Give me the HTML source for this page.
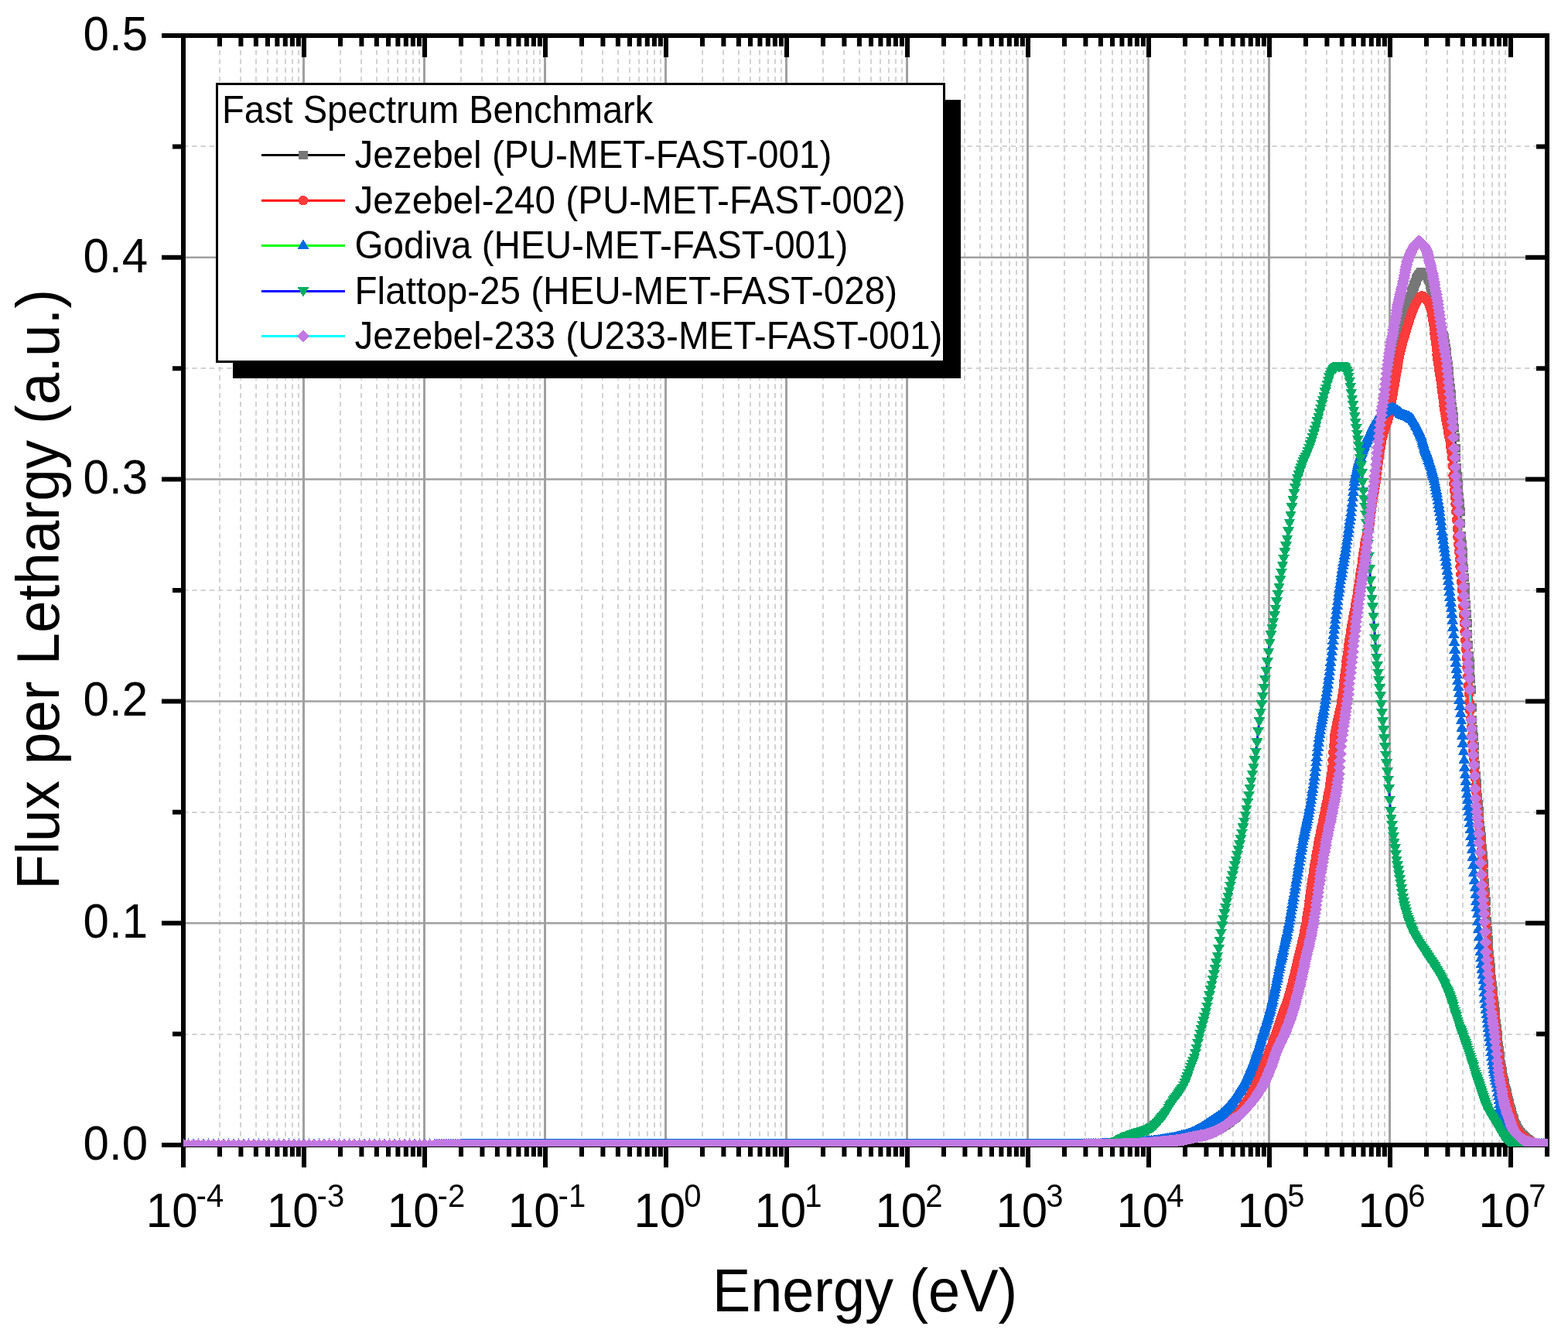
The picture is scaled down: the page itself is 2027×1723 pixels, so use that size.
<!DOCTYPE html><html><head><meta charset="utf-8"><title>Fast Spectrum Benchmark</title><style>html,body{margin:0;padding:0;background:#fff;overflow:hidden}svg{display:block}</style></head><body><svg xmlns="http://www.w3.org/2000/svg" width="2027" height="1723" viewBox="0 0 2027 1723"><rect width="2027" height="1723" fill="#fff"/><path d="M284 1480V46M311 1480V46M331 1480V46M346 1480V46M358 1480V46M369 1480V46M378 1480V46M386 1480V46M440 1480V46M467 1480V46M487 1480V46M502 1480V46M514 1480V46M525 1480V46M534 1480V46M542 1480V46M596 1480V46M623 1480V46M643 1480V46M658 1480V46M670 1480V46M681 1480V46M690 1480V46M698 1480V46M752 1480V46M779 1480V46M799 1480V46M814 1480V46M826 1480V46M837 1480V46M846 1480V46M854 1480V46M908 1480V46M935 1480V46M955 1480V46M970 1480V46M982 1480V46M993 1480V46M1002 1480V46M1010 1480V46M1064 1480V46M1091 1480V46M1111 1480V46M1126 1480V46M1138 1480V46M1149 1480V46M1158 1480V46M1166 1480V46M1220 1480V46M1247 1480V46M1267 1480V46M1282 1480V46M1294 1480V46M1305 1480V46M1314 1480V46M1322 1480V46M1376 1480V46M1403 1480V46M1423 1480V46M1438 1480V46M1450 1480V46M1461 1480V46M1470 1480V46M1478 1480V46M1532 1480V46M1559 1480V46M1579 1480V46M1594 1480V46M1606 1480V46M1617 1480V46M1626 1480V46M1634 1480V46M1688 1480V46M1715 1480V46M1735 1480V46M1750 1480V46M1762 1480V46M1773 1480V46M1782 1480V46M1790 1480V46M1844 1480V46M1871 1480V46M1891 1480V46M1906 1480V46M1918 1480V46M1929 1480V46M1938 1480V46M1946 1480V46" stroke="#d2d2d2" stroke-width="2" stroke-dasharray="6.5 4.86" fill="none"/><path d="M237 1337H2000M237 1050H2000M237 763H2000M237 476H2000M237 189H2000" stroke="#d2d2d2" stroke-width="2" stroke-dasharray="6.3 4.96" fill="none"/><path d="M392.5 49V1477M548.5 49V1477M704.5 49V1477M860.5 49V1477M1016.5 49V1477M1172.5 49V1477M1328.5 49V1477M1484.5 49V1477M1640.5 49V1477M1796.5 49V1477" stroke="#a0a0a0" stroke-width="3" fill="none"/><path d="M240 1193.2H1997M240 906.4H1997M240 619.6H1997M240 332.8H1997" stroke="#a0a0a0" stroke-width="2.5" fill="none"/><path d="M234 43H2003V1483H234ZM240 49V1477H1997V49Z" fill="#000" fill-rule="evenodd"/><path d="M234 1483h6v26h-6zM390 1483h6v26h-6zM546 1483h6v26h-6zM702 1483h6v26h-6zM858 1483h6v26h-6zM1014 1483h6v26h-6zM1170 1483h6v26h-6zM1326 1483h6v26h-6zM1482 1483h6v26h-6zM1638 1483h6v26h-6zM1794 1483h6v26h-6zM1950 1483h6v26h-6zM281 1483h6v12h-6zM308.4 1483h6v12h-6zM327.9 1483h6v12h-6zM343 1483h6v12h-6zM355.4 1483h6v12h-6zM365.8 1483h6v12h-6zM374.9 1483h6v12h-6zM382.9 1483h6v12h-6zM437 1483h6v12h-6zM464.4 1483h6v12h-6zM483.9 1483h6v12h-6zM499 1483h6v12h-6zM511.4 1483h6v12h-6zM521.8 1483h6v12h-6zM530.9 1483h6v12h-6zM538.9 1483h6v12h-6zM593 1483h6v12h-6zM620.4 1483h6v12h-6zM639.9 1483h6v12h-6zM655 1483h6v12h-6zM667.4 1483h6v12h-6zM677.8 1483h6v12h-6zM686.9 1483h6v12h-6zM694.9 1483h6v12h-6zM749 1483h6v12h-6zM776.4 1483h6v12h-6zM795.9 1483h6v12h-6zM811 1483h6v12h-6zM823.4 1483h6v12h-6zM833.8 1483h6v12h-6zM842.9 1483h6v12h-6zM850.9 1483h6v12h-6zM905 1483h6v12h-6zM932.4 1483h6v12h-6zM951.9 1483h6v12h-6zM967 1483h6v12h-6zM979.4 1483h6v12h-6zM989.8 1483h6v12h-6zM998.9 1483h6v12h-6zM1006.9 1483h6v12h-6zM1061 1483h6v12h-6zM1088.4 1483h6v12h-6zM1107.9 1483h6v12h-6zM1123 1483h6v12h-6zM1135.4 1483h6v12h-6zM1145.8 1483h6v12h-6zM1154.9 1483h6v12h-6zM1162.9 1483h6v12h-6zM1217 1483h6v12h-6zM1244.4 1483h6v12h-6zM1263.9 1483h6v12h-6zM1279 1483h6v12h-6zM1291.4 1483h6v12h-6zM1301.8 1483h6v12h-6zM1310.9 1483h6v12h-6zM1318.9 1483h6v12h-6zM1373 1483h6v12h-6zM1400.4 1483h6v12h-6zM1419.9 1483h6v12h-6zM1435 1483h6v12h-6zM1447.4 1483h6v12h-6zM1457.8 1483h6v12h-6zM1466.9 1483h6v12h-6zM1474.9 1483h6v12h-6zM1529 1483h6v12h-6zM1556.4 1483h6v12h-6zM1575.9 1483h6v12h-6zM1591 1483h6v12h-6zM1603.4 1483h6v12h-6zM1613.8 1483h6v12h-6zM1622.9 1483h6v12h-6zM1630.9 1483h6v12h-6zM1685 1483h6v12h-6zM1712.4 1483h6v12h-6zM1731.9 1483h6v12h-6zM1747 1483h6v12h-6zM1759.4 1483h6v12h-6zM1769.8 1483h6v12h-6zM1778.9 1483h6v12h-6zM1786.9 1483h6v12h-6zM1841 1483h6v12h-6zM1868.4 1483h6v12h-6zM1887.9 1483h6v12h-6zM1903 1483h6v12h-6zM1915.4 1483h6v12h-6zM1925.8 1483h6v12h-6zM1934.9 1483h6v12h-6zM1942.9 1483h6v12h-6zM1997 1483h6v12h-6zM390 49h6v25h-6zM546 49h6v25h-6zM702 49h6v25h-6zM858 49h6v25h-6zM1014 49h6v25h-6zM1170 49h6v25h-6zM1326 49h6v25h-6zM1482 49h6v25h-6zM1638 49h6v25h-6zM1794 49h6v25h-6zM1950 49h6v25h-6zM281 49h6v11h-6zM308.4 49h6v11h-6zM327.9 49h6v11h-6zM343 49h6v11h-6zM355.4 49h6v11h-6zM365.8 49h6v11h-6zM374.9 49h6v11h-6zM382.9 49h6v11h-6zM437 49h6v11h-6zM464.4 49h6v11h-6zM483.9 49h6v11h-6zM499 49h6v11h-6zM511.4 49h6v11h-6zM521.8 49h6v11h-6zM530.9 49h6v11h-6zM538.9 49h6v11h-6zM593 49h6v11h-6zM620.4 49h6v11h-6zM639.9 49h6v11h-6zM655 49h6v11h-6zM667.4 49h6v11h-6zM677.8 49h6v11h-6zM686.9 49h6v11h-6zM694.9 49h6v11h-6zM749 49h6v11h-6zM776.4 49h6v11h-6zM795.9 49h6v11h-6zM811 49h6v11h-6zM823.4 49h6v11h-6zM833.8 49h6v11h-6zM842.9 49h6v11h-6zM850.9 49h6v11h-6zM905 49h6v11h-6zM932.4 49h6v11h-6zM951.9 49h6v11h-6zM967 49h6v11h-6zM979.4 49h6v11h-6zM989.8 49h6v11h-6zM998.9 49h6v11h-6zM1006.9 49h6v11h-6zM1061 49h6v11h-6zM1088.4 49h6v11h-6zM1107.9 49h6v11h-6zM1123 49h6v11h-6zM1135.4 49h6v11h-6zM1145.8 49h6v11h-6zM1154.9 49h6v11h-6zM1162.9 49h6v11h-6zM1217 49h6v11h-6zM1244.4 49h6v11h-6zM1263.9 49h6v11h-6zM1279 49h6v11h-6zM1291.4 49h6v11h-6zM1301.8 49h6v11h-6zM1310.9 49h6v11h-6zM1318.9 49h6v11h-6zM1373 49h6v11h-6zM1400.4 49h6v11h-6zM1419.9 49h6v11h-6zM1435 49h6v11h-6zM1447.4 49h6v11h-6zM1457.8 49h6v11h-6zM1466.9 49h6v11h-6zM1474.9 49h6v11h-6zM1529 49h6v11h-6zM1556.4 49h6v11h-6zM1575.9 49h6v11h-6zM1591 49h6v11h-6zM1603.4 49h6v11h-6zM1613.8 49h6v11h-6zM1622.9 49h6v11h-6zM1630.9 49h6v11h-6zM1685 49h6v11h-6zM1712.4 49h6v11h-6zM1731.9 49h6v11h-6zM1747 49h6v11h-6zM1759.4 49h6v11h-6zM1769.8 49h6v11h-6zM1778.9 49h6v11h-6zM1786.9 49h6v11h-6zM1841 49h6v11h-6zM1868.4 49h6v11h-6zM1887.9 49h6v11h-6zM1903 49h6v11h-6zM1915.4 49h6v11h-6zM1925.8 49h6v11h-6zM1934.9 49h6v11h-6zM1942.9 49h6v11h-6zM209 1477h25v6h-25zM209 1190.2h25v6h-25zM209 903.4h25v6h-25zM209 616.6h25v6h-25zM209 329.8h25v6h-25zM209 43h25v6h-25zM223 1333.6h11v6h-11zM223 1046.8h11v6h-11zM223 760h11v6h-11zM223 473.2h11v6h-11zM223 186.4h11v6h-11zM1972 1190.2h25v6h-25zM1972 903.4h25v6h-25zM1972 616.6h25v6h-25zM1972 329.8h25v6h-25zM1986 1333.6h11v6h-11zM1986 1046.8h11v6h-11zM1986 760h11v6h-11zM1986 473.2h11v6h-11zM1986 186.4h11v6h-11z" fill="#000"/><clipPath id="cp"><rect x="237" y="46" width="1764" height="1436"/></clipPath><g clip-path="url(#cp)"><path d="M237 1480 1400 1480 1400.8 1480 1401.5 1480 1402.2 1480 1403 1480 1403.8 1480 1404.5 1480 1405.2 1480 1406 1480 1406.8 1480 1407.5 1480 1408.2 1480 1409 1480 1409.8 1480 1410.5 1480 1411.2 1480 1412 1480 1412.8 1479.9 1413.5 1479.9 1414.2 1479.9 1415 1479.9 1415.8 1479.9 1416.5 1479.9 1417.2 1479.9 1418 1479.9 1418.8 1479.9 1419.5 1479.9 1420.2 1479.9 1421 1479.9 1421.8 1479.8 1422.5 1479.8 1423.2 1479.8 1424 1479.8 1424.8 1479.8 1425.5 1479.8 1426.2 1479.8 1427 1479.8 1427.8 1479.7 1428.5 1479.7 1429.2 1479.7 1430 1479.7 1430.8 1479.7 1431.5 1479.7 1432.2 1479.7 1433 1479.6 1433.8 1479.6 1434.5 1479.6 1435.2 1479.6 1436 1479.6 1436.8 1479.6 1437.5 1479.6 1438.2 1479.5 1439 1479.5 1439.8 1479.5 1440.5 1479.5 1441.2 1479.5 1442 1479.4 1442.8 1479.4 1443.5 1479.4 1444.2 1479.4 1445 1479.4 1445.8 1479.3 1446.5 1479.3 1447.2 1479.3 1448 1479.3 1448.8 1479.3 1449.5 1479.2 1450.2 1479.2 1451 1479.2 1451.8 1479.2 1452.5 1479.1 1453.2 1479.1 1454 1479.1 1454.8 1479.1 1455.5 1479.1 1456.2 1479 1457 1479 1457.8 1479 1458.5 1479 1459.2 1478.9 1460 1478.9 1460.8 1478.9 1461.5 1478.9 1462.2 1478.8 1463 1478.8 1463.8 1478.8 1464.5 1478.8 1465.2 1478.7 1466 1478.7 1466.8 1478.7 1467.5 1478.6 1468.2 1478.6 1469 1478.6 1469.8 1478.6 1470.5 1478.5 1471.2 1478.5 1472 1478.5 1472.8 1478.4 1473.5 1478.4 1474.2 1478.4 1475 1478.4 1475.8 1478.3 1476.5 1478.3 1477.2 1478.3 1478 1478.2 1478.8 1478.2 1479.5 1478.2 1480.2 1478.1 1481 1478.1 1481.8 1478.1 1482.5 1478 1483.2 1478 1484 1478 1484.8 1477.9 1485.5 1477.9 1486.2 1477.9 1487 1477.8 1487.8 1477.8 1488.5 1477.7 1489.2 1477.7 1490 1477.6 1490.8 1477.6 1491.5 1477.5 1492.2 1477.5 1493 1477.4 1493.8 1477.3 1494.5 1477.3 1495.2 1477.2 1496 1477.1 1496.8 1477 1497.5 1477 1498.2 1476.9 1499 1476.8 1499.8 1476.7 1500.5 1476.6 1501.2 1476.6 1502 1476.5 1502.8 1476.4 1503.5 1476.3 1504.2 1476.2 1505 1476.1 1505.8 1476 1506.5 1475.9 1507.2 1475.8 1508 1475.7 1508.8 1475.6 1509.5 1475.5 1510.2 1475.4 1511 1475.3 1511.8 1475.2 1512.5 1475.1 1513.2 1475 1514 1474.8 1514.8 1474.7 1515.5 1474.6 1516.2 1474.5 1517 1474.4 1517.8 1474.3 1518.5 1474.2 1519.2 1474 1520 1473.9 1520.8 1473.8 1521.5 1473.7 1522.2 1473.6 1523 1473.4 1523.8 1473.3 1524.5 1473.2 1525.2 1473.1 1526 1473 1526.8 1472.8 1527.5 1472.7 1528.2 1472.6 1529 1472.5 1529.8 1472.3 1530.5 1472.2 1531.2 1472.1 1532 1472 1532.8 1471.8 1533.5 1471.7 1534.2 1471.6 1535 1471.5 1535.8 1471.3 1536.5 1471.2 1537.2 1471 1538 1470.9 1538.8 1470.8 1539.5 1470.6 1540.2 1470.5 1541 1470.3 1541.8 1470.2 1542.5 1470 1543.2 1469.8 1544 1469.7 1544.8 1469.5 1545.5 1469.4 1546.2 1469.2 1547 1469 1547.8 1468.8 1548.5 1468.7 1549.2 1468.5 1550 1468.3 1550.8 1468.1 1551.5 1467.9 1552.2 1467.7 1553 1467.5 1553.8 1467.3 1554.5 1467.1 1555.2 1466.9 1556 1466.7 1556.8 1466.5 1557.5 1466.3 1558.2 1466.1 1559 1465.8 1559.8 1465.6 1560.5 1465.4 1561.2 1465.1 1562 1464.8 1562.8 1464.6 1563.5 1464.3 1564.2 1464 1565 1463.7 1565.8 1463.4 1566.5 1463.1 1567.2 1462.8 1568 1462.5 1568.8 1462.1 1569.5 1461.8 1570.2 1461.5 1571 1461.1 1571.8 1460.8 1572.5 1460.4 1573.2 1460.1 1574 1459.7 1574.8 1459.3 1575.5 1458.9 1576.2 1458.5 1577 1458.1 1577.8 1457.7 1578.5 1457.3 1579.2 1456.8 1580 1456.4 1580.8 1455.9 1581.5 1455.4 1582.2 1455 1583 1454.5 1583.8 1454 1584.5 1453.5 1585.2 1453 1586 1452.4 1586.8 1451.8 1587.5 1451.3 1588.2 1450.7 1589 1450.1 1589.8 1449.5 1590.5 1448.9 1591.2 1448.4 1592 1447.8 1592.8 1447.2 1593.5 1446.7 1594.2 1446.1 1595 1445.6 1595.8 1445 1596.5 1444.4 1597.2 1443.8 1598 1443.2 1598.8 1442.6 1599.5 1441.9 1600.2 1441.2 1601 1440.5 1601.8 1439.7 1602.5 1438.9 1603.2 1438.1 1604 1437.3 1604.8 1436.5 1605.5 1435.6 1606.2 1434.7 1607 1433.9 1607.8 1433 1608.5 1432 1609.2 1431.1 1610 1430.2 1610.8 1429.2 1611.5 1428.3 1612.2 1427.3 1613 1426.4 1613.8 1425.4 1614.5 1424.4 1615.2 1423.4 1616 1422.3 1616.8 1421.3 1617.5 1420.2 1618.2 1419.1 1619 1418 1619.8 1416.9 1620.5 1415.7 1621.2 1414.5 1622 1413.3 1622.8 1412 1623.5 1410.8 1624.2 1409.4 1625 1408.1 1625.8 1406.7 1626.5 1405.3 1627.2 1403.8 1628 1402.3 1628.8 1400.7 1629.5 1399 1630.2 1397.3 1631 1395.6 1631.8 1393.8 1632.5 1392 1633.2 1390.2 1634 1388.3 1634.8 1386.5 1635.5 1384.6 1636.2 1382.7 1637 1380.9 1637.8 1379 1638.5 1377.1 1639.2 1375.1 1640 1373.1 1640.8 1371.1 1641.5 1369.1 1642.2 1367.1 1643 1365.1 1643.8 1363.1 1644.5 1361.2 1645.2 1359.2 1646 1357.3 1646.8 1355.5 1647.5 1353.7 1648.2 1352 1649 1350.2 1649.8 1348.5 1650.5 1346.8 1651.2 1345.1 1652 1343.4 1652.8 1341.7 1653.5 1339.9 1654.2 1338.1 1655 1336.2 1655.8 1334.3 1656.5 1332.3 1657.2 1330.2 1658 1328.1 1658.8 1326 1659.5 1323.8 1660.2 1321.7 1661 1319.5 1661.8 1317.2 1662.5 1315 1663.2 1312.8 1664 1310.6 1664.8 1308.4 1665.5 1306.3 1666.2 1304.1 1667 1301.9 1667.8 1299.7 1668.5 1297.4 1669.2 1295 1670 1292.6 1670.8 1290 1671.5 1287.3 1672.2 1284.6 1673 1281.7 1673.8 1278.8 1674.5 1275.8 1675.2 1272.7 1676 1269.6 1676.8 1266.4 1677.5 1263.2 1678.2 1260 1679 1256.7 1679.8 1253.5 1680.5 1250.2 1681.2 1246.9 1682 1243.7 1682.8 1240.5 1683.5 1237.3 1684.2 1234.2 1685 1231.1 1685.8 1227.9 1686.5 1224.8 1687.2 1221.6 1688 1218.3 1688.8 1215 1689.5 1211.6 1690.2 1208.1 1691 1204.4 1691.8 1200.7 1692.5 1196.7 1693.2 1192.6 1694 1188.2 1694.8 1183.3 1695.5 1178.2 1696.2 1172.8 1697 1167.3 1697.8 1161.7 1698.5 1156.1 1699.2 1150.6 1700 1145.3 1700.8 1140.3 1701.5 1135.4 1702.2 1130.7 1703 1126 1703.8 1121.3 1704.5 1116.7 1705.2 1112.1 1706 1107.6 1706.8 1103.2 1707.5 1098.9 1708.2 1094.7 1709 1090.5 1709.8 1086.5 1710.5 1082.6 1711.2 1078.8 1712 1075.1 1712.8 1071.6 1713.5 1068 1714.2 1064.5 1715 1061 1715.8 1057.4 1716.5 1053.8 1717.2 1050 1718 1046.1 1718.8 1042.4 1719.5 1038.8 1720.2 1035.1 1721 1031.4 1721.8 1027.6 1722.5 1023.5 1723.2 1019.2 1724 1014.5 1724.8 1009.4 1725.5 1003.8 1726.2 996.6 1727 987.8 1727.8 978.3 1728.5 968.8 1729.2 960.1 1730 952.9 1730.8 947.2 1731.5 942.2 1732.2 937.8 1733 933.7 1733.8 929.9 1734.5 926.2 1735.2 922.5 1736 918.6 1736.8 914.4 1737.5 909.7 1738.2 904.4 1739 898.5 1739.8 892.1 1740.5 885.3 1741.2 878.4 1742 871.6 1742.8 865 1743.5 858.7 1744.2 852.4 1745 846.2 1745.8 840.1 1746.5 834.1 1747.2 828.2 1748 822.5 1748.8 817 1749.5 811.7 1750.2 806.7 1751 801.8 1751.8 797 1752.5 792.3 1753.2 787.6 1754 782.9 1754.8 778.2 1755.5 773.3 1756.2 768.4 1757 763.4 1757.8 758.4 1758.5 753.4 1759.2 748.4 1760 743.4 1760.8 738.4 1761.5 733.3 1762.2 728.1 1763 722.9 1763.8 717.6 1764.5 712.2 1765.2 706.8 1766 701.5 1766.8 696.7 1767.5 692.5 1768.2 688.6 1769 684.7 1769.8 680.5 1770.5 675.7 1771.2 670 1772 663.6 1772.8 657 1773.5 650.6 1774.2 644.9 1775 639.8 1775.8 635 1776.5 630.3 1777.2 625.3 1778 619.9 1778.8 613.7 1779.5 606.8 1780.2 599.6 1781 592.9 1781.8 586.8 1782.5 581 1783.2 575.5 1784 570.2 1784.8 565.5 1785.5 561.4 1786.2 557.7 1787 554.2 1787.8 550.9 1788.5 547.7 1789.2 544.6 1790 541.4 1790.8 538.2 1791.5 534.8 1792.2 531.3 1793 527.4 1793.8 523.4 1794.5 519.2 1795.2 514.9 1796 510.6 1796.8 506.4 1797.5 502.3 1798.2 498.1 1799 494 1799.8 489.8 1800.5 485.8 1801.2 481.8 1802 478 1802.8 474.3 1803.5 470.7 1804.2 467.3 1805 463.9 1805.8 460.5 1806.5 457 1807.2 453.6 1808 450 1808.8 446.3 1809.5 442.5 1810.2 438.6 1811 434.7 1811.8 430.9 1812.5 427.1 1813.2 423.5 1814 420 1814.8 416.7 1815.5 413.5 1816.2 410.3 1817 407.3 1817.8 404.3 1818.5 401.3 1819.2 398.5 1820 395.7 1820.8 392.9 1821.5 390.2 1822.2 387.5 1823 384.9 1823.8 382.3 1824.5 379.7 1825.2 377.3 1826 374.9 1826.8 372.6 1827.5 370.4 1828.2 368.3 1829 366.2 1829.8 364.2 1830.5 362.2 1831.2 360.4 1832 358.8 1832.8 357.4 1833.5 356.2 1834.2 355.1 1835 354 1835.8 353 1836.5 352.1 1837.2 351.5 1838 351.1 1838.8 351 1839.5 351.2 1840.2 351.5 1841 352 1841.8 352.6 1842.5 353.4 1843.2 354.2 1844 355 1844.8 356.1 1845.5 357.6 1846.2 359.4 1847 361.5 1847.8 363.8 1848.5 366.3 1849.2 368.9 1850 372 1850.8 375.6 1851.5 379.5 1852.2 383.7 1853 388 1853.8 392.9 1854.5 398.6 1855.2 404.4 1856 409.7 1856.8 413.9 1857.5 416.8 1858.2 419.1 1859 421.1 1859.8 422.8 1860.5 424.2 1861.2 425.5 1862 426.8 1862.8 428 1863.5 429.3 1864.2 430.7 1865 432.4 1865.8 434.3 1866.5 436.6 1867.2 439.4 1868 443.9 1868.8 449.3 1869.5 454.7 1870.2 460.4 1871 466.5 1871.8 472.9 1872.5 479.6 1873.2 486.6 1874 493.8 1874.8 501.4 1875.5 509.3 1876.2 517.3 1877 525 1877.8 531.8 1878.5 538.1 1879.2 544.9 1880 553.3 1880.8 565.3 1881.5 579.1 1882.2 591.7 1883 604 1883.8 615.6 1884.5 625.8 1885.2 634.2 1886 642 1886.8 650.5 1887.5 661.3 1888.2 676.8 1889 692.3 1889.8 703.9 1890.5 713.9 1891.2 723.7 1892 734.5 1892.8 746.1 1893.5 758.1 1894.2 769.9 1895 781.3 1895.8 793 1896.5 805.5 1897.2 819.5 1898 833.9 1898.8 847.2 1899.5 857.9 1900.2 867.1 1901 877.3 1901.8 891.8 1902.5 914.5 1903.2 930.4 1904 942 1904.8 952.7 1905.5 964.3 1906.2 976.2 1907 988.7 1907.8 1002.6 1908.5 1012 1909.2 1021 1910 1030 1910.8 1039.1 1911.5 1048.3 1912.2 1057.4 1913 1066 1913.8 1073.8 1914.5 1081 1915.2 1088.3 1916 1096.1 1916.8 1105.2 1917.5 1116 1918.2 1128 1919 1140.3 1919.8 1152.4 1920.5 1164.7 1921.2 1177.4 1922 1190.2 1922.8 1202.6 1923.5 1214.2 1924.2 1224.7 1925 1233.9 1925.8 1242.6 1926.5 1250.7 1927.2 1258.4 1928 1265.8 1928.8 1273 1929.5 1280 1930.2 1286.8 1931 1293.7 1931.8 1300.7 1932.5 1307.8 1933.2 1315 1934 1322.4 1934.8 1329.7 1935.5 1337 1936.2 1344.2 1937 1351.1 1937.8 1357.8 1938.5 1364.1 1939.2 1370 1940 1375.5 1940.8 1380.3 1941.5 1384.7 1942.2 1388.8 1943 1392.7 1943.8 1396.3 1944.5 1399.8 1945.2 1403.1 1946 1406.3 1946.8 1409.5 1947.5 1412.6 1948.2 1415.7 1949 1418.8 1949.8 1422 1950.5 1425 1951.2 1428.1 1952 1431 1952.8 1433.8 1953.5 1436.6 1954.2 1439.1 1955 1441.7 1955.8 1444.2 1956.5 1446.6 1957.2 1448.9 1958 1451.2 1958.8 1453.2 1959.5 1454.9 1960.2 1456.5 1961 1457.9 1961.8 1459.1 1962.5 1460.3 1963.2 1461.4 1964 1462.4 1964.8 1463.4 1965.5 1464.3 1966.2 1465.2 1967 1466 1967.8 1466.8 1968.5 1467.5 1969.2 1468.2 1970 1468.9 1970.8 1469.6 1971.5 1470.2 1972.2 1470.8 1973 1471.4 1973.8 1472 1974.5 1472.6 1975.2 1473.2 1976 1473.9 1976.8 1474.5 1977.5 1475.2 1978.2 1475.9 1979 1476.5 1979.8 1477.1 1980.5 1477.6 1981.2 1478.1 1982 1478.6 1982.8 1478.9 1983.5 1479.2 1984.2 1479.4 1985 1479.5 1985.8 1479.5 1986.5 1479.6 1987.2 1479.6 1988 1479.6 1988.8 1479.6 1989.5 1479.7 1990.2 1479.7 1991 1479.7 1991.8 1479.7 1992.5 1479.8 1993.2 1479.8 1994 1479.8 1994.8 1479.8 1995.5 1479.8 1996.2 1479.9 1997 1479.9 1997.8 1479.9 1998.5 1479.9 1999.2 1479.9 2000 1479.9 2000.8 1479.9 2001.5 1479.9 2002.2 1480 2003 1480 2003.8 1480 2004.5 1480 2005.2 1480 2006 1480 2006.8 1480 2007.5 1480" stroke="#000000" stroke-width="3" fill="none" stroke-linejoin="round"/><path d="M231 1474.5h12v11h-12zM237.5 1474.5h12v11h-12zM244 1474.5h12v11h-12zM250.5 1474.5h12v11h-12zM257 1474.5h12v11h-12zM263.5 1474.5h12v11h-12zM270 1474.5h12v11h-12zM276.5 1474.5h12v11h-12zM283 1474.5h12v11h-12zM289.5 1474.5h12v11h-12zM296 1474.5h12v11h-12zM302.5 1474.5h12v11h-12zM309 1474.5h12v11h-12zM315.5 1474.5h12v11h-12zM322 1474.5h12v11h-12zM328.5 1474.5h12v11h-12zM335 1474.5h12v11h-12zM341.5 1474.5h12v11h-12zM348 1474.5h12v11h-12zM354.5 1474.5h12v11h-12zM361 1474.5h12v11h-12zM367.5 1474.5h12v11h-12zM374 1474.5h12v11h-12zM380.5 1474.5h12v11h-12zM387 1474.5h12v11h-12zM393.5 1474.5h12v11h-12zM400 1474.5h12v11h-12zM406.5 1474.5h12v11h-12zM413 1474.5h12v11h-12zM419.5 1474.5h12v11h-12zM426 1474.5h12v11h-12zM432.5 1474.5h12v11h-12zM439 1474.5h12v11h-12zM445.5 1474.5h12v11h-12zM452 1474.5h12v11h-12zM458.5 1474.5h12v11h-12zM465 1474.5h12v11h-12zM471.5 1474.5h12v11h-12zM478 1474.5h12v11h-12zM484.5 1474.5h12v11h-12zM491 1474.5h12v11h-12zM497.5 1474.5h12v11h-12zM504 1474.5h12v11h-12zM510.5 1474.5h12v11h-12zM517 1474.5h12v11h-12zM523.5 1474.5h12v11h-12zM530 1474.5h12v11h-12zM536.5 1474.5h12v11h-12zM543 1474.5h12v11h-12zM549.5 1474.5h12v11h-12zM556 1474.5h12v11h-12zM559 1474.5h12v11h-12zM562 1474.5h12v11h-12zM565 1474.5h12v11h-12zM568 1474.5h12v11h-12zM571 1474.5h12v11h-12zM574 1474.5h12v11h-12zM577 1474.5h12v11h-12zM580 1474.5h12v11h-12zM583 1474.5h12v11h-12zM586 1474.5h12v11h-12zM589 1474.5h12v11h-12zM596 1474.2H1400V1490H596zM1394 1474.5h12v11h-12zM1394.8 1474.5h12v11h-12zM1395.5 1474.5h12v11h-12zM1396.2 1474.5h12v11h-12zM1397 1474.5h12v11h-12zM1397.8 1474.5h12v11h-12zM1398.5 1474.5h12v11h-12zM1399.2 1474.5h12v11h-12zM1400 1474.5h12v11h-12zM1400.8 1474.5h12v11h-12zM1401.5 1474.5h12v11h-12zM1402.2 1474.5h12v11h-12zM1403 1474.5h12v11h-12zM1403.8 1474.5h12v11h-12zM1404.5 1474.5h12v11h-12zM1405.2 1474.5h12v11h-12zM1406 1474.5h12v11h-12zM1406.8 1474.4h12v11h-12zM1407.5 1474.4h12v11h-12zM1408.2 1474.4h12v11h-12zM1409 1474.4h12v11h-12zM1409.8 1474.4h12v11h-12zM1410.5 1474.4h12v11h-12zM1411.2 1474.4h12v11h-12zM1412 1474.4h12v11h-12zM1412.8 1474.4h12v11h-12zM1413.5 1474.4h12v11h-12zM1414.2 1474.4h12v11h-12zM1415 1474.4h12v11h-12zM1415.8 1474.3h12v11h-12zM1416.5 1474.3h12v11h-12zM1417.2 1474.3h12v11h-12zM1418 1474.3h12v11h-12zM1418.8 1474.3h12v11h-12zM1419.5 1474.3h12v11h-12zM1420.2 1474.3h12v11h-12zM1421 1474.3h12v11h-12zM1421.8 1474.2h12v11h-12zM1422.5 1474.2h12v11h-12zM1423.2 1474.2h12v11h-12zM1424 1474.2h12v11h-12zM1424.8 1474.2h12v11h-12zM1425.5 1474.2h12v11h-12zM1426.2 1474.2h12v11h-12zM1427 1474.1h12v11h-12zM1427.8 1474.1h12v11h-12zM1428.5 1474.1h12v11h-12zM1429.2 1474.1h12v11h-12zM1430 1474.1h12v11h-12zM1430.8 1474.1h12v11h-12zM1431.5 1474.1h12v11h-12zM1432.2 1474h12v11h-12zM1433 1474h12v11h-12zM1433.8 1474h12v11h-12zM1434.5 1474h12v11h-12zM1435.2 1474h12v11h-12zM1436 1473.9h12v11h-12zM1436.8 1473.9h12v11h-12zM1437.5 1473.9h12v11h-12zM1438.2 1473.9h12v11h-12zM1439 1473.9h12v11h-12zM1439.8 1473.8h12v11h-12zM1440.5 1473.8h12v11h-12zM1441.2 1473.8h12v11h-12zM1442 1473.8h12v11h-12zM1442.8 1473.8h12v11h-12zM1443.5 1473.7h12v11h-12zM1444.2 1473.7h12v11h-12zM1445 1473.7h12v11h-12zM1445.8 1473.7h12v11h-12zM1446.5 1473.6h12v11h-12zM1447.2 1473.6h12v11h-12zM1448 1473.6h12v11h-12zM1448.8 1473.6h12v11h-12zM1449.5 1473.6h12v11h-12zM1450.2 1473.5h12v11h-12zM1451 1473.5h12v11h-12zM1451.8 1473.5h12v11h-12zM1452.5 1473.5h12v11h-12zM1453.2 1473.4h12v11h-12zM1454 1473.4h12v11h-12zM1454.8 1473.4h12v11h-12zM1455.5 1473.4h12v11h-12zM1456.2 1473.3h12v11h-12zM1457 1473.3h12v11h-12zM1457.8 1473.3h12v11h-12zM1458.5 1473.3h12v11h-12zM1459.2 1473.2h12v11h-12zM1460 1473.2h12v11h-12zM1460.8 1473.2h12v11h-12zM1461.5 1473.1h12v11h-12zM1462.2 1473.1h12v11h-12zM1463 1473.1h12v11h-12zM1463.8 1473.1h12v11h-12zM1464.5 1473h12v11h-12zM1465.2 1473h12v11h-12zM1466 1473h12v11h-12zM1466.8 1472.9h12v11h-12zM1467.5 1472.9h12v11h-12zM1468.2 1472.9h12v11h-12zM1469 1472.9h12v11h-12zM1469.8 1472.8h12v11h-12zM1470.5 1472.8h12v11h-12zM1471.2 1472.8h12v11h-12zM1472 1472.7h12v11h-12zM1472.8 1472.7h12v11h-12zM1473.5 1472.7h12v11h-12zM1474.2 1472.6h12v11h-12zM1475 1472.6h12v11h-12zM1475.8 1472.6h12v11h-12zM1476.5 1472.5h12v11h-12zM1477.2 1472.5h12v11h-12zM1478 1472.5h12v11h-12zM1478.8 1472.4h12v11h-12zM1479.5 1472.4h12v11h-12zM1480.2 1472.4h12v11h-12zM1481 1472.3h12v11h-12zM1481.8 1472.3h12v11h-12zM1482.5 1472.2h12v11h-12zM1483.2 1472.2h12v11h-12zM1484 1472.1h12v11h-12zM1484.8 1472.1h12v11h-12zM1485.5 1472h12v11h-12zM1486.2 1472h12v11h-12zM1487 1471.9h12v11h-12zM1487.8 1471.8h12v11h-12zM1488.5 1471.8h12v11h-12zM1489.2 1471.7h12v11h-12zM1490 1471.6h12v11h-12zM1490.8 1471.5h12v11h-12zM1491.5 1471.5h12v11h-12zM1492.2 1471.4h12v11h-12zM1493 1471.3h12v11h-12zM1493.8 1471.2h12v11h-12zM1494.5 1471.1h12v11h-12zM1495.2 1471.1h12v11h-12zM1496 1471h12v11h-12zM1496.8 1470.9h12v11h-12zM1497.5 1470.8h12v11h-12zM1498.2 1470.7h12v11h-12zM1499 1470.6h12v11h-12zM1499.8 1470.5h12v11h-12zM1500.5 1470.4h12v11h-12zM1501.2 1470.3h12v11h-12zM1502 1470.2h12v11h-12zM1502.8 1470.1h12v11h-12zM1503.5 1470h12v11h-12zM1504.2 1469.9h12v11h-12zM1505 1469.8h12v11h-12zM1505.8 1469.7h12v11h-12zM1506.5 1469.6h12v11h-12zM1507.2 1469.5h12v11h-12zM1508 1469.3h12v11h-12zM1508.8 1469.2h12v11h-12zM1509.5 1469.1h12v11h-12zM1510.2 1469h12v11h-12zM1511 1468.9h12v11h-12zM1511.8 1468.8h12v11h-12zM1512.5 1468.7h12v11h-12zM1513.2 1468.5h12v11h-12zM1514 1468.4h12v11h-12zM1514.8 1468.3h12v11h-12zM1515.5 1468.2h12v11h-12zM1516.2 1468.1h12v11h-12zM1517 1467.9h12v11h-12zM1517.8 1467.8h12v11h-12zM1518.5 1467.7h12v11h-12zM1519.2 1467.6h12v11h-12zM1520 1467.5h12v11h-12zM1520.8 1467.3h12v11h-12zM1521.5 1467.2h12v11h-12zM1522.2 1467.1h12v11h-12zM1523 1467h12v11h-12zM1523.8 1466.8h12v11h-12zM1524.5 1466.7h12v11h-12zM1525.2 1466.6h12v11h-12zM1526 1466.5h12v11h-12zM1526.8 1466.3h12v11h-12zM1527.5 1466.2h12v11h-12zM1528.2 1466.1h12v11h-12zM1529 1466h12v11h-12zM1529.8 1465.8h12v11h-12zM1530.5 1465.7h12v11h-12zM1531.2 1465.5h12v11h-12zM1532 1465.4h12v11h-12zM1532.8 1465.3h12v11h-12zM1533.5 1465.1h12v11h-12zM1534.2 1465h12v11h-12zM1535 1464.8h12v11h-12zM1535.8 1464.7h12v11h-12zM1536.5 1464.5h12v11h-12zM1537.2 1464.3h12v11h-12zM1538 1464.2h12v11h-12zM1538.8 1464h12v11h-12zM1539.5 1463.9h12v11h-12zM1540.2 1463.7h12v11h-12zM1541 1463.5h12v11h-12zM1541.8 1463.3h12v11h-12zM1542.5 1463.2h12v11h-12zM1543.2 1463h12v11h-12zM1544 1462.8h12v11h-12zM1544.8 1462.6h12v11h-12zM1545.5 1462.4h12v11h-12zM1546.2 1462.2h12v11h-12zM1547 1462h12v11h-12zM1547.8 1461.8h12v11h-12zM1548.5 1461.6h12v11h-12zM1549.2 1461.4h12v11h-12zM1550 1461.2h12v11h-12zM1550.8 1461h12v11h-12zM1551.5 1460.8h12v11h-12zM1552.2 1460.6h12v11h-12zM1553 1460.3h12v11h-12zM1553.8 1460.1h12v11h-12zM1554.5 1459.9h12v11h-12zM1555.2 1459.6h12v11h-12zM1556 1459.3h12v11h-12zM1556.8 1459.1h12v11h-12zM1557.5 1458.8h12v11h-12zM1558.2 1458.5h12v11h-12zM1559 1458.2h12v11h-12zM1559.8 1457.9h12v11h-12zM1560.5 1457.6h12v11h-12zM1561.2 1457.3h12v11h-12zM1562 1457h12v11h-12zM1562.8 1456.6h12v11h-12zM1563.5 1456.3h12v11h-12zM1564.2 1456h12v11h-12zM1565 1455.6h12v11h-12zM1565.8 1455.3h12v11h-12zM1566.5 1454.9h12v11h-12zM1567.2 1454.6h12v11h-12zM1568 1454.2h12v11h-12zM1568.8 1453.8h12v11h-12zM1569.5 1453.4h12v11h-12zM1570.2 1453h12v11h-12zM1571 1452.6h12v11h-12zM1571.8 1452.2h12v11h-12zM1572.5 1451.8h12v11h-12zM1573.2 1451.3h12v11h-12zM1574 1450.9h12v11h-12zM1574.8 1450.4h12v11h-12zM1575.5 1449.9h12v11h-12zM1576.2 1449.5h12v11h-12zM1577 1449h12v11h-12zM1577.8 1448.5h12v11h-12zM1578.5 1448h12v11h-12zM1579.2 1447.5h12v11h-12zM1580 1446.9h12v11h-12zM1580.8 1446.3h12v11h-12zM1581.5 1445.8h12v11h-12zM1582.2 1445.2h12v11h-12zM1583 1444.6h12v11h-12zM1583.8 1444h12v11h-12zM1584.5 1443.4h12v11h-12zM1585.2 1442.9h12v11h-12zM1586 1442.3h12v11h-12zM1586.8 1441.7h12v11h-12zM1587.5 1441.2h12v11h-12zM1588.2 1440.6h12v11h-12zM1589 1440.1h12v11h-12zM1589.8 1439.5h12v11h-12zM1590.5 1438.9h12v11h-12zM1591.2 1438.3h12v11h-12zM1592 1437.7h12v11h-12zM1592.8 1437.1h12v11h-12zM1593.5 1436.4h12v11h-12zM1594.2 1435.7h12v11h-12zM1595 1435h12v11h-12zM1595.8 1434.2h12v11h-12zM1596.5 1433.4h12v11h-12zM1597.2 1432.6h12v11h-12zM1598 1431.8h12v11h-12zM1598.8 1431h12v11h-12zM1599.5 1430.1h12v11h-12zM1600.2 1429.2h12v11h-12zM1601 1428.4h12v11h-12zM1601.8 1427.5h12v11h-12zM1602.5 1426.5h12v11h-12zM1603.2 1425.6h12v11h-12zM1604 1424.7h12v11h-12zM1604.8 1423.7h12v11h-12zM1605.5 1422.8h12v11h-12zM1606.2 1421.8h12v11h-12zM1607 1420.9h12v11h-12zM1607.8 1419.9h12v11h-12zM1608.5 1418.9h12v11h-12zM1609.2 1417.9h12v11h-12zM1610 1416.8h12v11h-12zM1610.8 1415.8h12v11h-12zM1611.5 1414.7h12v11h-12zM1612.2 1413.6h12v11h-12zM1613 1412.5h12v11h-12zM1613.8 1411.4h12v11h-12zM1614.5 1410.2h12v11h-12zM1615.2 1409h12v11h-12zM1616 1407.8h12v11h-12zM1616.8 1406.5h12v11h-12zM1617.5 1405.3h12v11h-12zM1618.2 1403.9h12v11h-12zM1619 1402.6h12v11h-12zM1619.8 1401.2h12v11h-12zM1620.5 1399.8h12v11h-12zM1621.2 1398.3h12v11h-12zM1622 1396.8h12v11h-12zM1622.8 1395.2h12v11h-12zM1623.5 1393.5h12v11h-12zM1624.2 1391.8h12v11h-12zM1625 1390.1h12v11h-12zM1625.8 1388.3h12v11h-12zM1626.5 1386.5h12v11h-12zM1627.2 1384.7h12v11h-12zM1628 1382.8h12v11h-12zM1628.8 1381h12v11h-12zM1629.5 1379.1h12v11h-12zM1630.2 1377.2h12v11h-12zM1631 1375.4h12v11h-12zM1631.8 1373.5h12v11h-12zM1632.5 1371.6h12v11h-12zM1633.2 1369.6h12v11h-12zM1634 1367.6h12v11h-12zM1634.8 1365.6h12v11h-12zM1635.5 1363.6h12v11h-12zM1636.2 1361.6h12v11h-12zM1637 1359.6h12v11h-12zM1637.8 1357.6h12v11h-12zM1638.5 1355.7h12v11h-12zM1639.2 1353.7h12v11h-12zM1640 1351.8h12v11h-12zM1640.8 1350h12v11h-12zM1641.5 1348.2h12v11h-12zM1642.2 1346.5h12v11h-12zM1643 1344.7h12v11h-12zM1643.8 1343h12v11h-12zM1644.5 1341.3h12v11h-12zM1645.2 1339.6h12v11h-12zM1646 1337.9h12v11h-12zM1646.8 1336.2h12v11h-12zM1647.5 1334.4h12v11h-12zM1648.2 1332.6h12v11h-12zM1649 1330.7h12v11h-12zM1649.8 1328.8h12v11h-12zM1650.5 1326.8h12v11h-12zM1651.2 1324.7h12v11h-12zM1652 1322.6h12v11h-12zM1652.8 1320.5h12v11h-12zM1653.5 1318.3h12v11h-12zM1654.2 1316.2h12v11h-12zM1655 1314h12v11h-12zM1655.8 1311.7h12v11h-12zM1656.5 1309.5h12v11h-12zM1657.2 1307.3h12v11h-12zM1658 1305.1h12v11h-12zM1658.8 1302.9h12v11h-12zM1659.5 1300.8h12v11h-12zM1660.2 1298.6h12v11h-12zM1661 1296.4h12v11h-12zM1661.8 1294.2h12v11h-12zM1662.5 1291.9h12v11h-12zM1663.2 1289.5h12v11h-12zM1664 1287.1h12v11h-12zM1664.8 1284.5h12v11h-12zM1665.5 1281.8h12v11h-12zM1666.2 1279.1h12v11h-12zM1667 1276.2h12v11h-12zM1667.8 1273.3h12v11h-12zM1668.5 1270.3h12v11h-12zM1669.2 1267.2h12v11h-12zM1670 1264.1h12v11h-12zM1670.8 1260.9h12v11h-12zM1671.5 1257.7h12v11h-12zM1672.2 1254.5h12v11h-12zM1673 1251.2h12v11h-12zM1673.8 1248h12v11h-12zM1674.5 1244.7h12v11h-12zM1675.2 1241.4h12v11h-12zM1676 1238.2h12v11h-12zM1676.8 1235h12v11h-12zM1677.5 1231.8h12v11h-12zM1678.2 1228.7h12v11h-12zM1679 1225.6h12v11h-12zM1679.8 1222.4h12v11h-12zM1680.5 1219.3h12v11h-12zM1681.2 1216.1h12v11h-12zM1682 1212.8h12v11h-12zM1682.8 1209.5h12v11h-12zM1683.5 1206.1h12v11h-12zM1684.2 1202.6h12v11h-12zM1685 1198.9h12v11h-12zM1685.8 1195.2h12v11h-12zM1686.5 1191.2h12v11h-12zM1687.2 1187.1h12v11h-12zM1688 1182.7h12v11h-12zM1688.8 1177.8h12v11h-12zM1689.5 1172.7h12v11h-12zM1690.2 1167.3h12v11h-12zM1691 1161.8h12v11h-12zM1691.8 1156.2h12v11h-12zM1692.5 1150.6h12v11h-12zM1693.2 1145.1h12v11h-12zM1694 1139.8h12v11h-12zM1694.8 1134.8h12v11h-12zM1695.5 1129.9h12v11h-12zM1696.2 1125.2h12v11h-12zM1697 1120.5h12v11h-12zM1697.8 1115.8h12v11h-12zM1698.5 1111.2h12v11h-12zM1699.2 1106.6h12v11h-12zM1700 1102.1h12v11h-12zM1700.8 1097.7h12v11h-12zM1701.5 1093.4h12v11h-12zM1702.2 1089.2h12v11h-12zM1703 1085h12v11h-12zM1703.8 1081h12v11h-12zM1704.5 1077.1h12v11h-12zM1705.2 1073.3h12v11h-12zM1706 1069.6h12v11h-12zM1706.8 1066.1h12v11h-12zM1707.5 1062.5h12v11h-12zM1708.2 1059h12v11h-12zM1709 1055.5h12v11h-12zM1709.8 1051.9h12v11h-12zM1710.5 1048.3h12v11h-12zM1711.2 1044.5h12v11h-12zM1712 1040.6h12v11h-12zM1712.8 1036.9h12v11h-12zM1713.5 1033.3h12v11h-12zM1714.2 1029.6h12v11h-12zM1715 1025.9h12v11h-12zM1715.8 1022.1h12v11h-12zM1716.5 1018h12v11h-12zM1717.2 1013.7h12v11h-12zM1718 1009h12v11h-12zM1718.8 1003.9h12v11h-12zM1719.5 998.3h12v11h-12zM1720.2 991.1h12v11h-12zM1721 982.3h12v11h-12zM1721.8 972.8h12v11h-12zM1722.5 963.3h12v11h-12zM1723.2 954.6h12v11h-12zM1724 947.4h12v11h-12zM1724.8 941.7h12v11h-12zM1725.5 936.7h12v11h-12zM1726.2 932.3h12v11h-12zM1727 928.2h12v11h-12zM1727.8 924.4h12v11h-12zM1728.5 920.7h12v11h-12zM1729.2 917h12v11h-12zM1730 913.1h12v11h-12zM1730.8 908.9h12v11h-12zM1731.5 904.2h12v11h-12zM1732.2 898.9h12v11h-12zM1733 893h12v11h-12zM1733.8 886.6h12v11h-12zM1734.5 879.8h12v11h-12zM1735.2 872.9h12v11h-12zM1736 866.1h12v11h-12zM1736.8 859.5h12v11h-12zM1737.5 853.2h12v11h-12zM1738.2 846.9h12v11h-12zM1739 840.7h12v11h-12zM1739.8 834.6h12v11h-12zM1740.5 828.6h12v11h-12zM1741.2 822.7h12v11h-12zM1742 817h12v11h-12zM1742.8 811.5h12v11h-12zM1743.5 806.2h12v11h-12zM1744.2 801.2h12v11h-12zM1745 796.3h12v11h-12zM1745.8 791.5h12v11h-12zM1746.5 786.8h12v11h-12zM1747.2 782.1h12v11h-12zM1748 777.4h12v11h-12zM1748.8 772.7h12v11h-12zM1749.5 767.8h12v11h-12zM1750.2 762.9h12v11h-12zM1751 757.9h12v11h-12zM1751.8 752.9h12v11h-12zM1752.5 747.9h12v11h-12zM1753.2 742.9h12v11h-12zM1754 737.9h12v11h-12zM1754.8 732.9h12v11h-12zM1755.5 727.8h12v11h-12zM1756.2 722.6h12v11h-12zM1757 717.4h12v11h-12zM1757.8 712.1h12v11h-12zM1758.5 706.7h12v11h-12zM1759.2 701.3h12v11h-12zM1760 696h12v11h-12zM1760.8 691.2h12v11h-12zM1761.5 687h12v11h-12zM1762.2 683.1h12v11h-12zM1763 679.2h12v11h-12zM1763.8 675h12v11h-12zM1764.5 670.2h12v11h-12zM1765.2 664.5h12v11h-12zM1766 658.1h12v11h-12zM1766.8 651.5h12v11h-12zM1767.5 645.1h12v11h-12zM1768.2 639.4h12v11h-12zM1769 634.3h12v11h-12zM1769.8 629.5h12v11h-12zM1770.5 624.8h12v11h-12zM1771.2 619.8h12v11h-12zM1772 614.4h12v11h-12zM1772.8 608.2h12v11h-12zM1773.5 601.3h12v11h-12zM1774.2 594.1h12v11h-12zM1775 587.4h12v11h-12zM1775.8 581.3h12v11h-12zM1776.5 575.5h12v11h-12zM1777.2 570h12v11h-12zM1778 564.7h12v11h-12zM1778.8 560h12v11h-12zM1779.5 555.9h12v11h-12zM1780.2 552.2h12v11h-12zM1781 548.7h12v11h-12zM1781.8 545.4h12v11h-12zM1782.5 542.2h12v11h-12zM1783.2 539.1h12v11h-12zM1784 535.9h12v11h-12zM1784.8 532.7h12v11h-12zM1785.5 529.3h12v11h-12zM1786.2 525.8h12v11h-12zM1787 521.9h12v11h-12zM1787.8 517.9h12v11h-12zM1788.5 513.7h12v11h-12zM1789.2 509.4h12v11h-12zM1790 505.1h12v11h-12zM1790.8 500.9h12v11h-12zM1791.5 496.8h12v11h-12zM1792.2 492.6h12v11h-12zM1793 488.5h12v11h-12zM1793.8 484.3h12v11h-12zM1794.5 480.3h12v11h-12zM1795.2 476.3h12v11h-12zM1796 472.5h12v11h-12zM1796.8 468.8h12v11h-12zM1797.5 465.2h12v11h-12zM1798.2 461.8h12v11h-12zM1799 458.4h12v11h-12zM1799.8 455h12v11h-12zM1800.5 451.5h12v11h-12zM1801.2 448.1h12v11h-12zM1802 444.5h12v11h-12zM1802.8 440.8h12v11h-12zM1803.5 437h12v11h-12zM1804.2 433.1h12v11h-12zM1805 429.2h12v11h-12zM1805.8 425.4h12v11h-12zM1806.5 421.6h12v11h-12zM1807.2 418h12v11h-12zM1808 414.5h12v11h-12zM1808.8 411.2h12v11h-12zM1809.5 408h12v11h-12zM1810.2 404.8h12v11h-12zM1811 401.8h12v11h-12zM1811.8 398.8h12v11h-12zM1812.5 395.8h12v11h-12zM1813.2 393h12v11h-12zM1814 390.2h12v11h-12zM1814.8 387.4h12v11h-12zM1815.5 384.7h12v11h-12zM1816.2 382h12v11h-12zM1817 379.4h12v11h-12zM1817.8 376.8h12v11h-12zM1818.5 374.2h12v11h-12zM1819.2 371.8h12v11h-12zM1820 369.4h12v11h-12zM1820.8 367.1h12v11h-12zM1821.5 364.9h12v11h-12zM1822.2 362.8h12v11h-12zM1823 360.7h12v11h-12zM1823.8 358.7h12v11h-12zM1824.5 356.7h12v11h-12zM1825.2 354.9h12v11h-12zM1826 353.3h12v11h-12zM1826.8 351.9h12v11h-12zM1827.5 350.7h12v11h-12zM1828.2 349.6h12v11h-12zM1829 348.5h12v11h-12zM1829.8 347.5h12v11h-12zM1830.5 346.6h12v11h-12zM1831.2 346h12v11h-12zM1832 345.6h12v11h-12zM1832.8 345.5h12v11h-12zM1833.5 345.7h12v11h-12zM1834.2 346h12v11h-12zM1835 346.5h12v11h-12zM1835.8 347.1h12v11h-12zM1836.5 347.9h12v11h-12zM1837.2 348.7h12v11h-12zM1838 349.5h12v11h-12zM1838.8 350.6h12v11h-12zM1839.5 352.1h12v11h-12zM1840.2 353.9h12v11h-12zM1841 356h12v11h-12zM1841.8 358.3h12v11h-12zM1842.5 360.8h12v11h-12zM1843.2 363.4h12v11h-12zM1844 366.5h12v11h-12zM1844.8 370.1h12v11h-12zM1845.5 374h12v11h-12zM1846.2 378.2h12v11h-12zM1847 382.5h12v11h-12zM1847.8 387.4h12v11h-12zM1848.5 393.1h12v11h-12zM1849.2 398.9h12v11h-12zM1850 404.2h12v11h-12zM1850.8 408.4h12v11h-12zM1851.5 411.3h12v11h-12zM1852.2 413.6h12v11h-12zM1853 415.6h12v11h-12zM1853.8 417.3h12v11h-12zM1854.5 418.7h12v11h-12zM1855.2 420h12v11h-12zM1856 421.3h12v11h-12zM1856.8 422.5h12v11h-12zM1857.5 423.8h12v11h-12zM1858.2 425.2h12v11h-12zM1859 426.9h12v11h-12zM1859.8 428.8h12v11h-12zM1860.5 431.1h12v11h-12zM1861.2 433.9h12v11h-12zM1862 438.4h12v11h-12zM1862.8 443.8h12v11h-12zM1863.5 449.2h12v11h-12zM1864.2 454.9h12v11h-12zM1865 461h12v11h-12zM1865.8 467.4h12v11h-12zM1866.5 474.1h12v11h-12zM1867.2 481.1h12v11h-12zM1868 488.3h12v11h-12zM1868.8 495.9h12v11h-12zM1869.5 503.8h12v11h-12zM1870.2 511.8h12v11h-12zM1871 519.5h12v11h-12zM1871.8 526.3h12v11h-12zM1872.5 532.6h12v11h-12zM1873.2 539.4h12v11h-12zM1874 547.8h12v11h-12zM1874.8 559.8h12v11h-12zM1875.5 573.6h12v11h-12zM1876.2 586.2h12v11h-12zM1877 598.5h12v11h-12zM1877.8 610.1h12v11h-12zM1878.5 620.3h12v11h-12zM1879.2 628.7h12v11h-12zM1880 636.5h12v11h-12zM1880.8 645h12v11h-12zM1881.5 655.8h12v11h-12zM1882.2 671.3h12v11h-12zM1883 686.8h12v11h-12zM1883.8 698.4h12v11h-12zM1884.5 708.4h12v11h-12zM1885.2 718.2h12v11h-12zM1886 729h12v11h-12zM1886.8 740.6h12v11h-12zM1887.5 752.6h12v11h-12zM1888.2 764.4h12v11h-12zM1889 775.8h12v11h-12zM1889.8 787.5h12v11h-12zM1890.5 800h12v11h-12zM1891.2 814h12v11h-12zM1892 828.4h12v11h-12zM1892.8 841.7h12v11h-12zM1893.5 852.4h12v11h-12zM1894.2 861.6h12v11h-12zM1895 871.8h12v11h-12zM1895.8 886.3h12v11h-12zM1896.5 909h12v11h-12zM1897.2 924.9h12v11h-12zM1898 936.5h12v11h-12zM1898.8 947.2h12v11h-12zM1899.5 958.8h12v11h-12zM1900.2 970.7h12v11h-12zM1901 983.2h12v11h-12zM1901.8 997.1h12v11h-12zM1902.5 1006.5h12v11h-12zM1903.2 1015.5h12v11h-12zM1904 1024.5h12v11h-12zM1904.8 1033.6h12v11h-12zM1905.5 1042.8h12v11h-12zM1906.2 1051.9h12v11h-12zM1907 1060.5h12v11h-12zM1907.8 1068.3h12v11h-12zM1908.5 1075.5h12v11h-12zM1909.2 1082.8h12v11h-12zM1910 1090.6h12v11h-12zM1910.8 1099.7h12v11h-12zM1911.5 1110.5h12v11h-12zM1912.2 1122.5h12v11h-12zM1913 1134.8h12v11h-12zM1913.8 1146.9h12v11h-12zM1914.5 1159.2h12v11h-12zM1915.2 1171.9h12v11h-12zM1916 1184.7h12v11h-12zM1916.8 1197.1h12v11h-12zM1917.5 1208.7h12v11h-12zM1918.2 1219.2h12v11h-12zM1919 1228.4h12v11h-12zM1919.8 1237.1h12v11h-12zM1920.5 1245.2h12v11h-12zM1921.2 1252.9h12v11h-12zM1922 1260.3h12v11h-12zM1922.8 1267.5h12v11h-12zM1923.5 1274.5h12v11h-12zM1924.2 1281.3h12v11h-12zM1925 1288.2h12v11h-12zM1925.8 1295.2h12v11h-12zM1926.5 1302.3h12v11h-12zM1927.2 1309.5h12v11h-12zM1928 1316.9h12v11h-12zM1928.8 1324.2h12v11h-12zM1929.5 1331.5h12v11h-12zM1930.2 1338.7h12v11h-12zM1931 1345.6h12v11h-12zM1931.8 1352.3h12v11h-12zM1932.5 1358.6h12v11h-12zM1933.2 1364.5h12v11h-12zM1934 1370h12v11h-12zM1934.8 1374.8h12v11h-12zM1935.5 1379.2h12v11h-12zM1936.2 1383.3h12v11h-12zM1937 1387.2h12v11h-12zM1937.8 1390.8h12v11h-12zM1938.5 1394.3h12v11h-12zM1939.2 1397.6h12v11h-12zM1940 1400.8h12v11h-12zM1940.8 1404h12v11h-12zM1941.5 1407.1h12v11h-12zM1942.2 1410.2h12v11h-12zM1943 1413.3h12v11h-12zM1943.8 1416.5h12v11h-12zM1944.5 1419.5h12v11h-12zM1945.2 1422.6h12v11h-12zM1946 1425.5h12v11h-12zM1946.8 1428.3h12v11h-12zM1947.5 1431.1h12v11h-12zM1948.2 1433.6h12v11h-12zM1949 1436.2h12v11h-12zM1949.8 1438.7h12v11h-12zM1950.5 1441.1h12v11h-12zM1951.2 1443.4h12v11h-12zM1952 1445.7h12v11h-12zM1952.8 1447.7h12v11h-12zM1953.5 1449.4h12v11h-12zM1954.2 1451h12v11h-12zM1955 1452.4h12v11h-12zM1955.8 1453.6h12v11h-12zM1956.5 1454.8h12v11h-12zM1957.2 1455.9h12v11h-12zM1958 1456.9h12v11h-12zM1958.8 1457.9h12v11h-12zM1959.5 1458.8h12v11h-12zM1960.2 1459.7h12v11h-12zM1961 1460.5h12v11h-12zM1961.8 1461.3h12v11h-12zM1962.5 1462h12v11h-12zM1963.2 1462.7h12v11h-12zM1964 1463.4h12v11h-12zM1964.8 1464.1h12v11h-12zM1965.5 1464.7h12v11h-12zM1966.2 1465.3h12v11h-12zM1967 1465.9h12v11h-12zM1967.8 1466.5h12v11h-12zM1968.5 1467.1h12v11h-12zM1969.2 1467.7h12v11h-12zM1970 1468.4h12v11h-12zM1970.8 1469h12v11h-12zM1971.5 1469.7h12v11h-12zM1972.2 1470.4h12v11h-12zM1973 1471h12v11h-12zM1973.8 1471.6h12v11h-12zM1974.5 1472.1h12v11h-12zM1975.2 1472.6h12v11h-12zM1976 1473.1h12v11h-12zM1976.8 1473.4h12v11h-12zM1977.5 1473.7h12v11h-12zM1978.2 1473.9h12v11h-12zM1979 1474h12v11h-12zM1979.8 1474h12v11h-12zM1980.5 1474.1h12v11h-12zM1981.2 1474.1h12v11h-12zM1982 1474.1h12v11h-12zM1982.8 1474.1h12v11h-12zM1983.5 1474.2h12v11h-12zM1984.2 1474.2h12v11h-12zM1985 1474.2h12v11h-12zM1985.8 1474.2h12v11h-12zM1986.5 1474.3h12v11h-12zM1987.2 1474.3h12v11h-12zM1988 1474.3h12v11h-12zM1988.8 1474.3h12v11h-12zM1989.5 1474.3h12v11h-12zM1990.2 1474.4h12v11h-12zM1991 1474.4h12v11h-12zM1991.8 1474.4h12v11h-12zM1992.5 1474.4h12v11h-12zM1993.2 1474.4h12v11h-12zM1994 1474.4h12v11h-12zM1994.8 1474.4h12v11h-12zM1995.5 1474.4h12v11h-12zM1996.2 1474.5h12v11h-12zM1997 1474.5h12v11h-12zM1997.8 1474.5h12v11h-12zM1998.5 1474.5h12v11h-12zM1999.2 1474.5h12v11h-12zM2000 1474.5h12v11h-12zM2000.8 1474.5h12v11h-12zM2001.5 1474.5h12v11h-12z" fill="#777777" shape-rendering="crispEdges"/><path d="M237 1480 1400 1480 1400.8 1480 1401.5 1480 1402.2 1480 1403 1480 1403.8 1480 1404.5 1480 1405.2 1480 1406 1480 1406.8 1480 1407.5 1480 1408.2 1480 1409 1480 1409.8 1480 1410.5 1480 1411.2 1480 1412 1480 1412.8 1480 1413.5 1480 1414.2 1480 1415 1479.9 1415.8 1479.9 1416.5 1479.9 1417.2 1479.9 1418 1479.9 1418.8 1479.9 1419.5 1479.9 1420.2 1479.9 1421 1479.9 1421.8 1479.9 1422.5 1479.9 1423.2 1479.9 1424 1479.9 1424.8 1479.9 1425.5 1479.9 1426.2 1479.8 1427 1479.8 1427.8 1479.8 1428.5 1479.8 1429.2 1479.8 1430 1479.8 1430.8 1479.8 1431.5 1479.8 1432.2 1479.8 1433 1479.8 1433.8 1479.7 1434.5 1479.7 1435.2 1479.7 1436 1479.7 1436.8 1479.7 1437.5 1479.7 1438.2 1479.7 1439 1479.7 1439.8 1479.7 1440.5 1479.6 1441.2 1479.6 1442 1479.6 1442.8 1479.6 1443.5 1479.6 1444.2 1479.6 1445 1479.6 1445.8 1479.5 1446.5 1479.5 1447.2 1479.5 1448 1479.5 1448.8 1479.5 1449.5 1479.5 1450.2 1479.5 1451 1479.4 1451.8 1479.4 1452.5 1479.4 1453.2 1479.4 1454 1479.4 1454.8 1479.4 1455.5 1479.3 1456.2 1479.3 1457 1479.3 1457.8 1479.3 1458.5 1479.3 1459.2 1479.3 1460 1479.2 1460.8 1479.2 1461.5 1479.2 1462.2 1479.2 1463 1479.2 1463.8 1479.2 1464.5 1479.1 1465.2 1479.1 1466 1479.1 1466.8 1479.1 1467.5 1479.1 1468.2 1479 1469 1479 1469.8 1479 1470.5 1479 1471.2 1479 1472 1478.9 1472.8 1478.9 1473.5 1478.9 1474.2 1478.9 1475 1478.8 1475.8 1478.8 1476.5 1478.8 1477.2 1478.7 1478 1478.7 1478.8 1478.6 1479.5 1478.6 1480.2 1478.6 1481 1478.5 1481.8 1478.5 1482.5 1478.4 1483.2 1478.4 1484 1478.3 1484.8 1478.3 1485.5 1478.2 1486.2 1478.1 1487 1478.1 1487.8 1478 1488.5 1478 1489.2 1477.9 1490 1477.8 1490.8 1477.8 1491.5 1477.7 1492.2 1477.6 1493 1477.6 1493.8 1477.5 1494.5 1477.4 1495.2 1477.4 1496 1477.3 1496.8 1477.2 1497.5 1477.2 1498.2 1477.1 1499 1477 1499.8 1476.9 1500.5 1476.9 1501.2 1476.8 1502 1476.7 1502.8 1476.6 1503.5 1476.6 1504.2 1476.5 1505 1476.4 1505.8 1476.3 1506.5 1476.2 1507.2 1476.1 1508 1476 1508.8 1475.9 1509.5 1475.8 1510.2 1475.7 1511 1475.6 1511.8 1475.5 1512.5 1475.4 1513.2 1475.2 1514 1475.1 1514.8 1475 1515.5 1474.9 1516.2 1474.7 1517 1474.6 1517.8 1474.5 1518.5 1474.3 1519.2 1474.2 1520 1474 1520.8 1473.9 1521.5 1473.8 1522.2 1473.6 1523 1473.5 1523.8 1473.3 1524.5 1473.1 1525.2 1473 1526 1472.8 1526.8 1472.7 1527.5 1472.5 1528.2 1472.4 1529 1472.2 1529.8 1472 1530.5 1471.9 1531.2 1471.7 1532 1471.5 1532.8 1471.4 1533.5 1471.2 1534.2 1471.1 1535 1470.9 1535.8 1470.7 1536.5 1470.6 1537.2 1470.4 1538 1470.2 1538.8 1470.1 1539.5 1469.9 1540.2 1469.7 1541 1469.6 1541.8 1469.4 1542.5 1469.2 1543.2 1469 1544 1468.9 1544.8 1468.7 1545.5 1468.5 1546.2 1468.3 1547 1468.2 1547.8 1468 1548.5 1467.8 1549.2 1467.6 1550 1467.4 1550.8 1467.2 1551.5 1467 1552.2 1466.8 1553 1466.6 1553.8 1466.4 1554.5 1466.2 1555.2 1466 1556 1465.8 1556.8 1465.5 1557.5 1465.3 1558.2 1465.1 1559 1464.8 1559.8 1464.6 1560.5 1464.3 1561.2 1464.1 1562 1463.8 1562.8 1463.5 1563.5 1463.3 1564.2 1463 1565 1462.7 1565.8 1462.4 1566.5 1462.1 1567.2 1461.8 1568 1461.5 1568.8 1461.1 1569.5 1460.8 1570.2 1460.5 1571 1460.1 1571.8 1459.8 1572.5 1459.4 1573.2 1459 1574 1458.7 1574.8 1458.3 1575.5 1457.9 1576.2 1457.5 1577 1457.1 1577.8 1456.7 1578.5 1456.3 1579.2 1455.9 1580 1455.5 1580.8 1455.1 1581.5 1454.6 1582.2 1454.2 1583 1453.7 1583.8 1453.2 1584.5 1452.7 1585.2 1452.2 1586 1451.7 1586.8 1451.2 1587.5 1450.6 1588.2 1450.1 1589 1449.5 1589.8 1448.9 1590.5 1448.3 1591.2 1447.6 1592 1447 1592.8 1446.3 1593.5 1445.6 1594.2 1444.9 1595 1444.2 1595.8 1443.4 1596.5 1442.6 1597.2 1441.8 1598 1441 1598.8 1440.1 1599.5 1439.3 1600.2 1438.4 1601 1437.5 1601.8 1436.6 1602.5 1435.6 1603.2 1434.7 1604 1433.7 1604.8 1432.7 1605.5 1431.8 1606.2 1430.8 1607 1429.7 1607.8 1428.7 1608.5 1427.7 1609.2 1426.7 1610 1425.6 1610.8 1424.5 1611.5 1423.4 1612.2 1422.3 1613 1421.2 1613.8 1420 1614.5 1418.8 1615.2 1417.6 1616 1416.3 1616.8 1415 1617.5 1413.7 1618.2 1412.3 1619 1410.9 1619.8 1409.5 1620.5 1408 1621.2 1406.4 1622 1404.8 1622.8 1403.1 1623.5 1401.3 1624.2 1399.5 1625 1397.6 1625.8 1395.7 1626.5 1393.8 1627.2 1391.8 1628 1389.9 1628.8 1387.9 1629.5 1386 1630.2 1384.1 1631 1382.2 1631.8 1380.4 1632.5 1378.6 1633.2 1376.8 1634 1375 1634.8 1373.2 1635.5 1371.4 1636.2 1369.6 1637 1367.8 1637.8 1366 1638.5 1364.2 1639.2 1362.3 1640 1360.5 1640.8 1358.6 1641.5 1356.7 1642.2 1354.9 1643 1353 1643.8 1351.1 1644.5 1349.2 1645.2 1347.2 1646 1345.3 1646.8 1343.3 1647.5 1341.3 1648.2 1339.3 1649 1337.3 1649.8 1335.2 1650.5 1333 1651.2 1330.7 1652 1328.4 1652.8 1326.1 1653.5 1323.7 1654.2 1321.4 1655 1319 1655.8 1316.7 1656.5 1314.5 1657.2 1312.3 1658 1310.2 1658.8 1308.2 1659.5 1306.2 1660.2 1304.2 1661 1302.3 1661.8 1300.3 1662.5 1298.3 1663.2 1296.3 1664 1294.1 1664.8 1291.8 1665.5 1289.4 1666.2 1286.8 1667 1284.2 1667.8 1281.5 1668.5 1278.7 1669.2 1275.8 1670 1272.9 1670.8 1269.8 1671.5 1266.8 1672.2 1263.7 1673 1260.6 1673.8 1257.4 1674.5 1254.3 1675.2 1251.1 1676 1247.9 1676.8 1244.7 1677.5 1241.6 1678.2 1238.5 1679 1235.4 1679.8 1232.4 1680.5 1229.3 1681.2 1226.2 1682 1223.1 1682.8 1219.9 1683.5 1216.7 1684.2 1213.3 1685 1209.9 1685.8 1206.3 1686.5 1202.7 1687.2 1198.8 1688 1194.8 1688.8 1190.6 1689.5 1186 1690.2 1180.9 1691 1175.6 1691.8 1170.1 1692.5 1164.5 1693.2 1158.8 1694 1153.3 1694.8 1147.8 1695.5 1142.6 1696.2 1137.7 1697 1132.9 1697.8 1128.2 1698.5 1123.5 1699.2 1118.9 1700 1114.3 1700.8 1109.8 1701.5 1105.4 1702.2 1101.1 1703 1096.9 1703.8 1092.7 1704.5 1088.6 1705.2 1084.6 1706 1080.8 1706.8 1077.1 1707.5 1073.6 1708.2 1070 1709 1066.6 1709.8 1063.1 1710.5 1059.6 1711.2 1056 1712 1052.3 1712.8 1048.4 1713.5 1044.6 1714.2 1040.9 1715 1037.3 1715.8 1033.6 1716.5 1029.8 1717.2 1025.8 1718 1021.6 1718.8 1017.1 1719.5 1012.2 1720.2 1006.9 1721 1000.6 1721.8 992.3 1722.5 982.8 1723.2 973 1724 963.6 1724.8 955.7 1725.5 949.9 1726.2 945.1 1727 940.8 1727.8 937.1 1728.5 933.6 1729.2 930.4 1730 927.3 1730.8 924.3 1731.5 921.1 1732.2 917.7 1733 913.9 1733.8 909.8 1734.5 905 1735.2 899.5 1736 893.3 1736.8 886.7 1737.5 880 1738.2 873.3 1739 866.8 1739.8 860.8 1740.5 855.1 1741.2 849.4 1742 843.9 1742.8 838.4 1743.5 833 1744.2 827.8 1745 822.8 1745.8 817.9 1746.5 813.3 1747.2 808.9 1748 804.7 1748.8 800.6 1749.5 796.7 1750.2 792.7 1751 788.8 1751.8 784.8 1752.5 780.7 1753.2 776.5 1754 772 1754.8 767.3 1755.5 762.4 1756.2 757.4 1757 752.3 1757.8 747.2 1758.5 742.1 1759.2 737 1760 731.9 1760.8 726.6 1761.5 721.2 1762.2 715.9 1763 710.7 1763.8 705.9 1764.5 701.6 1765.2 697.8 1766 694.6 1766.8 691.7 1767.5 689.1 1768.2 686.5 1769 683.7 1769.8 680.7 1770.5 677.1 1771.2 672.8 1772 667.2 1772.8 660.6 1773.5 654.1 1774.2 648.1 1775 643.3 1775.8 639 1776.5 635.1 1777.2 631.2 1778 627.2 1778.8 622.8 1779.5 617.9 1780.2 611.9 1781 605.4 1781.8 598.8 1782.5 592.8 1783.2 587.7 1784 582.9 1784.8 578.3 1785.5 574 1786.2 570 1787 566.3 1787.8 563 1788.5 560 1789.2 557.4 1790 555 1790.8 552.8 1791.5 550.7 1792.2 548.6 1793 546.4 1793.8 544.2 1794.5 541.7 1795.2 539 1796 536 1796.8 532.5 1797.5 528.5 1798.2 524.1 1799 519.5 1799.8 514.8 1800.5 510.3 1801.2 505.9 1802 501.5 1802.8 497.2 1803.5 492.8 1804.2 488.4 1805 484.1 1805.8 479.7 1806.5 475.2 1807.2 470.6 1808 466.1 1808.8 461.8 1809.5 458 1810.2 454.6 1811 451.4 1811.8 448.4 1812.5 445.6 1813.2 442.8 1814 440.2 1814.8 437.6 1815.5 435 1816.2 432.5 1817 430 1817.8 427.5 1818.5 424.9 1819.2 422.4 1820 419.9 1820.8 417.5 1821.5 415.1 1822.2 412.8 1823 410.5 1823.8 408.3 1824.5 406.1 1825.2 404.1 1826 402.1 1826.8 400.3 1827.5 398.5 1828.2 396.8 1829 395.2 1829.8 393.7 1830.5 392.2 1831.2 390.8 1832 389.5 1832.8 388.4 1833.5 387.3 1834.2 386.2 1835 385.1 1835.8 384.1 1836.5 383.2 1837.2 382.7 1838 382.5 1838.8 382.6 1839.5 382.9 1840.2 383.4 1841 384 1841.8 384.7 1842.5 385.5 1843.2 386.3 1844 387.2 1844.8 388.2 1845.5 389.4 1846.2 390.8 1847 392.4 1847.8 394.2 1848.5 396.1 1849.2 398.3 1850 400.8 1850.8 404.2 1851.5 408.6 1852.2 413.8 1853 419.4 1853.8 425.2 1854.5 431 1855.2 437.2 1856 444.2 1856.8 451.4 1857.5 458.3 1858.2 464.3 1859 469.7 1859.8 474.8 1860.5 479.7 1861.2 484.5 1862 489.6 1862.8 494.9 1863.5 500.7 1864.2 506.7 1865 512.9 1865.8 518.8 1866.5 524.3 1867.2 529.3 1868 534.1 1868.8 538.6 1869.5 543 1870.2 547.5 1871 552 1871.8 556.4 1872.5 560.4 1873.2 564.3 1874 568.4 1874.8 572.8 1875.5 577.9 1876.2 583.8 1877 591.6 1877.8 602.7 1878.5 614.8 1879.2 625.2 1880 634.3 1880.8 642.9 1881.5 651.7 1882.2 661.4 1883 672.1 1883.8 683.3 1884.5 694 1885.2 703.9 1886 713.4 1886.8 722.9 1887.5 732.6 1888.2 742.5 1889 752.4 1889.8 762.6 1890.5 773 1891.2 783.7 1892 794.7 1892.8 805.7 1893.5 816.8 1894.2 828 1895 839.4 1895.8 850.9 1896.5 862.6 1897.2 874.5 1898 886 1898.8 897 1899.5 907.7 1900.2 918.4 1901 929.3 1901.8 940.4 1902.5 951.2 1903.2 961.2 1904 970.5 1904.8 979.3 1905.5 988.1 1906.2 997 1907 1006 1907.8 1015 1908.5 1024 1909.2 1033 1910 1042.2 1910.8 1051.4 1911.5 1060.3 1912.2 1068.7 1913 1076.3 1913.8 1083.4 1914.5 1090.8 1915.2 1099 1916 1108.6 1916.8 1119.9 1917.5 1132.1 1918.2 1144.4 1919 1156.4 1919.8 1168.9 1920.5 1181.7 1921.2 1194.4 1922 1206.6 1922.8 1217.9 1923.5 1227.8 1924.2 1236.9 1925 1245.3 1925.8 1253.3 1926.5 1260.9 1927.2 1268.2 1928 1275.3 1928.8 1282.3 1929.5 1289.1 1930.2 1296 1931 1303 1931.8 1310.2 1932.5 1317.5 1933.2 1324.8 1934 1332.2 1934.8 1339.4 1935.5 1346.5 1936.2 1353.4 1937 1360 1937.8 1366.2 1938.5 1371.9 1939.2 1377.1 1940 1381.8 1940.8 1386.1 1941.5 1390.1 1942.2 1393.9 1943 1397.5 1943.8 1400.9 1944.5 1404.2 1945.2 1407.4 1946 1410.5 1946.8 1413.6 1947.5 1416.7 1948.2 1419.9 1949 1423 1949.8 1426.1 1950.5 1429.1 1951.2 1432 1952 1434.8 1952.8 1437.4 1953.5 1440 1954.2 1442.5 1955 1445 1955.8 1447.4 1956.5 1449.7 1957.2 1451.8 1958 1453.8 1958.8 1455.5 1959.5 1456.9 1960.2 1458.3 1961 1459.5 1961.8 1460.7 1962.5 1461.8 1963.2 1462.8 1964 1463.7 1964.8 1464.6 1965.5 1465.5 1966.2 1466.3 1967 1467 1967.8 1467.8 1968.5 1468.5 1969.2 1469.2 1970 1469.8 1970.8 1470.5 1971.5 1471.1 1972.2 1471.6 1973 1472.2 1973.8 1472.7 1974.5 1473.2 1975.2 1473.6 1976 1474 1976.8 1474.4 1977.5 1474.8 1978.2 1475.1 1979 1475.5 1979.8 1475.8 1980.5 1476.2 1981.2 1476.5 1982 1476.8 1982.8 1477.1 1983.5 1477.4 1984.2 1477.7 1985 1477.9 1985.8 1478.2 1986.5 1478.4 1987.2 1478.6 1988 1478.7 1988.8 1478.8 1989.5 1478.9 1990.2 1479 1991 1479.1 1991.8 1479.2 1992.5 1479.2 1993.2 1479.3 1994 1479.3 1994.8 1479.4 1995.5 1479.5 1996.2 1479.5 1997 1479.6 1997.8 1479.6 1998.5 1479.6 1999.2 1479.7 2000 1479.7 2000.8 1479.8 2001.5 1479.8 2002.2 1479.8 2003 1479.9 2003.8 1479.9 2004.5 1479.9 2005.2 1479.9 2006 1480 2006.8 1480 2007.5 1480" stroke="#ff0000" stroke-width="3" fill="none" stroke-linejoin="round"/><path d="M230.7 1480a6.3 6.3 0 1 0 12.6 0a6.3 6.3 0 1 0-12.6 0zM237.2 1480a6.3 6.3 0 1 0 12.6 0a6.3 6.3 0 1 0-12.6 0zM243.7 1480a6.3 6.3 0 1 0 12.6 0a6.3 6.3 0 1 0-12.6 0zM250.2 1480a6.3 6.3 0 1 0 12.6 0a6.3 6.3 0 1 0-12.6 0zM256.7 1480a6.3 6.3 0 1 0 12.6 0a6.3 6.3 0 1 0-12.6 0zM263.2 1480a6.3 6.3 0 1 0 12.6 0a6.3 6.3 0 1 0-12.6 0zM269.7 1480a6.3 6.3 0 1 0 12.6 0a6.3 6.3 0 1 0-12.6 0zM276.2 1480a6.3 6.3 0 1 0 12.6 0a6.3 6.3 0 1 0-12.6 0zM282.7 1480a6.3 6.3 0 1 0 12.6 0a6.3 6.3 0 1 0-12.6 0zM289.2 1480a6.3 6.3 0 1 0 12.6 0a6.3 6.3 0 1 0-12.6 0zM295.7 1480a6.3 6.3 0 1 0 12.6 0a6.3 6.3 0 1 0-12.6 0zM302.2 1480a6.3 6.3 0 1 0 12.6 0a6.3 6.3 0 1 0-12.6 0zM308.7 1480a6.3 6.3 0 1 0 12.6 0a6.3 6.3 0 1 0-12.6 0zM315.2 1480a6.3 6.3 0 1 0 12.6 0a6.3 6.3 0 1 0-12.6 0zM321.7 1480a6.3 6.3 0 1 0 12.6 0a6.3 6.3 0 1 0-12.6 0zM328.2 1480a6.3 6.3 0 1 0 12.6 0a6.3 6.3 0 1 0-12.6 0zM334.7 1480a6.3 6.3 0 1 0 12.6 0a6.3 6.3 0 1 0-12.6 0zM341.2 1480a6.3 6.3 0 1 0 12.6 0a6.3 6.3 0 1 0-12.6 0zM347.7 1480a6.3 6.3 0 1 0 12.6 0a6.3 6.3 0 1 0-12.6 0zM354.2 1480a6.3 6.3 0 1 0 12.6 0a6.3 6.3 0 1 0-12.6 0zM360.7 1480a6.3 6.3 0 1 0 12.6 0a6.3 6.3 0 1 0-12.6 0zM367.2 1480a6.3 6.3 0 1 0 12.6 0a6.3 6.3 0 1 0-12.6 0zM373.7 1480a6.3 6.3 0 1 0 12.6 0a6.3 6.3 0 1 0-12.6 0zM380.2 1480a6.3 6.3 0 1 0 12.6 0a6.3 6.3 0 1 0-12.6 0zM386.7 1480a6.3 6.3 0 1 0 12.6 0a6.3 6.3 0 1 0-12.6 0zM393.2 1480a6.3 6.3 0 1 0 12.6 0a6.3 6.3 0 1 0-12.6 0zM399.7 1480a6.3 6.3 0 1 0 12.6 0a6.3 6.3 0 1 0-12.6 0zM406.2 1480a6.3 6.3 0 1 0 12.6 0a6.3 6.3 0 1 0-12.6 0zM412.7 1480a6.3 6.3 0 1 0 12.6 0a6.3 6.3 0 1 0-12.6 0zM419.2 1480a6.3 6.3 0 1 0 12.6 0a6.3 6.3 0 1 0-12.6 0zM425.7 1480a6.3 6.3 0 1 0 12.6 0a6.3 6.3 0 1 0-12.6 0zM432.2 1480a6.3 6.3 0 1 0 12.6 0a6.3 6.3 0 1 0-12.6 0zM438.7 1480a6.3 6.3 0 1 0 12.6 0a6.3 6.3 0 1 0-12.6 0zM445.2 1480a6.3 6.3 0 1 0 12.6 0a6.3 6.3 0 1 0-12.6 0zM451.7 1480a6.3 6.3 0 1 0 12.6 0a6.3 6.3 0 1 0-12.6 0zM458.2 1480a6.3 6.3 0 1 0 12.6 0a6.3 6.3 0 1 0-12.6 0zM464.7 1480a6.3 6.3 0 1 0 12.6 0a6.3 6.3 0 1 0-12.6 0zM471.2 1480a6.3 6.3 0 1 0 12.6 0a6.3 6.3 0 1 0-12.6 0zM477.7 1480a6.3 6.3 0 1 0 12.6 0a6.3 6.3 0 1 0-12.6 0zM484.2 1480a6.3 6.3 0 1 0 12.6 0a6.3 6.3 0 1 0-12.6 0zM490.7 1480a6.3 6.3 0 1 0 12.6 0a6.3 6.3 0 1 0-12.6 0zM497.2 1480a6.3 6.3 0 1 0 12.6 0a6.3 6.3 0 1 0-12.6 0zM503.7 1480a6.3 6.3 0 1 0 12.6 0a6.3 6.3 0 1 0-12.6 0zM510.2 1480a6.3 6.3 0 1 0 12.6 0a6.3 6.3 0 1 0-12.6 0zM516.7 1480a6.3 6.3 0 1 0 12.6 0a6.3 6.3 0 1 0-12.6 0zM523.2 1480a6.3 6.3 0 1 0 12.6 0a6.3 6.3 0 1 0-12.6 0zM529.7 1480a6.3 6.3 0 1 0 12.6 0a6.3 6.3 0 1 0-12.6 0zM536.2 1480a6.3 6.3 0 1 0 12.6 0a6.3 6.3 0 1 0-12.6 0zM542.7 1480a6.3 6.3 0 1 0 12.6 0a6.3 6.3 0 1 0-12.6 0zM549.2 1480a6.3 6.3 0 1 0 12.6 0a6.3 6.3 0 1 0-12.6 0zM555.7 1480a6.3 6.3 0 1 0 12.6 0a6.3 6.3 0 1 0-12.6 0zM558.7 1480a6.3 6.3 0 1 0 12.6 0a6.3 6.3 0 1 0-12.6 0zM561.7 1480a6.3 6.3 0 1 0 12.6 0a6.3 6.3 0 1 0-12.6 0zM564.7 1480a6.3 6.3 0 1 0 12.6 0a6.3 6.3 0 1 0-12.6 0zM567.7 1480a6.3 6.3 0 1 0 12.6 0a6.3 6.3 0 1 0-12.6 0zM570.7 1480a6.3 6.3 0 1 0 12.6 0a6.3 6.3 0 1 0-12.6 0zM573.7 1480a6.3 6.3 0 1 0 12.6 0a6.3 6.3 0 1 0-12.6 0zM576.7 1480a6.3 6.3 0 1 0 12.6 0a6.3 6.3 0 1 0-12.6 0zM579.7 1480a6.3 6.3 0 1 0 12.6 0a6.3 6.3 0 1 0-12.6 0zM582.7 1480a6.3 6.3 0 1 0 12.6 0a6.3 6.3 0 1 0-12.6 0zM585.7 1480a6.3 6.3 0 1 0 12.6 0a6.3 6.3 0 1 0-12.6 0zM588.7 1480a6.3 6.3 0 1 0 12.6 0a6.3 6.3 0 1 0-12.6 0zM596 1474H1400V1490H596zM1393.7 1480a6.3 6.3 0 1 0 12.6 0a6.3 6.3 0 1 0-12.6 0zM1394.5 1480a6.3 6.3 0 1 0 12.6 0a6.3 6.3 0 1 0-12.6 0zM1395.2 1480a6.3 6.3 0 1 0 12.6 0a6.3 6.3 0 1 0-12.6 0zM1396 1480a6.3 6.3 0 1 0 12.6 0a6.3 6.3 0 1 0-12.6 0zM1396.7 1480a6.3 6.3 0 1 0 12.6 0a6.3 6.3 0 1 0-12.6 0zM1397.5 1480a6.3 6.3 0 1 0 12.6 0a6.3 6.3 0 1 0-12.6 0zM1398.2 1480a6.3 6.3 0 1 0 12.6 0a6.3 6.3 0 1 0-12.6 0zM1399 1480a6.3 6.3 0 1 0 12.6 0a6.3 6.3 0 1 0-12.6 0zM1399.7 1480a6.3 6.3 0 1 0 12.6 0a6.3 6.3 0 1 0-12.6 0zM1400.5 1480a6.3 6.3 0 1 0 12.6 0a6.3 6.3 0 1 0-12.6 0zM1401.2 1480a6.3 6.3 0 1 0 12.6 0a6.3 6.3 0 1 0-12.6 0zM1402 1480a6.3 6.3 0 1 0 12.6 0a6.3 6.3 0 1 0-12.6 0zM1402.7 1480a6.3 6.3 0 1 0 12.6 0a6.3 6.3 0 1 0-12.6 0zM1403.5 1480a6.3 6.3 0 1 0 12.6 0a6.3 6.3 0 1 0-12.6 0zM1404.2 1480a6.3 6.3 0 1 0 12.6 0a6.3 6.3 0 1 0-12.6 0zM1405 1480a6.3 6.3 0 1 0 12.6 0a6.3 6.3 0 1 0-12.6 0zM1405.7 1480a6.3 6.3 0 1 0 12.6 0a6.3 6.3 0 1 0-12.6 0zM1406.5 1480a6.3 6.3 0 1 0 12.6 0a6.3 6.3 0 1 0-12.6 0zM1407.2 1480a6.3 6.3 0 1 0 12.6 0a6.3 6.3 0 1 0-12.6 0zM1408 1480a6.3 6.3 0 1 0 12.6 0a6.3 6.3 0 1 0-12.6 0zM1408.7 1479.9a6.3 6.3 0 1 0 12.6 0a6.3 6.3 0 1 0-12.6 0zM1409.5 1479.9a6.3 6.3 0 1 0 12.6 0a6.3 6.3 0 1 0-12.6 0zM1410.2 1479.9a6.3 6.3 0 1 0 12.6 0a6.3 6.3 0 1 0-12.6 0zM1411 1479.9a6.3 6.3 0 1 0 12.6 0a6.3 6.3 0 1 0-12.6 0zM1411.7 1479.9a6.3 6.3 0 1 0 12.6 0a6.3 6.3 0 1 0-12.6 0zM1412.5 1479.9a6.3 6.3 0 1 0 12.6 0a6.3 6.3 0 1 0-12.6 0zM1413.2 1479.9a6.3 6.3 0 1 0 12.6 0a6.3 6.3 0 1 0-12.6 0zM1414 1479.9a6.3 6.3 0 1 0 12.6 0a6.3 6.3 0 1 0-12.6 0zM1414.7 1479.9a6.3 6.3 0 1 0 12.6 0a6.3 6.3 0 1 0-12.6 0zM1415.5 1479.9a6.3 6.3 0 1 0 12.6 0a6.3 6.3 0 1 0-12.6 0zM1416.2 1479.9a6.3 6.3 0 1 0 12.6 0a6.3 6.3 0 1 0-12.6 0zM1417 1479.9a6.3 6.3 0 1 0 12.6 0a6.3 6.3 0 1 0-12.6 0zM1417.7 1479.9a6.3 6.3 0 1 0 12.6 0a6.3 6.3 0 1 0-12.6 0zM1418.5 1479.9a6.3 6.3 0 1 0 12.6 0a6.3 6.3 0 1 0-12.6 0zM1419.2 1479.9a6.3 6.3 0 1 0 12.6 0a6.3 6.3 0 1 0-12.6 0zM1420 1479.8a6.3 6.3 0 1 0 12.6 0a6.3 6.3 0 1 0-12.6 0zM1420.7 1479.8a6.3 6.3 0 1 0 12.6 0a6.3 6.3 0 1 0-12.6 0zM1421.5 1479.8a6.3 6.3 0 1 0 12.6 0a6.3 6.3 0 1 0-12.6 0zM1422.2 1479.8a6.3 6.3 0 1 0 12.6 0a6.3 6.3 0 1 0-12.6 0zM1423 1479.8a6.3 6.3 0 1 0 12.6 0a6.3 6.3 0 1 0-12.6 0zM1423.7 1479.8a6.3 6.3 0 1 0 12.6 0a6.3 6.3 0 1 0-12.6 0zM1424.5 1479.8a6.3 6.3 0 1 0 12.6 0a6.3 6.3 0 1 0-12.6 0zM1425.2 1479.8a6.3 6.3 0 1 0 12.6 0a6.3 6.3 0 1 0-12.6 0zM1426 1479.8a6.3 6.3 0 1 0 12.6 0a6.3 6.3 0 1 0-12.6 0zM1426.7 1479.8a6.3 6.3 0 1 0 12.6 0a6.3 6.3 0 1 0-12.6 0zM1427.5 1479.7a6.3 6.3 0 1 0 12.6 0a6.3 6.3 0 1 0-12.6 0zM1428.2 1479.7a6.3 6.3 0 1 0 12.6 0a6.3 6.3 0 1 0-12.6 0zM1429 1479.7a6.3 6.3 0 1 0 12.6 0a6.3 6.3 0 1 0-12.6 0zM1429.7 1479.7a6.3 6.3 0 1 0 12.6 0a6.3 6.3 0 1 0-12.6 0zM1430.5 1479.7a6.3 6.3 0 1 0 12.6 0a6.3 6.3 0 1 0-12.6 0zM1431.2 1479.7a6.3 6.3 0 1 0 12.6 0a6.3 6.3 0 1 0-12.6 0zM1432 1479.7a6.3 6.3 0 1 0 12.6 0a6.3 6.3 0 1 0-12.6 0zM1432.7 1479.7a6.3 6.3 0 1 0 12.6 0a6.3 6.3 0 1 0-12.6 0zM1433.5 1479.7a6.3 6.3 0 1 0 12.6 0a6.3 6.3 0 1 0-12.6 0zM1434.2 1479.6a6.3 6.3 0 1 0 12.6 0a6.3 6.3 0 1 0-12.6 0zM1435 1479.6a6.3 6.3 0 1 0 12.6 0a6.3 6.3 0 1 0-12.6 0zM1435.7 1479.6a6.3 6.3 0 1 0 12.6 0a6.3 6.3 0 1 0-12.6 0zM1436.5 1479.6a6.3 6.3 0 1 0 12.6 0a6.3 6.3 0 1 0-12.6 0zM1437.2 1479.6a6.3 6.3 0 1 0 12.6 0a6.3 6.3 0 1 0-12.6 0zM1438 1479.6a6.3 6.3 0 1 0 12.6 0a6.3 6.3 0 1 0-12.6 0zM1438.7 1479.6a6.3 6.3 0 1 0 12.6 0a6.3 6.3 0 1 0-12.6 0zM1439.5 1479.5a6.3 6.3 0 1 0 12.6 0a6.3 6.3 0 1 0-12.6 0zM1440.2 1479.5a6.3 6.3 0 1 0 12.6 0a6.3 6.3 0 1 0-12.6 0zM1441 1479.5a6.3 6.3 0 1 0 12.6 0a6.3 6.3 0 1 0-12.6 0zM1441.7 1479.5a6.3 6.3 0 1 0 12.6 0a6.3 6.3 0 1 0-12.6 0zM1442.5 1479.5a6.3 6.3 0 1 0 12.6 0a6.3 6.3 0 1 0-12.6 0zM1443.2 1479.5a6.3 6.3 0 1 0 12.6 0a6.3 6.3 0 1 0-12.6 0zM1444 1479.5a6.3 6.3 0 1 0 12.6 0a6.3 6.3 0 1 0-12.6 0zM1444.7 1479.4a6.3 6.3 0 1 0 12.6 0a6.3 6.3 0 1 0-12.6 0zM1445.5 1479.4a6.3 6.3 0 1 0 12.6 0a6.3 6.3 0 1 0-12.6 0zM1446.2 1479.4a6.3 6.3 0 1 0 12.6 0a6.3 6.3 0 1 0-12.6 0zM1447 1479.4a6.3 6.3 0 1 0 12.6 0a6.3 6.3 0 1 0-12.6 0zM1447.7 1479.4a6.3 6.3 0 1 0 12.6 0a6.3 6.3 0 1 0-12.6 0zM1448.5 1479.4a6.3 6.3 0 1 0 12.6 0a6.3 6.3 0 1 0-12.6 0zM1449.2 1479.3a6.3 6.3 0 1 0 12.6 0a6.3 6.3 0 1 0-12.6 0zM1450 1479.3a6.3 6.3 0 1 0 12.6 0a6.3 6.3 0 1 0-12.6 0zM1450.7 1479.3a6.3 6.3 0 1 0 12.6 0a6.3 6.3 0 1 0-12.6 0zM1451.5 1479.3a6.3 6.3 0 1 0 12.6 0a6.3 6.3 0 1 0-12.6 0zM1452.2 1479.3a6.3 6.3 0 1 0 12.6 0a6.3 6.3 0 1 0-12.6 0zM1453 1479.3a6.3 6.3 0 1 0 12.6 0a6.3 6.3 0 1 0-12.6 0zM1453.7 1479.2a6.3 6.3 0 1 0 12.6 0a6.3 6.3 0 1 0-12.6 0zM1454.5 1479.2a6.3 6.3 0 1 0 12.6 0a6.3 6.3 0 1 0-12.6 0zM1455.2 1479.2a6.3 6.3 0 1 0 12.6 0a6.3 6.3 0 1 0-12.6 0zM1456 1479.2a6.3 6.3 0 1 0 12.6 0a6.3 6.3 0 1 0-12.6 0zM1456.7 1479.2a6.3 6.3 0 1 0 12.6 0a6.3 6.3 0 1 0-12.6 0zM1457.5 1479.2a6.3 6.3 0 1 0 12.6 0a6.3 6.3 0 1 0-12.6 0zM1458.2 1479.1a6.3 6.3 0 1 0 12.6 0a6.3 6.3 0 1 0-12.6 0zM1459 1479.1a6.3 6.3 0 1 0 12.6 0a6.3 6.3 0 1 0-12.6 0zM1459.7 1479.1a6.3 6.3 0 1 0 12.6 0a6.3 6.3 0 1 0-12.6 0zM1460.5 1479.1a6.3 6.3 0 1 0 12.6 0a6.3 6.3 0 1 0-12.6 0zM1461.2 1479.1a6.3 6.3 0 1 0 12.6 0a6.3 6.3 0 1 0-12.6 0zM1462 1479a6.3 6.3 0 1 0 12.6 0a6.3 6.3 0 1 0-12.6 0zM1462.7 1479a6.3 6.3 0 1 0 12.6 0a6.3 6.3 0 1 0-12.6 0zM1463.5 1479a6.3 6.3 0 1 0 12.6 0a6.3 6.3 0 1 0-12.6 0zM1464.2 1479a6.3 6.3 0 1 0 12.6 0a6.3 6.3 0 1 0-12.6 0zM1465 1479a6.3 6.3 0 1 0 12.6 0a6.3 6.3 0 1 0-12.6 0zM1465.7 1478.9a6.3 6.3 0 1 0 12.6 0a6.3 6.3 0 1 0-12.6 0zM1466.5 1478.9a6.3 6.3 0 1 0 12.6 0a6.3 6.3 0 1 0-12.6 0zM1467.2 1478.9a6.3 6.3 0 1 0 12.6 0a6.3 6.3 0 1 0-12.6 0zM1468 1478.9a6.3 6.3 0 1 0 12.6 0a6.3 6.3 0 1 0-12.6 0zM1468.7 1478.8a6.3 6.3 0 1 0 12.6 0a6.3 6.3 0 1 0-12.6 0zM1469.5 1478.8a6.3 6.3 0 1 0 12.6 0a6.3 6.3 0 1 0-12.6 0zM1470.2 1478.8a6.3 6.3 0 1 0 12.6 0a6.3 6.3 0 1 0-12.6 0zM1471 1478.7a6.3 6.3 0 1 0 12.6 0a6.3 6.3 0 1 0-12.6 0zM1471.7 1478.7a6.3 6.3 0 1 0 12.6 0a6.3 6.3 0 1 0-12.6 0zM1472.5 1478.6a6.3 6.3 0 1 0 12.6 0a6.3 6.3 0 1 0-12.6 0zM1473.2 1478.6a6.3 6.3 0 1 0 12.6 0a6.3 6.3 0 1 0-12.6 0zM1474 1478.6a6.3 6.3 0 1 0 12.6 0a6.3 6.3 0 1 0-12.6 0zM1474.7 1478.5a6.3 6.3 0 1 0 12.6 0a6.3 6.3 0 1 0-12.6 0zM1475.5 1478.5a6.3 6.3 0 1 0 12.6 0a6.3 6.3 0 1 0-12.6 0zM1476.2 1478.4a6.3 6.3 0 1 0 12.6 0a6.3 6.3 0 1 0-12.6 0zM1477 1478.4a6.3 6.3 0 1 0 12.6 0a6.3 6.3 0 1 0-12.6 0zM1477.7 1478.3a6.3 6.3 0 1 0 12.6 0a6.3 6.3 0 1 0-12.6 0zM1478.5 1478.3a6.3 6.3 0 1 0 12.6 0a6.3 6.3 0 1 0-12.6 0zM1479.2 1478.2a6.3 6.3 0 1 0 12.6 0a6.3 6.3 0 1 0-12.6 0zM1480 1478.1a6.3 6.3 0 1 0 12.6 0a6.3 6.3 0 1 0-12.6 0zM1480.7 1478.1a6.3 6.3 0 1 0 12.6 0a6.3 6.3 0 1 0-12.6 0zM1481.5 1478a6.3 6.3 0 1 0 12.6 0a6.3 6.3 0 1 0-12.6 0zM1482.2 1478a6.3 6.3 0 1 0 12.6 0a6.3 6.3 0 1 0-12.6 0zM1483 1477.9a6.3 6.3 0 1 0 12.6 0a6.3 6.3 0 1 0-12.6 0zM1483.7 1477.8a6.3 6.3 0 1 0 12.6 0a6.3 6.3 0 1 0-12.6 0zM1484.5 1477.8a6.3 6.3 0 1 0 12.6 0a6.3 6.3 0 1 0-12.6 0zM1485.2 1477.7a6.3 6.3 0 1 0 12.6 0a6.3 6.3 0 1 0-12.6 0zM1486 1477.6a6.3 6.3 0 1 0 12.6 0a6.3 6.3 0 1 0-12.6 0zM1486.7 1477.6a6.3 6.3 0 1 0 12.6 0a6.3 6.3 0 1 0-12.6 0zM1487.5 1477.5a6.3 6.3 0 1 0 12.6 0a6.3 6.3 0 1 0-12.6 0zM1488.2 1477.4a6.3 6.3 0 1 0 12.6 0a6.3 6.3 0 1 0-12.6 0zM1489 1477.4a6.3 6.3 0 1 0 12.6 0a6.3 6.3 0 1 0-12.6 0zM1489.7 1477.3a6.3 6.3 0 1 0 12.6 0a6.3 6.3 0 1 0-12.6 0zM1490.5 1477.2a6.3 6.3 0 1 0 12.6 0a6.3 6.3 0 1 0-12.6 0zM1491.2 1477.2a6.3 6.3 0 1 0 12.6 0a6.3 6.3 0 1 0-12.6 0zM1492 1477.1a6.3 6.3 0 1 0 12.6 0a6.3 6.3 0 1 0-12.6 0zM1492.7 1477a6.3 6.3 0 1 0 12.6 0a6.3 6.3 0 1 0-12.6 0zM1493.5 1476.9a6.3 6.3 0 1 0 12.6 0a6.3 6.3 0 1 0-12.6 0zM1494.2 1476.9a6.3 6.3 0 1 0 12.6 0a6.3 6.3 0 1 0-12.6 0zM1495 1476.8a6.3 6.3 0 1 0 12.6 0a6.3 6.3 0 1 0-12.6 0zM1495.7 1476.7a6.3 6.3 0 1 0 12.6 0a6.3 6.3 0 1 0-12.6 0zM1496.5 1476.6a6.3 6.3 0 1 0 12.6 0a6.3 6.3 0 1 0-12.6 0zM1497.2 1476.6a6.3 6.3 0 1 0 12.6 0a6.3 6.3 0 1 0-12.6 0zM1498 1476.5a6.3 6.3 0 1 0 12.6 0a6.3 6.3 0 1 0-12.6 0zM1498.7 1476.4a6.3 6.3 0 1 0 12.6 0a6.3 6.3 0 1 0-12.6 0zM1499.5 1476.3a6.3 6.3 0 1 0 12.6 0a6.3 6.3 0 1 0-12.6 0zM1500.2 1476.2a6.3 6.3 0 1 0 12.6 0a6.3 6.3 0 1 0-12.6 0zM1501 1476.1a6.3 6.3 0 1 0 12.6 0a6.3 6.3 0 1 0-12.6 0zM1501.7 1476a6.3 6.3 0 1 0 12.6 0a6.3 6.3 0 1 0-12.6 0zM1502.5 1475.9a6.3 6.3 0 1 0 12.6 0a6.3 6.3 0 1 0-12.6 0zM1503.2 1475.8a6.3 6.3 0 1 0 12.6 0a6.3 6.3 0 1 0-12.6 0zM1504 1475.7a6.3 6.3 0 1 0 12.6 0a6.3 6.3 0 1 0-12.6 0zM1504.7 1475.6a6.3 6.3 0 1 0 12.6 0a6.3 6.3 0 1 0-12.6 0zM1505.5 1475.5a6.3 6.3 0 1 0 12.6 0a6.3 6.3 0 1 0-12.6 0zM1506.2 1475.4a6.3 6.3 0 1 0 12.6 0a6.3 6.3 0 1 0-12.6 0zM1507 1475.2a6.3 6.3 0 1 0 12.6 0a6.3 6.3 0 1 0-12.6 0zM1507.7 1475.1a6.3 6.3 0 1 0 12.6 0a6.3 6.3 0 1 0-12.6 0zM1508.5 1475a6.3 6.3 0 1 0 12.6 0a6.3 6.3 0 1 0-12.6 0zM1509.2 1474.9a6.3 6.3 0 1 0 12.6 0a6.3 6.3 0 1 0-12.6 0zM1510 1474.7a6.3 6.3 0 1 0 12.6 0a6.3 6.3 0 1 0-12.6 0zM1510.7 1474.6a6.3 6.3 0 1 0 12.6 0a6.3 6.3 0 1 0-12.6 0zM1511.5 1474.5a6.3 6.3 0 1 0 12.6 0a6.3 6.3 0 1 0-12.6 0zM1512.2 1474.3a6.3 6.3 0 1 0 12.6 0a6.3 6.3 0 1 0-12.6 0zM1513 1474.2a6.3 6.3 0 1 0 12.6 0a6.3 6.3 0 1 0-12.6 0zM1513.7 1474a6.3 6.3 0 1 0 12.6 0a6.3 6.3 0 1 0-12.6 0zM1514.5 1473.9a6.3 6.3 0 1 0 12.6 0a6.3 6.3 0 1 0-12.6 0zM1515.2 1473.8a6.3 6.3 0 1 0 12.6 0a6.3 6.3 0 1 0-12.6 0zM1516 1473.6a6.3 6.3 0 1 0 12.6 0a6.3 6.3 0 1 0-12.6 0zM1516.7 1473.5a6.3 6.3 0 1 0 12.6 0a6.3 6.3 0 1 0-12.6 0zM1517.5 1473.3a6.3 6.3 0 1 0 12.6 0a6.3 6.3 0 1 0-12.6 0zM1518.2 1473.1a6.3 6.3 0 1 0 12.6 0a6.3 6.3 0 1 0-12.6 0zM1519 1473a6.3 6.3 0 1 0 12.6 0a6.3 6.3 0 1 0-12.6 0zM1519.7 1472.8a6.3 6.3 0 1 0 12.6 0a6.3 6.3 0 1 0-12.6 0zM1520.5 1472.7a6.3 6.3 0 1 0 12.6 0a6.3 6.3 0 1 0-12.6 0zM1521.2 1472.5a6.3 6.3 0 1 0 12.6 0a6.3 6.3 0 1 0-12.6 0zM1522 1472.4a6.3 6.3 0 1 0 12.6 0a6.3 6.3 0 1 0-12.6 0zM1522.7 1472.2a6.3 6.3 0 1 0 12.6 0a6.3 6.3 0 1 0-12.6 0zM1523.5 1472a6.3 6.3 0 1 0 12.6 0a6.3 6.3 0 1 0-12.6 0zM1524.2 1471.9a6.3 6.3 0 1 0 12.6 0a6.3 6.3 0 1 0-12.6 0zM1525 1471.7a6.3 6.3 0 1 0 12.6 0a6.3 6.3 0 1 0-12.6 0zM1525.7 1471.5a6.3 6.3 0 1 0 12.6 0a6.3 6.3 0 1 0-12.6 0zM1526.5 1471.4a6.3 6.3 0 1 0 12.6 0a6.3 6.3 0 1 0-12.6 0zM1527.2 1471.2a6.3 6.3 0 1 0 12.6 0a6.3 6.3 0 1 0-12.6 0zM1528 1471.1a6.3 6.3 0 1 0 12.6 0a6.3 6.3 0 1 0-12.6 0zM1528.7 1470.9a6.3 6.3 0 1 0 12.6 0a6.3 6.3 0 1 0-12.6 0zM1529.5 1470.7a6.3 6.3 0 1 0 12.6 0a6.3 6.3 0 1 0-12.6 0zM1530.2 1470.6a6.3 6.3 0 1 0 12.6 0a6.3 6.3 0 1 0-12.6 0zM1531 1470.4a6.3 6.3 0 1 0 12.6 0a6.3 6.3 0 1 0-12.6 0zM1531.7 1470.2a6.3 6.3 0 1 0 12.6 0a6.3 6.3 0 1 0-12.6 0zM1532.5 1470.1a6.3 6.3 0 1 0 12.6 0a6.3 6.3 0 1 0-12.6 0zM1533.2 1469.9a6.3 6.3 0 1 0 12.6 0a6.3 6.3 0 1 0-12.6 0zM1534 1469.7a6.3 6.3 0 1 0 12.6 0a6.3 6.3 0 1 0-12.6 0zM1534.7 1469.6a6.3 6.3 0 1 0 12.6 0a6.3 6.3 0 1 0-12.6 0zM1535.5 1469.4a6.3 6.3 0 1 0 12.6 0a6.3 6.3 0 1 0-12.6 0zM1536.2 1469.2a6.3 6.3 0 1 0 12.6 0a6.3 6.3 0 1 0-12.6 0zM1537 1469a6.3 6.3 0 1 0 12.6 0a6.3 6.3 0 1 0-12.6 0zM1537.7 1468.9a6.3 6.3 0 1 0 12.6 0a6.3 6.3 0 1 0-12.6 0zM1538.5 1468.7a6.3 6.3 0 1 0 12.6 0a6.3 6.3 0 1 0-12.6 0zM1539.2 1468.5a6.3 6.3 0 1 0 12.6 0a6.3 6.3 0 1 0-12.6 0zM1540 1468.3a6.3 6.3 0 1 0 12.6 0a6.3 6.3 0 1 0-12.6 0zM1540.7 1468.2a6.3 6.3 0 1 0 12.6 0a6.3 6.3 0 1 0-12.6 0zM1541.5 1468a6.3 6.3 0 1 0 12.6 0a6.3 6.3 0 1 0-12.6 0zM1542.2 1467.8a6.3 6.3 0 1 0 12.6 0a6.3 6.3 0 1 0-12.6 0zM1543 1467.6a6.3 6.3 0 1 0 12.6 0a6.3 6.3 0 1 0-12.6 0zM1543.7 1467.4a6.3 6.3 0 1 0 12.6 0a6.3 6.3 0 1 0-12.6 0zM1544.5 1467.2a6.3 6.3 0 1 0 12.6 0a6.3 6.3 0 1 0-12.6 0zM1545.2 1467a6.3 6.3 0 1 0 12.6 0a6.3 6.3 0 1 0-12.6 0zM1546 1466.8a6.3 6.3 0 1 0 12.6 0a6.3 6.3 0 1 0-12.6 0zM1546.7 1466.6a6.3 6.3 0 1 0 12.6 0a6.3 6.3 0 1 0-12.6 0zM1547.5 1466.4a6.3 6.3 0 1 0 12.6 0a6.3 6.3 0 1 0-12.6 0zM1548.2 1466.2a6.3 6.3 0 1 0 12.6 0a6.3 6.3 0 1 0-12.6 0zM1549 1466a6.3 6.3 0 1 0 12.6 0a6.3 6.3 0 1 0-12.6 0zM1549.7 1465.8a6.3 6.3 0 1 0 12.6 0a6.3 6.3 0 1 0-12.6 0zM1550.5 1465.5a6.3 6.3 0 1 0 12.6 0a6.3 6.3 0 1 0-12.6 0zM1551.2 1465.3a6.3 6.3 0 1 0 12.6 0a6.3 6.3 0 1 0-12.6 0zM1552 1465.1a6.3 6.3 0 1 0 12.6 0a6.3 6.3 0 1 0-12.6 0zM1552.7 1464.8a6.3 6.3 0 1 0 12.6 0a6.3 6.3 0 1 0-12.6 0zM1553.5 1464.6a6.3 6.3 0 1 0 12.6 0a6.3 6.3 0 1 0-12.6 0zM1554.2 1464.3a6.3 6.3 0 1 0 12.6 0a6.3 6.3 0 1 0-12.6 0zM1555 1464.1a6.3 6.3 0 1 0 12.6 0a6.3 6.3 0 1 0-12.6 0zM1555.7 1463.8a6.3 6.3 0 1 0 12.6 0a6.3 6.3 0 1 0-12.6 0zM1556.5 1463.5a6.3 6.3 0 1 0 12.6 0a6.3 6.3 0 1 0-12.6 0zM1557.2 1463.3a6.3 6.3 0 1 0 12.6 0a6.3 6.3 0 1 0-12.6 0zM1558 1463a6.3 6.3 0 1 0 12.6 0a6.3 6.3 0 1 0-12.6 0zM1558.7 1462.7a6.3 6.3 0 1 0 12.6 0a6.3 6.3 0 1 0-12.6 0zM1559.5 1462.4a6.3 6.3 0 1 0 12.6 0a6.3 6.3 0 1 0-12.6 0zM1560.2 1462.1a6.3 6.3 0 1 0 12.6 0a6.3 6.3 0 1 0-12.6 0zM1561 1461.8a6.3 6.3 0 1 0 12.6 0a6.3 6.3 0 1 0-12.6 0zM1561.7 1461.5a6.3 6.3 0 1 0 12.6 0a6.3 6.3 0 1 0-12.6 0zM1562.5 1461.1a6.3 6.3 0 1 0 12.6 0a6.3 6.3 0 1 0-12.6 0zM1563.2 1460.8a6.3 6.3 0 1 0 12.6 0a6.3 6.3 0 1 0-12.6 0zM1564 1460.5a6.3 6.3 0 1 0 12.6 0a6.3 6.3 0 1 0-12.6 0zM1564.7 1460.1a6.3 6.3 0 1 0 12.6 0a6.3 6.3 0 1 0-12.6 0zM1565.5 1459.8a6.3 6.3 0 1 0 12.6 0a6.3 6.3 0 1 0-12.6 0zM1566.2 1459.4a6.3 6.3 0 1 0 12.6 0a6.3 6.3 0 1 0-12.6 0zM1567 1459a6.3 6.3 0 1 0 12.6 0a6.3 6.3 0 1 0-12.6 0zM1567.7 1458.7a6.3 6.3 0 1 0 12.6 0a6.3 6.3 0 1 0-12.6 0zM1568.5 1458.3a6.3 6.3 0 1 0 12.6 0a6.3 6.3 0 1 0-12.6 0zM1569.2 1457.9a6.3 6.3 0 1 0 12.6 0a6.3 6.3 0 1 0-12.6 0zM1570 1457.5a6.3 6.3 0 1 0 12.6 0a6.3 6.3 0 1 0-12.6 0zM1570.7 1457.1a6.3 6.3 0 1 0 12.6 0a6.3 6.3 0 1 0-12.6 0zM1571.5 1456.7a6.3 6.3 0 1 0 12.6 0a6.3 6.3 0 1 0-12.6 0zM1572.2 1456.3a6.3 6.3 0 1 0 12.6 0a6.3 6.3 0 1 0-12.6 0zM1573 1455.9a6.3 6.3 0 1 0 12.6 0a6.3 6.3 0 1 0-12.6 0zM1573.7 1455.5a6.3 6.3 0 1 0 12.6 0a6.3 6.3 0 1 0-12.6 0zM1574.5 1455.1a6.3 6.3 0 1 0 12.6 0a6.3 6.3 0 1 0-12.6 0zM1575.2 1454.6a6.3 6.3 0 1 0 12.6 0a6.3 6.3 0 1 0-12.6 0zM1576 1454.2a6.3 6.3 0 1 0 12.6 0a6.3 6.3 0 1 0-12.6 0zM1576.7 1453.7a6.3 6.3 0 1 0 12.6 0a6.3 6.3 0 1 0-12.6 0zM1577.5 1453.2a6.3 6.3 0 1 0 12.6 0a6.3 6.3 0 1 0-12.6 0zM1578.2 1452.7a6.3 6.3 0 1 0 12.6 0a6.3 6.3 0 1 0-12.6 0zM1579 1452.2a6.3 6.3 0 1 0 12.6 0a6.3 6.3 0 1 0-12.6 0zM1579.7 1451.7a6.3 6.3 0 1 0 12.6 0a6.3 6.3 0 1 0-12.6 0zM1580.5 1451.2a6.3 6.3 0 1 0 12.6 0a6.3 6.3 0 1 0-12.6 0zM1581.2 1450.6a6.3 6.3 0 1 0 12.6 0a6.3 6.3 0 1 0-12.6 0zM1582 1450.1a6.3 6.3 0 1 0 12.6 0a6.3 6.3 0 1 0-12.6 0zM1582.7 1449.5a6.3 6.3 0 1 0 12.6 0a6.3 6.3 0 1 0-12.6 0zM1583.5 1448.9a6.3 6.3 0 1 0 12.6 0a6.3 6.3 0 1 0-12.6 0zM1584.2 1448.3a6.3 6.3 0 1 0 12.6 0a6.3 6.3 0 1 0-12.6 0zM1585 1447.6a6.3 6.3 0 1 0 12.6 0a6.3 6.3 0 1 0-12.6 0zM1585.7 1447a6.3 6.3 0 1 0 12.6 0a6.3 6.3 0 1 0-12.6 0zM1586.5 1446.3a6.3 6.3 0 1 0 12.6 0a6.3 6.3 0 1 0-12.6 0zM1587.2 1445.6a6.3 6.3 0 1 0 12.6 0a6.3 6.3 0 1 0-12.6 0zM1588 1444.9a6.3 6.3 0 1 0 12.6 0a6.3 6.3 0 1 0-12.6 0zM1588.7 1444.2a6.3 6.3 0 1 0 12.6 0a6.3 6.3 0 1 0-12.6 0zM1589.5 1443.4a6.3 6.3 0 1 0 12.6 0a6.3 6.3 0 1 0-12.6 0zM1590.2 1442.6a6.3 6.3 0 1 0 12.6 0a6.3 6.3 0 1 0-12.6 0zM1591 1441.8a6.3 6.3 0 1 0 12.6 0a6.3 6.3 0 1 0-12.6 0zM1591.7 1441a6.3 6.3 0 1 0 12.6 0a6.3 6.3 0 1 0-12.6 0zM1592.5 1440.1a6.3 6.3 0 1 0 12.6 0a6.3 6.3 0 1 0-12.6 0zM1593.2 1439.3a6.3 6.3 0 1 0 12.6 0a6.3 6.3 0 1 0-12.6 0zM1594 1438.4a6.3 6.3 0 1 0 12.6 0a6.3 6.3 0 1 0-12.6 0zM1594.7 1437.5a6.3 6.3 0 1 0 12.6 0a6.3 6.3 0 1 0-12.6 0zM1595.5 1436.6a6.3 6.3 0 1 0 12.6 0a6.3 6.3 0 1 0-12.6 0zM1596.2 1435.6a6.3 6.3 0 1 0 12.6 0a6.3 6.3 0 1 0-12.6 0zM1597 1434.7a6.3 6.3 0 1 0 12.6 0a6.3 6.3 0 1 0-12.6 0zM1597.7 1433.7a6.3 6.3 0 1 0 12.6 0a6.3 6.3 0 1 0-12.6 0zM1598.5 1432.7a6.3 6.3 0 1 0 12.6 0a6.3 6.3 0 1 0-12.6 0zM1599.2 1431.8a6.3 6.3 0 1 0 12.6 0a6.3 6.3 0 1 0-12.6 0zM1600 1430.8a6.3 6.3 0 1 0 12.6 0a6.3 6.3 0 1 0-12.6 0zM1600.7 1429.7a6.3 6.3 0 1 0 12.6 0a6.3 6.3 0 1 0-12.6 0zM1601.5 1428.7a6.3 6.3 0 1 0 12.6 0a6.3 6.3 0 1 0-12.6 0zM1602.2 1427.7a6.3 6.3 0 1 0 12.6 0a6.3 6.3 0 1 0-12.6 0zM1603 1426.7a6.3 6.3 0 1 0 12.6 0a6.3 6.3 0 1 0-12.6 0zM1603.7 1425.6a6.3 6.3 0 1 0 12.6 0a6.3 6.3 0 1 0-12.6 0zM1604.5 1424.5a6.3 6.3 0 1 0 12.6 0a6.3 6.3 0 1 0-12.6 0zM1605.2 1423.4a6.3 6.3 0 1 0 12.6 0a6.3 6.3 0 1 0-12.6 0zM1606 1422.3a6.3 6.3 0 1 0 12.6 0a6.3 6.3 0 1 0-12.6 0zM1606.7 1421.2a6.3 6.3 0 1 0 12.6 0a6.3 6.3 0 1 0-12.6 0zM1607.5 1420a6.3 6.3 0 1 0 12.6 0a6.3 6.3 0 1 0-12.6 0zM1608.2 1418.8a6.3 6.3 0 1 0 12.6 0a6.3 6.3 0 1 0-12.6 0zM1609 1417.6a6.3 6.3 0 1 0 12.6 0a6.3 6.3 0 1 0-12.6 0zM1609.7 1416.3a6.3 6.3 0 1 0 12.6 0a6.3 6.3 0 1 0-12.6 0zM1610.5 1415a6.3 6.3 0 1 0 12.6 0a6.3 6.3 0 1 0-12.6 0zM1611.2 1413.7a6.3 6.3 0 1 0 12.6 0a6.3 6.3 0 1 0-12.6 0zM1612 1412.3a6.3 6.3 0 1 0 12.6 0a6.3 6.3 0 1 0-12.6 0zM1612.7 1410.9a6.3 6.3 0 1 0 12.6 0a6.3 6.3 0 1 0-12.6 0zM1613.5 1409.5a6.3 6.3 0 1 0 12.6 0a6.3 6.3 0 1 0-12.6 0zM1614.2 1408a6.3 6.3 0 1 0 12.6 0a6.3 6.3 0 1 0-12.6 0zM1615 1406.4a6.3 6.3 0 1 0 12.6 0a6.3 6.3 0 1 0-12.6 0zM1615.7 1404.8a6.3 6.3 0 1 0 12.6 0a6.3 6.3 0 1 0-12.6 0zM1616.5 1403.1a6.3 6.3 0 1 0 12.6 0a6.3 6.3 0 1 0-12.6 0zM1617.2 1401.3a6.3 6.3 0 1 0 12.6 0a6.3 6.3 0 1 0-12.6 0zM1618 1399.5a6.3 6.3 0 1 0 12.6 0a6.3 6.3 0 1 0-12.6 0zM1618.7 1397.6a6.3 6.3 0 1 0 12.6 0a6.3 6.3 0 1 0-12.6 0zM1619.5 1395.7a6.3 6.3 0 1 0 12.6 0a6.3 6.3 0 1 0-12.6 0zM1620.2 1393.8a6.3 6.3 0 1 0 12.6 0a6.3 6.3 0 1 0-12.6 0zM1621 1391.8a6.3 6.3 0 1 0 12.6 0a6.3 6.3 0 1 0-12.6 0zM1621.7 1389.9a6.3 6.3 0 1 0 12.6 0a6.3 6.3 0 1 0-12.6 0zM1622.5 1387.9a6.3 6.3 0 1 0 12.6 0a6.3 6.3 0 1 0-12.6 0zM1623.2 1386a6.3 6.3 0 1 0 12.6 0a6.3 6.3 0 1 0-12.6 0zM1624 1384.1a6.3 6.3 0 1 0 12.6 0a6.3 6.3 0 1 0-12.6 0zM1624.7 1382.2a6.3 6.3 0 1 0 12.6 0a6.3 6.3 0 1 0-12.6 0zM1625.5 1380.4a6.3 6.3 0 1 0 12.6 0a6.3 6.3 0 1 0-12.6 0zM1626.2 1378.6a6.3 6.3 0 1 0 12.6 0a6.3 6.3 0 1 0-12.6 0zM1627 1376.8a6.3 6.3 0 1 0 12.6 0a6.3 6.3 0 1 0-12.6 0zM1627.7 1375a6.3 6.3 0 1 0 12.6 0a6.3 6.3 0 1 0-12.6 0zM1628.5 1373.2a6.3 6.3 0 1 0 12.6 0a6.3 6.3 0 1 0-12.6 0zM1629.2 1371.4a6.3 6.3 0 1 0 12.6 0a6.3 6.3 0 1 0-12.6 0zM1630 1369.6a6.3 6.3 0 1 0 12.6 0a6.3 6.3 0 1 0-12.6 0zM1630.7 1367.8a6.3 6.3 0 1 0 12.6 0a6.3 6.3 0 1 0-12.6 0zM1631.5 1366a6.3 6.3 0 1 0 12.6 0a6.3 6.3 0 1 0-12.6 0zM1632.2 1364.2a6.3 6.3 0 1 0 12.6 0a6.3 6.3 0 1 0-12.6 0zM1633 1362.3a6.3 6.3 0 1 0 12.6 0a6.3 6.3 0 1 0-12.6 0zM1633.7 1360.5a6.3 6.3 0 1 0 12.6 0a6.3 6.3 0 1 0-12.6 0zM1634.5 1358.6a6.3 6.3 0 1 0 12.6 0a6.3 6.3 0 1 0-12.6 0zM1635.2 1356.7a6.3 6.3 0 1 0 12.6 0a6.3 6.3 0 1 0-12.6 0zM1636 1354.9a6.3 6.3 0 1 0 12.6 0a6.3 6.3 0 1 0-12.6 0zM1636.7 1353a6.3 6.3 0 1 0 12.6 0a6.3 6.3 0 1 0-12.6 0zM1637.5 1351.1a6.3 6.3 0 1 0 12.6 0a6.3 6.3 0 1 0-12.6 0zM1638.2 1349.2a6.3 6.3 0 1 0 12.6 0a6.3 6.3 0 1 0-12.6 0zM1639 1347.2a6.3 6.3 0 1 0 12.6 0a6.3 6.3 0 1 0-12.6 0zM1639.7 1345.3a6.3 6.3 0 1 0 12.6 0a6.3 6.3 0 1 0-12.6 0zM1640.5 1343.3a6.3 6.3 0 1 0 12.6 0a6.3 6.3 0 1 0-12.6 0zM1641.2 1341.3a6.3 6.3 0 1 0 12.6 0a6.3 6.3 0 1 0-12.6 0zM1642 1339.3a6.3 6.3 0 1 0 12.6 0a6.3 6.3 0 1 0-12.6 0zM1642.7 1337.3a6.3 6.3 0 1 0 12.6 0a6.3 6.3 0 1 0-12.6 0zM1643.5 1335.2a6.3 6.3 0 1 0 12.6 0a6.3 6.3 0 1 0-12.6 0zM1644.2 1333a6.3 6.3 0 1 0 12.6 0a6.3 6.3 0 1 0-12.6 0zM1645 1330.7a6.3 6.3 0 1 0 12.6 0a6.3 6.3 0 1 0-12.6 0zM1645.7 1328.4a6.3 6.3 0 1 0 12.6 0a6.3 6.3 0 1 0-12.6 0zM1646.5 1326.1a6.3 6.3 0 1 0 12.6 0a6.3 6.3 0 1 0-12.6 0zM1647.2 1323.7a6.3 6.3 0 1 0 12.6 0a6.3 6.3 0 1 0-12.6 0zM1648 1321.4a6.3 6.3 0 1 0 12.6 0a6.3 6.3 0 1 0-12.6 0zM1648.7 1319a6.3 6.3 0 1 0 12.6 0a6.3 6.3 0 1 0-12.6 0zM1649.5 1316.7a6.3 6.3 0 1 0 12.6 0a6.3 6.3 0 1 0-12.6 0zM1650.2 1314.5a6.3 6.3 0 1 0 12.6 0a6.3 6.3 0 1 0-12.6 0zM1651 1312.3a6.3 6.3 0 1 0 12.6 0a6.3 6.3 0 1 0-12.6 0zM1651.7 1310.2a6.3 6.3 0 1 0 12.6 0a6.3 6.3 0 1 0-12.6 0zM1652.5 1308.2a6.3 6.3 0 1 0 12.6 0a6.3 6.3 0 1 0-12.6 0zM1653.2 1306.2a6.3 6.3 0 1 0 12.6 0a6.3 6.3 0 1 0-12.6 0zM1654 1304.2a6.3 6.3 0 1 0 12.6 0a6.3 6.3 0 1 0-12.6 0zM1654.7 1302.3a6.3 6.3 0 1 0 12.6 0a6.3 6.3 0 1 0-12.6 0zM1655.5 1300.3a6.3 6.3 0 1 0 12.6 0a6.3 6.3 0 1 0-12.6 0zM1656.2 1298.3a6.3 6.3 0 1 0 12.6 0a6.3 6.3 0 1 0-12.6 0zM1657 1296.3a6.3 6.3 0 1 0 12.6 0a6.3 6.3 0 1 0-12.6 0zM1657.7 1294.1a6.3 6.3 0 1 0 12.6 0a6.3 6.3 0 1 0-12.6 0zM1658.5 1291.8a6.3 6.3 0 1 0 12.6 0a6.3 6.3 0 1 0-12.6 0zM1659.2 1289.4a6.3 6.3 0 1 0 12.6 0a6.3 6.3 0 1 0-12.6 0zM1660 1286.8a6.3 6.3 0 1 0 12.6 0a6.3 6.3 0 1 0-12.6 0zM1660.7 1284.2a6.3 6.3 0 1 0 12.6 0a6.3 6.3 0 1 0-12.6 0zM1661.5 1281.5a6.3 6.3 0 1 0 12.6 0a6.3 6.3 0 1 0-12.6 0zM1662.2 1278.7a6.3 6.3 0 1 0 12.6 0a6.3 6.3 0 1 0-12.6 0zM1663 1275.8a6.3 6.3 0 1 0 12.6 0a6.3 6.3 0 1 0-12.6 0zM1663.7 1272.9a6.3 6.3 0 1 0 12.6 0a6.3 6.3 0 1 0-12.6 0zM1664.5 1269.8a6.3 6.3 0 1 0 12.6 0a6.3 6.3 0 1 0-12.6 0zM1665.2 1266.8a6.3 6.3 0 1 0 12.6 0a6.3 6.3 0 1 0-12.6 0zM1666 1263.7a6.3 6.3 0 1 0 12.6 0a6.3 6.3 0 1 0-12.6 0zM1666.7 1260.6a6.3 6.3 0 1 0 12.6 0a6.3 6.3 0 1 0-12.6 0zM1667.5 1257.4a6.3 6.3 0 1 0 12.6 0a6.3 6.3 0 1 0-12.6 0zM1668.2 1254.3a6.3 6.3 0 1 0 12.6 0a6.3 6.3 0 1 0-12.6 0zM1669 1251.1a6.3 6.3 0 1 0 12.6 0a6.3 6.3 0 1 0-12.6 0zM1669.7 1247.9a6.3 6.3 0 1 0 12.6 0a6.3 6.3 0 1 0-12.6 0zM1670.5 1244.7a6.3 6.3 0 1 0 12.6 0a6.3 6.3 0 1 0-12.6 0zM1671.2 1241.6a6.3 6.3 0 1 0 12.6 0a6.3 6.3 0 1 0-12.6 0zM1672 1238.5a6.3 6.3 0 1 0 12.6 0a6.3 6.3 0 1 0-12.6 0zM1672.7 1235.4a6.3 6.3 0 1 0 12.6 0a6.3 6.3 0 1 0-12.6 0zM1673.5 1232.4a6.3 6.3 0 1 0 12.6 0a6.3 6.3 0 1 0-12.6 0zM1674.2 1229.3a6.3 6.3 0 1 0 12.6 0a6.3 6.3 0 1 0-12.6 0zM1675 1226.2a6.3 6.3 0 1 0 12.6 0a6.3 6.3 0 1 0-12.6 0zM1675.7 1223.1a6.3 6.3 0 1 0 12.6 0a6.3 6.3 0 1 0-12.6 0zM1676.5 1219.9a6.3 6.3 0 1 0 12.6 0a6.3 6.3 0 1 0-12.6 0zM1677.2 1216.7a6.3 6.3 0 1 0 12.6 0a6.3 6.3 0 1 0-12.6 0zM1678 1213.3a6.3 6.3 0 1 0 12.6 0a6.3 6.3 0 1 0-12.6 0zM1678.7 1209.9a6.3 6.3 0 1 0 12.6 0a6.3 6.3 0 1 0-12.6 0zM1679.5 1206.3a6.3 6.3 0 1 0 12.6 0a6.3 6.3 0 1 0-12.6 0zM1680.2 1202.7a6.3 6.3 0 1 0 12.6 0a6.3 6.3 0 1 0-12.6 0zM1681 1198.8a6.3 6.3 0 1 0 12.6 0a6.3 6.3 0 1 0-12.6 0zM1681.7 1194.8a6.3 6.3 0 1 0 12.6 0a6.3 6.3 0 1 0-12.6 0zM1682.5 1190.6a6.3 6.3 0 1 0 12.6 0a6.3 6.3 0 1 0-12.6 0zM1683.2 1186a6.3 6.3 0 1 0 12.6 0a6.3 6.3 0 1 0-12.6 0zM1684 1180.9a6.3 6.3 0 1 0 12.6 0a6.3 6.3 0 1 0-12.6 0zM1684.7 1175.6a6.3 6.3 0 1 0 12.6 0a6.3 6.3 0 1 0-12.6 0zM1685.5 1170.1a6.3 6.3 0 1 0 12.6 0a6.3 6.3 0 1 0-12.6 0zM1686.2 1164.5a6.3 6.3 0 1 0 12.6 0a6.3 6.3 0 1 0-12.6 0zM1687 1158.8a6.3 6.3 0 1 0 12.6 0a6.3 6.3 0 1 0-12.6 0zM1687.7 1153.3a6.3 6.3 0 1 0 12.6 0a6.3 6.3 0 1 0-12.6 0zM1688.5 1147.8a6.3 6.3 0 1 0 12.6 0a6.3 6.3 0 1 0-12.6 0zM1689.2 1142.6a6.3 6.3 0 1 0 12.6 0a6.3 6.3 0 1 0-12.6 0zM1690 1137.7a6.3 6.3 0 1 0 12.6 0a6.3 6.3 0 1 0-12.6 0zM1690.7 1132.9a6.3 6.3 0 1 0 12.6 0a6.3 6.3 0 1 0-12.6 0zM1691.5 1128.2a6.3 6.3 0 1 0 12.6 0a6.3 6.3 0 1 0-12.6 0zM1692.2 1123.5a6.3 6.3 0 1 0 12.6 0a6.3 6.3 0 1 0-12.6 0zM1693 1118.9a6.3 6.3 0 1 0 12.6 0a6.3 6.3 0 1 0-12.6 0zM1693.7 1114.3a6.3 6.3 0 1 0 12.6 0a6.3 6.3 0 1 0-12.6 0zM1694.5 1109.8a6.3 6.3 0 1 0 12.6 0a6.3 6.3 0 1 0-12.6 0zM1695.2 1105.4a6.3 6.3 0 1 0 12.6 0a6.3 6.3 0 1 0-12.6 0zM1696 1101.1a6.3 6.3 0 1 0 12.6 0a6.3 6.3 0 1 0-12.6 0zM1696.7 1096.9a6.3 6.3 0 1 0 12.6 0a6.3 6.3 0 1 0-12.6 0zM1697.5 1092.7a6.3 6.3 0 1 0 12.6 0a6.3 6.3 0 1 0-12.6 0zM1698.2 1088.6a6.3 6.3 0 1 0 12.6 0a6.3 6.3 0 1 0-12.6 0zM1699 1084.6a6.3 6.3 0 1 0 12.6 0a6.3 6.3 0 1 0-12.6 0zM1699.7 1080.8a6.3 6.3 0 1 0 12.6 0a6.3 6.3 0 1 0-12.6 0zM1700.5 1077.1a6.3 6.3 0 1 0 12.6 0a6.3 6.3 0 1 0-12.6 0zM1701.2 1073.6a6.3 6.3 0 1 0 12.6 0a6.3 6.3 0 1 0-12.6 0zM1702 1070a6.3 6.3 0 1 0 12.6 0a6.3 6.3 0 1 0-12.6 0zM1702.7 1066.6a6.3 6.3 0 1 0 12.6 0a6.3 6.3 0 1 0-12.6 0zM1703.5 1063.1a6.3 6.3 0 1 0 12.6 0a6.3 6.3 0 1 0-12.6 0zM1704.2 1059.6a6.3 6.3 0 1 0 12.6 0a6.3 6.3 0 1 0-12.6 0zM1705 1056a6.3 6.3 0 1 0 12.6 0a6.3 6.3 0 1 0-12.6 0zM1705.7 1052.3a6.3 6.3 0 1 0 12.6 0a6.3 6.3 0 1 0-12.6 0zM1706.5 1048.4a6.3 6.3 0 1 0 12.6 0a6.3 6.3 0 1 0-12.6 0zM1707.2 1044.6a6.3 6.3 0 1 0 12.6 0a6.3 6.3 0 1 0-12.6 0zM1708 1040.9a6.3 6.3 0 1 0 12.6 0a6.3 6.3 0 1 0-12.6 0zM1708.7 1037.3a6.3 6.3 0 1 0 12.6 0a6.3 6.3 0 1 0-12.6 0zM1709.5 1033.6a6.3 6.3 0 1 0 12.6 0a6.3 6.3 0 1 0-12.6 0zM1710.2 1029.8a6.3 6.3 0 1 0 12.6 0a6.3 6.3 0 1 0-12.6 0zM1711 1025.8a6.3 6.3 0 1 0 12.6 0a6.3 6.3 0 1 0-12.6 0zM1711.7 1021.6a6.3 6.3 0 1 0 12.6 0a6.3 6.3 0 1 0-12.6 0zM1712.5 1017.1a6.3 6.3 0 1 0 12.6 0a6.3 6.3 0 1 0-12.6 0zM1713.2 1012.2a6.3 6.3 0 1 0 12.6 0a6.3 6.3 0 1 0-12.6 0zM1714 1006.9a6.3 6.3 0 1 0 12.6 0a6.3 6.3 0 1 0-12.6 0zM1714.7 1000.6a6.3 6.3 0 1 0 12.6 0a6.3 6.3 0 1 0-12.6 0zM1715.5 992.3a6.3 6.3 0 1 0 12.6 0a6.3 6.3 0 1 0-12.6 0zM1716.2 982.8a6.3 6.3 0 1 0 12.6 0a6.3 6.3 0 1 0-12.6 0zM1717 973a6.3 6.3 0 1 0 12.6 0a6.3 6.3 0 1 0-12.6 0zM1717.7 963.6a6.3 6.3 0 1 0 12.6 0a6.3 6.3 0 1 0-12.6 0zM1718.5 955.7a6.3 6.3 0 1 0 12.6 0a6.3 6.3 0 1 0-12.6 0zM1719.2 949.9a6.3 6.3 0 1 0 12.6 0a6.3 6.3 0 1 0-12.6 0zM1720 945.1a6.3 6.3 0 1 0 12.6 0a6.3 6.3 0 1 0-12.6 0zM1720.7 940.8a6.3 6.3 0 1 0 12.6 0a6.3 6.3 0 1 0-12.6 0zM1721.5 937.1a6.3 6.3 0 1 0 12.6 0a6.3 6.3 0 1 0-12.6 0zM1722.2 933.6a6.3 6.3 0 1 0 12.6 0a6.3 6.3 0 1 0-12.6 0zM1723 930.4a6.3 6.3 0 1 0 12.6 0a6.3 6.3 0 1 0-12.6 0zM1723.7 927.3a6.3 6.3 0 1 0 12.6 0a6.3 6.3 0 1 0-12.6 0zM1724.5 924.3a6.3 6.3 0 1 0 12.6 0a6.3 6.3 0 1 0-12.6 0zM1725.2 921.1a6.3 6.3 0 1 0 12.6 0a6.3 6.3 0 1 0-12.6 0zM1726 917.7a6.3 6.3 0 1 0 12.6 0a6.3 6.3 0 1 0-12.6 0zM1726.7 913.9a6.3 6.3 0 1 0 12.6 0a6.3 6.3 0 1 0-12.6 0zM1727.5 909.8a6.3 6.3 0 1 0 12.6 0a6.3 6.3 0 1 0-12.6 0zM1728.2 905a6.3 6.3 0 1 0 12.6 0a6.3 6.3 0 1 0-12.6 0zM1729 899.5a6.3 6.3 0 1 0 12.6 0a6.3 6.3 0 1 0-12.6 0zM1729.7 893.3a6.3 6.3 0 1 0 12.6 0a6.3 6.3 0 1 0-12.6 0zM1730.5 886.7a6.3 6.3 0 1 0 12.6 0a6.3 6.3 0 1 0-12.6 0zM1731.2 880a6.3 6.3 0 1 0 12.6 0a6.3 6.3 0 1 0-12.6 0zM1732 873.3a6.3 6.3 0 1 0 12.6 0a6.3 6.3 0 1 0-12.6 0zM1732.7 866.8a6.3 6.3 0 1 0 12.6 0a6.3 6.3 0 1 0-12.6 0zM1733.5 860.8a6.3 6.3 0 1 0 12.6 0a6.3 6.3 0 1 0-12.6 0zM1734.2 855.1a6.3 6.3 0 1 0 12.6 0a6.3 6.3 0 1 0-12.6 0zM1735 849.4a6.3 6.3 0 1 0 12.6 0a6.3 6.3 0 1 0-12.6 0zM1735.7 843.9a6.3 6.3 0 1 0 12.6 0a6.3 6.3 0 1 0-12.6 0zM1736.5 838.4a6.3 6.3 0 1 0 12.6 0a6.3 6.3 0 1 0-12.6 0zM1737.2 833a6.3 6.3 0 1 0 12.6 0a6.3 6.3 0 1 0-12.6 0zM1738 827.8a6.3 6.3 0 1 0 12.6 0a6.3 6.3 0 1 0-12.6 0zM1738.7 822.8a6.3 6.3 0 1 0 12.6 0a6.3 6.3 0 1 0-12.6 0zM1739.5 817.9a6.3 6.3 0 1 0 12.6 0a6.3 6.3 0 1 0-12.6 0zM1740.2 813.3a6.3 6.3 0 1 0 12.6 0a6.3 6.3 0 1 0-12.6 0zM1741 808.9a6.3 6.3 0 1 0 12.6 0a6.3 6.3 0 1 0-12.6 0zM1741.7 804.7a6.3 6.3 0 1 0 12.6 0a6.3 6.3 0 1 0-12.6 0zM1742.5 800.6a6.3 6.3 0 1 0 12.6 0a6.3 6.3 0 1 0-12.6 0zM1743.2 796.7a6.3 6.3 0 1 0 12.6 0a6.3 6.3 0 1 0-12.6 0zM1744 792.7a6.3 6.3 0 1 0 12.6 0a6.3 6.3 0 1 0-12.6 0zM1744.7 788.8a6.3 6.3 0 1 0 12.6 0a6.3 6.3 0 1 0-12.6 0zM1745.5 784.8a6.3 6.3 0 1 0 12.6 0a6.3 6.3 0 1 0-12.6 0zM1746.2 780.7a6.3 6.3 0 1 0 12.6 0a6.3 6.3 0 1 0-12.6 0zM1747 776.5a6.3 6.3 0 1 0 12.6 0a6.3 6.3 0 1 0-12.6 0zM1747.7 772a6.3 6.3 0 1 0 12.6 0a6.3 6.3 0 1 0-12.6 0zM1748.5 767.3a6.3 6.3 0 1 0 12.6 0a6.3 6.3 0 1 0-12.6 0zM1749.2 762.4a6.3 6.3 0 1 0 12.6 0a6.3 6.3 0 1 0-12.6 0zM1750 757.4a6.3 6.3 0 1 0 12.6 0a6.3 6.3 0 1 0-12.6 0zM1750.7 752.3a6.3 6.3 0 1 0 12.6 0a6.3 6.3 0 1 0-12.6 0zM1751.5 747.2a6.3 6.3 0 1 0 12.6 0a6.3 6.3 0 1 0-12.6 0zM1752.2 742.1a6.3 6.3 0 1 0 12.6 0a6.3 6.3 0 1 0-12.6 0zM1753 737a6.3 6.3 0 1 0 12.6 0a6.3 6.3 0 1 0-12.6 0zM1753.7 731.9a6.3 6.3 0 1 0 12.6 0a6.3 6.3 0 1 0-12.6 0zM1754.5 726.6a6.3 6.3 0 1 0 12.6 0a6.3 6.3 0 1 0-12.6 0zM1755.2 721.2a6.3 6.3 0 1 0 12.6 0a6.3 6.3 0 1 0-12.6 0zM1756 715.9a6.3 6.3 0 1 0 12.6 0a6.3 6.3 0 1 0-12.6 0zM1756.7 710.7a6.3 6.3 0 1 0 12.6 0a6.3 6.3 0 1 0-12.6 0zM1757.5 705.9a6.3 6.3 0 1 0 12.6 0a6.3 6.3 0 1 0-12.6 0zM1758.2 701.6a6.3 6.3 0 1 0 12.6 0a6.3 6.3 0 1 0-12.6 0zM1759 697.8a6.3 6.3 0 1 0 12.6 0a6.3 6.3 0 1 0-12.6 0zM1759.7 694.6a6.3 6.3 0 1 0 12.6 0a6.3 6.3 0 1 0-12.6 0zM1760.5 691.7a6.3 6.3 0 1 0 12.6 0a6.3 6.3 0 1 0-12.6 0zM1761.2 689.1a6.3 6.3 0 1 0 12.6 0a6.3 6.3 0 1 0-12.6 0zM1762 686.5a6.3 6.3 0 1 0 12.6 0a6.3 6.3 0 1 0-12.6 0zM1762.7 683.7a6.3 6.3 0 1 0 12.6 0a6.3 6.3 0 1 0-12.6 0zM1763.5 680.7a6.3 6.3 0 1 0 12.6 0a6.3 6.3 0 1 0-12.6 0zM1764.2 677.1a6.3 6.3 0 1 0 12.6 0a6.3 6.3 0 1 0-12.6 0zM1765 672.8a6.3 6.3 0 1 0 12.6 0a6.3 6.3 0 1 0-12.6 0zM1765.7 667.2a6.3 6.3 0 1 0 12.6 0a6.3 6.3 0 1 0-12.6 0zM1766.5 660.6a6.3 6.3 0 1 0 12.6 0a6.3 6.3 0 1 0-12.6 0zM1767.2 654.1a6.3 6.3 0 1 0 12.6 0a6.3 6.3 0 1 0-12.6 0zM1768 648.1a6.3 6.3 0 1 0 12.6 0a6.3 6.3 0 1 0-12.6 0zM1768.7 643.3a6.3 6.3 0 1 0 12.6 0a6.3 6.3 0 1 0-12.6 0zM1769.5 639a6.3 6.3 0 1 0 12.6 0a6.3 6.3 0 1 0-12.6 0zM1770.2 635.1a6.3 6.3 0 1 0 12.6 0a6.3 6.3 0 1 0-12.6 0zM1771 631.2a6.3 6.3 0 1 0 12.6 0a6.3 6.3 0 1 0-12.6 0zM1771.7 627.2a6.3 6.3 0 1 0 12.6 0a6.3 6.3 0 1 0-12.6 0zM1772.5 622.8a6.3 6.3 0 1 0 12.6 0a6.3 6.3 0 1 0-12.6 0zM1773.2 617.9a6.3 6.3 0 1 0 12.6 0a6.3 6.3 0 1 0-12.6 0zM1774 611.9a6.3 6.3 0 1 0 12.6 0a6.3 6.3 0 1 0-12.6 0zM1774.7 605.4a6.3 6.3 0 1 0 12.6 0a6.3 6.3 0 1 0-12.6 0zM1775.5 598.8a6.3 6.3 0 1 0 12.6 0a6.3 6.3 0 1 0-12.6 0zM1776.2 592.8a6.3 6.3 0 1 0 12.6 0a6.3 6.3 0 1 0-12.6 0zM1777 587.7a6.3 6.3 0 1 0 12.6 0a6.3 6.3 0 1 0-12.6 0zM1777.7 582.9a6.3 6.3 0 1 0 12.6 0a6.3 6.3 0 1 0-12.6 0zM1778.5 578.3a6.3 6.3 0 1 0 12.6 0a6.3 6.3 0 1 0-12.6 0zM1779.2 574a6.3 6.3 0 1 0 12.6 0a6.3 6.3 0 1 0-12.6 0zM1780 570a6.3 6.3 0 1 0 12.6 0a6.3 6.3 0 1 0-12.6 0zM1780.7 566.3a6.3 6.3 0 1 0 12.6 0a6.3 6.3 0 1 0-12.6 0zM1781.5 563a6.3 6.3 0 1 0 12.6 0a6.3 6.3 0 1 0-12.6 0zM1782.2 560a6.3 6.3 0 1 0 12.6 0a6.3 6.3 0 1 0-12.6 0zM1783 557.4a6.3 6.3 0 1 0 12.6 0a6.3 6.3 0 1 0-12.6 0zM1783.7 555a6.3 6.3 0 1 0 12.6 0a6.3 6.3 0 1 0-12.6 0zM1784.5 552.8a6.3 6.3 0 1 0 12.6 0a6.3 6.3 0 1 0-12.6 0zM1785.2 550.7a6.3 6.3 0 1 0 12.6 0a6.3 6.3 0 1 0-12.6 0zM1786 548.6a6.3 6.3 0 1 0 12.6 0a6.3 6.3 0 1 0-12.6 0zM1786.7 546.4a6.3 6.3 0 1 0 12.6 0a6.3 6.3 0 1 0-12.6 0zM1787.5 544.2a6.3 6.3 0 1 0 12.6 0a6.3 6.3 0 1 0-12.6 0zM1788.2 541.7a6.3 6.3 0 1 0 12.6 0a6.3 6.3 0 1 0-12.6 0zM1789 539a6.3 6.3 0 1 0 12.6 0a6.3 6.3 0 1 0-12.6 0zM1789.7 536a6.3 6.3 0 1 0 12.6 0a6.3 6.3 0 1 0-12.6 0zM1790.5 532.5a6.3 6.3 0 1 0 12.6 0a6.3 6.3 0 1 0-12.6 0zM1791.2 528.5a6.3 6.3 0 1 0 12.6 0a6.3 6.3 0 1 0-12.6 0zM1792 524.1a6.3 6.3 0 1 0 12.6 0a6.3 6.3 0 1 0-12.6 0zM1792.7 519.5a6.3 6.3 0 1 0 12.6 0a6.3 6.3 0 1 0-12.6 0zM1793.5 514.8a6.3 6.3 0 1 0 12.6 0a6.3 6.3 0 1 0-12.6 0zM1794.2 510.3a6.3 6.3 0 1 0 12.6 0a6.3 6.3 0 1 0-12.6 0zM1795 505.9a6.3 6.3 0 1 0 12.6 0a6.3 6.3 0 1 0-12.6 0zM1795.7 501.5a6.3 6.3 0 1 0 12.6 0a6.3 6.3 0 1 0-12.6 0zM1796.5 497.2a6.3 6.3 0 1 0 12.6 0a6.3 6.3 0 1 0-12.6 0zM1797.2 492.8a6.3 6.3 0 1 0 12.6 0a6.3 6.3 0 1 0-12.6 0zM1798 488.4a6.3 6.3 0 1 0 12.6 0a6.3 6.3 0 1 0-12.6 0zM1798.7 484.1a6.3 6.3 0 1 0 12.6 0a6.3 6.3 0 1 0-12.6 0zM1799.5 479.7a6.3 6.3 0 1 0 12.6 0a6.3 6.3 0 1 0-12.6 0zM1800.2 475.2a6.3 6.3 0 1 0 12.6 0a6.3 6.3 0 1 0-12.6 0zM1801 470.6a6.3 6.3 0 1 0 12.6 0a6.3 6.3 0 1 0-12.6 0zM1801.7 466.1a6.3 6.3 0 1 0 12.6 0a6.3 6.3 0 1 0-12.6 0zM1802.5 461.8a6.3 6.3 0 1 0 12.6 0a6.3 6.3 0 1 0-12.6 0zM1803.2 458a6.3 6.3 0 1 0 12.6 0a6.3 6.3 0 1 0-12.6 0zM1804 454.6a6.3 6.3 0 1 0 12.6 0a6.3 6.3 0 1 0-12.6 0zM1804.7 451.4a6.3 6.3 0 1 0 12.6 0a6.3 6.3 0 1 0-12.6 0zM1805.5 448.4a6.3 6.3 0 1 0 12.6 0a6.3 6.3 0 1 0-12.6 0zM1806.2 445.6a6.3 6.3 0 1 0 12.6 0a6.3 6.3 0 1 0-12.6 0zM1807 442.8a6.3 6.3 0 1 0 12.6 0a6.3 6.3 0 1 0-12.6 0zM1807.7 440.2a6.3 6.3 0 1 0 12.6 0a6.3 6.3 0 1 0-12.6 0zM1808.5 437.6a6.3 6.3 0 1 0 12.6 0a6.3 6.3 0 1 0-12.6 0zM1809.2 435a6.3 6.3 0 1 0 12.6 0a6.3 6.3 0 1 0-12.6 0zM1810 432.5a6.3 6.3 0 1 0 12.6 0a6.3 6.3 0 1 0-12.6 0zM1810.7 430a6.3 6.3 0 1 0 12.6 0a6.3 6.3 0 1 0-12.6 0zM1811.5 427.5a6.3 6.3 0 1 0 12.6 0a6.3 6.3 0 1 0-12.6 0zM1812.2 424.9a6.3 6.3 0 1 0 12.6 0a6.3 6.3 0 1 0-12.6 0zM1813 422.4a6.3 6.3 0 1 0 12.6 0a6.3 6.3 0 1 0-12.6 0zM1813.7 419.9a6.3 6.3 0 1 0 12.6 0a6.3 6.3 0 1 0-12.6 0zM1814.5 417.5a6.3 6.3 0 1 0 12.6 0a6.3 6.3 0 1 0-12.6 0zM1815.2 415.1a6.3 6.3 0 1 0 12.6 0a6.3 6.3 0 1 0-12.6 0zM1816 412.8a6.3 6.3 0 1 0 12.6 0a6.3 6.3 0 1 0-12.6 0zM1816.7 410.5a6.3 6.3 0 1 0 12.6 0a6.3 6.3 0 1 0-12.6 0zM1817.5 408.3a6.3 6.3 0 1 0 12.6 0a6.3 6.3 0 1 0-12.6 0zM1818.2 406.1a6.3 6.3 0 1 0 12.6 0a6.3 6.3 0 1 0-12.6 0zM1819 404.1a6.3 6.3 0 1 0 12.6 0a6.3 6.3 0 1 0-12.6 0zM1819.7 402.1a6.3 6.3 0 1 0 12.6 0a6.3 6.3 0 1 0-12.6 0zM1820.5 400.3a6.3 6.3 0 1 0 12.6 0a6.3 6.3 0 1 0-12.6 0zM1821.2 398.5a6.3 6.3 0 1 0 12.6 0a6.3 6.3 0 1 0-12.6 0zM1822 396.8a6.3 6.3 0 1 0 12.6 0a6.3 6.3 0 1 0-12.6 0zM1822.7 395.2a6.3 6.3 0 1 0 12.6 0a6.3 6.3 0 1 0-12.6 0zM1823.5 393.7a6.3 6.3 0 1 0 12.6 0a6.3 6.3 0 1 0-12.6 0zM1824.2 392.2a6.3 6.3 0 1 0 12.6 0a6.3 6.3 0 1 0-12.6 0zM1825 390.8a6.3 6.3 0 1 0 12.6 0a6.3 6.3 0 1 0-12.6 0zM1825.7 389.5a6.3 6.3 0 1 0 12.6 0a6.3 6.3 0 1 0-12.6 0zM1826.5 388.4a6.3 6.3 0 1 0 12.6 0a6.3 6.3 0 1 0-12.6 0zM1827.2 387.3a6.3 6.3 0 1 0 12.6 0a6.3 6.3 0 1 0-12.6 0zM1828 386.2a6.3 6.3 0 1 0 12.6 0a6.3 6.3 0 1 0-12.6 0zM1828.7 385.1a6.3 6.3 0 1 0 12.6 0a6.3 6.3 0 1 0-12.6 0zM1829.5 384.1a6.3 6.3 0 1 0 12.6 0a6.3 6.3 0 1 0-12.6 0zM1830.2 383.2a6.3 6.3 0 1 0 12.6 0a6.3 6.3 0 1 0-12.6 0zM1831 382.7a6.3 6.3 0 1 0 12.6 0a6.3 6.3 0 1 0-12.6 0zM1831.7 382.5a6.3 6.3 0 1 0 12.6 0a6.3 6.3 0 1 0-12.6 0zM1832.5 382.6a6.3 6.3 0 1 0 12.6 0a6.3 6.3 0 1 0-12.6 0zM1833.2 382.9a6.3 6.3 0 1 0 12.6 0a6.3 6.3 0 1 0-12.6 0zM1834 383.4a6.3 6.3 0 1 0 12.6 0a6.3 6.3 0 1 0-12.6 0zM1834.7 384a6.3 6.3 0 1 0 12.6 0a6.3 6.3 0 1 0-12.6 0zM1835.5 384.7a6.3 6.3 0 1 0 12.6 0a6.3 6.3 0 1 0-12.6 0zM1836.2 385.5a6.3 6.3 0 1 0 12.6 0a6.3 6.3 0 1 0-12.6 0zM1837 386.3a6.3 6.3 0 1 0 12.6 0a6.3 6.3 0 1 0-12.6 0zM1837.7 387.2a6.3 6.3 0 1 0 12.6 0a6.3 6.3 0 1 0-12.6 0zM1838.5 388.2a6.3 6.3 0 1 0 12.6 0a6.3 6.3 0 1 0-12.6 0zM1839.2 389.4a6.3 6.3 0 1 0 12.6 0a6.3 6.3 0 1 0-12.6 0zM1840 390.8a6.3 6.3 0 1 0 12.6 0a6.3 6.3 0 1 0-12.6 0zM1840.7 392.4a6.3 6.3 0 1 0 12.6 0a6.3 6.3 0 1 0-12.6 0zM1841.5 394.2a6.3 6.3 0 1 0 12.6 0a6.3 6.3 0 1 0-12.6 0zM1842.2 396.1a6.3 6.3 0 1 0 12.6 0a6.3 6.3 0 1 0-12.6 0zM1843 398.3a6.3 6.3 0 1 0 12.6 0a6.3 6.3 0 1 0-12.6 0zM1843.7 400.8a6.3 6.3 0 1 0 12.6 0a6.3 6.3 0 1 0-12.6 0zM1844.5 404.2a6.3 6.3 0 1 0 12.6 0a6.3 6.3 0 1 0-12.6 0zM1845.2 408.6a6.3 6.3 0 1 0 12.6 0a6.3 6.3 0 1 0-12.6 0zM1846 413.8a6.3 6.3 0 1 0 12.6 0a6.3 6.3 0 1 0-12.6 0zM1846.7 419.4a6.3 6.3 0 1 0 12.6 0a6.3 6.3 0 1 0-12.6 0zM1847.5 425.2a6.3 6.3 0 1 0 12.6 0a6.3 6.3 0 1 0-12.6 0zM1848.2 431a6.3 6.3 0 1 0 12.6 0a6.3 6.3 0 1 0-12.6 0zM1849 437.2a6.3 6.3 0 1 0 12.6 0a6.3 6.3 0 1 0-12.6 0zM1849.7 444.2a6.3 6.3 0 1 0 12.6 0a6.3 6.3 0 1 0-12.6 0zM1850.5 451.4a6.3 6.3 0 1 0 12.6 0a6.3 6.3 0 1 0-12.6 0zM1851.2 458.3a6.3 6.3 0 1 0 12.6 0a6.3 6.3 0 1 0-12.6 0zM1852 464.3a6.3 6.3 0 1 0 12.6 0a6.3 6.3 0 1 0-12.6 0zM1852.7 469.7a6.3 6.3 0 1 0 12.6 0a6.3 6.3 0 1 0-12.6 0zM1853.5 474.8a6.3 6.3 0 1 0 12.6 0a6.3 6.3 0 1 0-12.6 0zM1854.2 479.7a6.3 6.3 0 1 0 12.6 0a6.3 6.3 0 1 0-12.6 0zM1855 484.5a6.3 6.3 0 1 0 12.6 0a6.3 6.3 0 1 0-12.6 0zM1855.7 489.6a6.3 6.3 0 1 0 12.6 0a6.3 6.3 0 1 0-12.6 0zM1856.5 494.9a6.3 6.3 0 1 0 12.6 0a6.3 6.3 0 1 0-12.6 0zM1857.2 500.7a6.3 6.3 0 1 0 12.6 0a6.3 6.3 0 1 0-12.6 0zM1858 506.7a6.3 6.3 0 1 0 12.6 0a6.3 6.3 0 1 0-12.6 0zM1858.7 512.9a6.3 6.3 0 1 0 12.6 0a6.3 6.3 0 1 0-12.6 0zM1859.5 518.8a6.3 6.3 0 1 0 12.6 0a6.3 6.3 0 1 0-12.6 0zM1860.2 524.3a6.3 6.3 0 1 0 12.6 0a6.3 6.3 0 1 0-12.6 0zM1861 529.3a6.3 6.3 0 1 0 12.6 0a6.3 6.3 0 1 0-12.6 0zM1861.7 534.1a6.3 6.3 0 1 0 12.6 0a6.3 6.3 0 1 0-12.6 0zM1862.5 538.6a6.3 6.3 0 1 0 12.6 0a6.3 6.3 0 1 0-12.6 0zM1863.2 543a6.3 6.3 0 1 0 12.6 0a6.3 6.3 0 1 0-12.6 0zM1864 547.5a6.3 6.3 0 1 0 12.6 0a6.3 6.3 0 1 0-12.6 0zM1864.7 552a6.3 6.3 0 1 0 12.6 0a6.3 6.3 0 1 0-12.6 0zM1865.5 556.4a6.3 6.3 0 1 0 12.6 0a6.3 6.3 0 1 0-12.6 0zM1866.2 560.4a6.3 6.3 0 1 0 12.6 0a6.3 6.3 0 1 0-12.6 0zM1867 564.3a6.3 6.3 0 1 0 12.6 0a6.3 6.3 0 1 0-12.6 0zM1867.7 568.4a6.3 6.3 0 1 0 12.6 0a6.3 6.3 0 1 0-12.6 0zM1868.5 572.8a6.3 6.3 0 1 0 12.6 0a6.3 6.3 0 1 0-12.6 0zM1869.2 577.9a6.3 6.3 0 1 0 12.6 0a6.3 6.3 0 1 0-12.6 0zM1870 583.8a6.3 6.3 0 1 0 12.6 0a6.3 6.3 0 1 0-12.6 0zM1870.7 591.6a6.3 6.3 0 1 0 12.6 0a6.3 6.3 0 1 0-12.6 0zM1871.5 602.7a6.3 6.3 0 1 0 12.6 0a6.3 6.3 0 1 0-12.6 0zM1872.2 614.8a6.3 6.3 0 1 0 12.6 0a6.3 6.3 0 1 0-12.6 0zM1873 625.2a6.3 6.3 0 1 0 12.6 0a6.3 6.3 0 1 0-12.6 0zM1873.7 634.3a6.3 6.3 0 1 0 12.6 0a6.3 6.3 0 1 0-12.6 0zM1874.5 642.9a6.3 6.3 0 1 0 12.6 0a6.3 6.3 0 1 0-12.6 0zM1875.2 651.7a6.3 6.3 0 1 0 12.6 0a6.3 6.3 0 1 0-12.6 0zM1876 661.4a6.3 6.3 0 1 0 12.6 0a6.3 6.3 0 1 0-12.6 0zM1876.7 672.1a6.3 6.3 0 1 0 12.6 0a6.3 6.3 0 1 0-12.6 0zM1877.5 683.3a6.3 6.3 0 1 0 12.6 0a6.3 6.3 0 1 0-12.6 0zM1878.2 694a6.3 6.3 0 1 0 12.6 0a6.3 6.3 0 1 0-12.6 0zM1879 703.9a6.3 6.3 0 1 0 12.6 0a6.3 6.3 0 1 0-12.6 0zM1879.7 713.4a6.3 6.3 0 1 0 12.6 0a6.3 6.3 0 1 0-12.6 0zM1880.5 722.9a6.3 6.3 0 1 0 12.6 0a6.3 6.3 0 1 0-12.6 0zM1881.2 732.6a6.3 6.3 0 1 0 12.6 0a6.3 6.3 0 1 0-12.6 0zM1882 742.5a6.3 6.3 0 1 0 12.6 0a6.3 6.3 0 1 0-12.6 0zM1882.7 752.4a6.3 6.3 0 1 0 12.6 0a6.3 6.3 0 1 0-12.6 0zM1883.5 762.6a6.3 6.3 0 1 0 12.6 0a6.3 6.3 0 1 0-12.6 0zM1884.2 773a6.3 6.3 0 1 0 12.6 0a6.3 6.3 0 1 0-12.6 0zM1885 783.7a6.3 6.3 0 1 0 12.6 0a6.3 6.3 0 1 0-12.6 0zM1885.7 794.7a6.3 6.3 0 1 0 12.6 0a6.3 6.3 0 1 0-12.6 0zM1886.5 805.7a6.3 6.3 0 1 0 12.6 0a6.3 6.3 0 1 0-12.6 0zM1887.2 816.8a6.3 6.3 0 1 0 12.6 0a6.3 6.3 0 1 0-12.6 0zM1888 828a6.3 6.3 0 1 0 12.6 0a6.3 6.3 0 1 0-12.6 0zM1888.7 839.4a6.3 6.3 0 1 0 12.6 0a6.3 6.3 0 1 0-12.6 0zM1889.5 850.9a6.3 6.3 0 1 0 12.6 0a6.3 6.3 0 1 0-12.6 0zM1890.2 862.6a6.3 6.3 0 1 0 12.6 0a6.3 6.3 0 1 0-12.6 0zM1891 874.5a6.3 6.3 0 1 0 12.6 0a6.3 6.3 0 1 0-12.6 0zM1891.7 886a6.3 6.3 0 1 0 12.6 0a6.3 6.3 0 1 0-12.6 0zM1892.5 897a6.3 6.3 0 1 0 12.6 0a6.3 6.3 0 1 0-12.6 0zM1893.2 907.7a6.3 6.3 0 1 0 12.6 0a6.3 6.3 0 1 0-12.6 0zM1894 918.4a6.3 6.3 0 1 0 12.6 0a6.3 6.3 0 1 0-12.6 0zM1894.7 929.3a6.3 6.3 0 1 0 12.6 0a6.3 6.3 0 1 0-12.6 0zM1895.5 940.4a6.3 6.3 0 1 0 12.6 0a6.3 6.3 0 1 0-12.6 0zM1896.2 951.2a6.3 6.3 0 1 0 12.6 0a6.3 6.3 0 1 0-12.6 0zM1897 961.2a6.3 6.3 0 1 0 12.6 0a6.3 6.3 0 1 0-12.6 0zM1897.7 970.5a6.3 6.3 0 1 0 12.6 0a6.3 6.3 0 1 0-12.6 0zM1898.5 979.3a6.3 6.3 0 1 0 12.6 0a6.3 6.3 0 1 0-12.6 0zM1899.2 988.1a6.3 6.3 0 1 0 12.6 0a6.3 6.3 0 1 0-12.6 0zM1900 997a6.3 6.3 0 1 0 12.6 0a6.3 6.3 0 1 0-12.6 0zM1900.7 1006a6.3 6.3 0 1 0 12.6 0a6.3 6.3 0 1 0-12.6 0zM1901.5 1015a6.3 6.3 0 1 0 12.6 0a6.3 6.3 0 1 0-12.6 0zM1902.2 1024a6.3 6.3 0 1 0 12.6 0a6.3 6.3 0 1 0-12.6 0zM1903 1033a6.3 6.3 0 1 0 12.6 0a6.3 6.3 0 1 0-12.6 0zM1903.7 1042.2a6.3 6.3 0 1 0 12.6 0a6.3 6.3 0 1 0-12.6 0zM1904.5 1051.4a6.3 6.3 0 1 0 12.6 0a6.3 6.3 0 1 0-12.6 0zM1905.2 1060.3a6.3 6.3 0 1 0 12.6 0a6.3 6.3 0 1 0-12.6 0zM1906 1068.7a6.3 6.3 0 1 0 12.6 0a6.3 6.3 0 1 0-12.6 0zM1906.7 1076.3a6.3 6.3 0 1 0 12.6 0a6.3 6.3 0 1 0-12.6 0zM1907.5 1083.4a6.3 6.3 0 1 0 12.6 0a6.3 6.3 0 1 0-12.6 0zM1908.2 1090.8a6.3 6.3 0 1 0 12.6 0a6.3 6.3 0 1 0-12.6 0zM1909 1099a6.3 6.3 0 1 0 12.6 0a6.3 6.3 0 1 0-12.6 0zM1909.7 1108.6a6.3 6.3 0 1 0 12.6 0a6.3 6.3 0 1 0-12.6 0zM1910.5 1119.9a6.3 6.3 0 1 0 12.6 0a6.3 6.3 0 1 0-12.6 0zM1911.2 1132.1a6.3 6.3 0 1 0 12.6 0a6.3 6.3 0 1 0-12.6 0zM1912 1144.4a6.3 6.3 0 1 0 12.6 0a6.3 6.3 0 1 0-12.6 0zM1912.7 1156.4a6.3 6.3 0 1 0 12.6 0a6.3 6.3 0 1 0-12.6 0zM1913.5 1168.9a6.3 6.3 0 1 0 12.6 0a6.3 6.3 0 1 0-12.6 0zM1914.2 1181.7a6.3 6.3 0 1 0 12.6 0a6.3 6.3 0 1 0-12.6 0zM1915 1194.4a6.3 6.3 0 1 0 12.6 0a6.3 6.3 0 1 0-12.6 0zM1915.7 1206.6a6.3 6.3 0 1 0 12.6 0a6.3 6.3 0 1 0-12.6 0zM1916.5 1217.9a6.3 6.3 0 1 0 12.6 0a6.3 6.3 0 1 0-12.6 0zM1917.2 1227.8a6.3 6.3 0 1 0 12.6 0a6.3 6.3 0 1 0-12.6 0zM1918 1236.9a6.3 6.3 0 1 0 12.6 0a6.3 6.3 0 1 0-12.6 0zM1918.7 1245.3a6.3 6.3 0 1 0 12.6 0a6.3 6.3 0 1 0-12.6 0zM1919.5 1253.3a6.3 6.3 0 1 0 12.6 0a6.3 6.3 0 1 0-12.6 0zM1920.2 1260.9a6.3 6.3 0 1 0 12.6 0a6.3 6.3 0 1 0-12.6 0zM1921 1268.2a6.3 6.3 0 1 0 12.6 0a6.3 6.3 0 1 0-12.6 0zM1921.7 1275.3a6.3 6.3 0 1 0 12.6 0a6.3 6.3 0 1 0-12.6 0zM1922.5 1282.3a6.3 6.3 0 1 0 12.6 0a6.3 6.3 0 1 0-12.6 0zM1923.2 1289.1a6.3 6.3 0 1 0 12.6 0a6.3 6.3 0 1 0-12.6 0zM1924 1296a6.3 6.3 0 1 0 12.6 0a6.3 6.3 0 1 0-12.6 0zM1924.7 1303a6.3 6.3 0 1 0 12.6 0a6.3 6.3 0 1 0-12.6 0zM1925.5 1310.2a6.3 6.3 0 1 0 12.6 0a6.3 6.3 0 1 0-12.6 0zM1926.2 1317.5a6.3 6.3 0 1 0 12.6 0a6.3 6.3 0 1 0-12.6 0zM1927 1324.8a6.3 6.3 0 1 0 12.6 0a6.3 6.3 0 1 0-12.6 0zM1927.7 1332.2a6.3 6.3 0 1 0 12.6 0a6.3 6.3 0 1 0-12.6 0zM1928.5 1339.4a6.3 6.3 0 1 0 12.6 0a6.3 6.3 0 1 0-12.6 0zM1929.2 1346.5a6.3 6.3 0 1 0 12.6 0a6.3 6.3 0 1 0-12.6 0zM1930 1353.4a6.3 6.3 0 1 0 12.6 0a6.3 6.3 0 1 0-12.6 0zM1930.7 1360a6.3 6.3 0 1 0 12.6 0a6.3 6.3 0 1 0-12.6 0zM1931.5 1366.2a6.3 6.3 0 1 0 12.6 0a6.3 6.3 0 1 0-12.6 0zM1932.2 1371.9a6.3 6.3 0 1 0 12.6 0a6.3 6.3 0 1 0-12.6 0zM1933 1377.1a6.3 6.3 0 1 0 12.6 0a6.3 6.3 0 1 0-12.6 0zM1933.7 1381.8a6.3 6.3 0 1 0 12.6 0a6.3 6.3 0 1 0-12.6 0zM1934.5 1386.1a6.3 6.3 0 1 0 12.6 0a6.3 6.3 0 1 0-12.6 0zM1935.2 1390.1a6.3 6.3 0 1 0 12.6 0a6.3 6.3 0 1 0-12.6 0zM1936 1393.9a6.3 6.3 0 1 0 12.6 0a6.3 6.3 0 1 0-12.6 0zM1936.7 1397.5a6.3 6.3 0 1 0 12.6 0a6.3 6.3 0 1 0-12.6 0zM1937.5 1400.9a6.3 6.3 0 1 0 12.6 0a6.3 6.3 0 1 0-12.6 0zM1938.2 1404.2a6.3 6.3 0 1 0 12.6 0a6.3 6.3 0 1 0-12.6 0zM1939 1407.4a6.3 6.3 0 1 0 12.6 0a6.3 6.3 0 1 0-12.6 0zM1939.7 1410.5a6.3 6.3 0 1 0 12.6 0a6.3 6.3 0 1 0-12.6 0zM1940.5 1413.6a6.3 6.3 0 1 0 12.6 0a6.3 6.3 0 1 0-12.6 0zM1941.2 1416.7a6.3 6.3 0 1 0 12.6 0a6.3 6.3 0 1 0-12.6 0zM1942 1419.9a6.3 6.3 0 1 0 12.6 0a6.3 6.3 0 1 0-12.6 0zM1942.7 1423a6.3 6.3 0 1 0 12.6 0a6.3 6.3 0 1 0-12.6 0zM1943.5 1426.1a6.3 6.3 0 1 0 12.6 0a6.3 6.3 0 1 0-12.6 0zM1944.2 1429.1a6.3 6.3 0 1 0 12.6 0a6.3 6.3 0 1 0-12.6 0zM1945 1432a6.3 6.3 0 1 0 12.6 0a6.3 6.3 0 1 0-12.6 0zM1945.7 1434.8a6.3 6.3 0 1 0 12.6 0a6.3 6.3 0 1 0-12.6 0zM1946.5 1437.4a6.3 6.3 0 1 0 12.6 0a6.3 6.3 0 1 0-12.6 0zM1947.2 1440a6.3 6.3 0 1 0 12.6 0a6.3 6.3 0 1 0-12.6 0zM1948 1442.5a6.3 6.3 0 1 0 12.6 0a6.3 6.3 0 1 0-12.6 0zM1948.7 1445a6.3 6.3 0 1 0 12.6 0a6.3 6.3 0 1 0-12.6 0zM1949.5 1447.4a6.3 6.3 0 1 0 12.6 0a6.3 6.3 0 1 0-12.6 0zM1950.2 1449.7a6.3 6.3 0 1 0 12.6 0a6.3 6.3 0 1 0-12.6 0zM1951 1451.8a6.3 6.3 0 1 0 12.6 0a6.3 6.3 0 1 0-12.6 0zM1951.7 1453.8a6.3 6.3 0 1 0 12.6 0a6.3 6.3 0 1 0-12.6 0zM1952.5 1455.5a6.3 6.3 0 1 0 12.6 0a6.3 6.3 0 1 0-12.6 0zM1953.2 1456.9a6.3 6.3 0 1 0 12.6 0a6.3 6.3 0 1 0-12.6 0zM1954 1458.3a6.3 6.3 0 1 0 12.6 0a6.3 6.3 0 1 0-12.6 0zM1954.7 1459.5a6.3 6.3 0 1 0 12.6 0a6.3 6.3 0 1 0-12.6 0zM1955.5 1460.7a6.3 6.3 0 1 0 12.6 0a6.3 6.3 0 1 0-12.6 0zM1956.2 1461.8a6.3 6.3 0 1 0 12.6 0a6.3 6.3 0 1 0-12.6 0zM1957 1462.8a6.3 6.3 0 1 0 12.6 0a6.3 6.3 0 1 0-12.6 0zM1957.7 1463.7a6.3 6.3 0 1 0 12.6 0a6.3 6.3 0 1 0-12.6 0zM1958.5 1464.6a6.3 6.3 0 1 0 12.6 0a6.3 6.3 0 1 0-12.6 0zM1959.2 1465.5a6.3 6.3 0 1 0 12.6 0a6.3 6.3 0 1 0-12.6 0zM1960 1466.3a6.3 6.3 0 1 0 12.6 0a6.3 6.3 0 1 0-12.6 0zM1960.7 1467a6.3 6.3 0 1 0 12.6 0a6.3 6.3 0 1 0-12.6 0zM1961.5 1467.8a6.3 6.3 0 1 0 12.6 0a6.3 6.3 0 1 0-12.6 0zM1962.2 1468.5a6.3 6.3 0 1 0 12.6 0a6.3 6.3 0 1 0-12.6 0zM1963 1469.2a6.3 6.3 0 1 0 12.6 0a6.3 6.3 0 1 0-12.6 0zM1963.7 1469.8a6.3 6.3 0 1 0 12.6 0a6.3 6.3 0 1 0-12.6 0zM1964.5 1470.5a6.3 6.3 0 1 0 12.6 0a6.3 6.3 0 1 0-12.6 0zM1965.2 1471.1a6.3 6.3 0 1 0 12.6 0a6.3 6.3 0 1 0-12.6 0zM1966 1471.6a6.3 6.3 0 1 0 12.6 0a6.3 6.3 0 1 0-12.6 0zM1966.7 1472.2a6.3 6.3 0 1 0 12.6 0a6.3 6.3 0 1 0-12.6 0zM1967.5 1472.7a6.3 6.3 0 1 0 12.6 0a6.3 6.3 0 1 0-12.6 0zM1968.2 1473.2a6.3 6.3 0 1 0 12.6 0a6.3 6.3 0 1 0-12.6 0zM1969 1473.6a6.3 6.3 0 1 0 12.6 0a6.3 6.3 0 1 0-12.6 0zM1969.7 1474a6.3 6.3 0 1 0 12.6 0a6.3 6.3 0 1 0-12.6 0zM1970.5 1474.4a6.3 6.3 0 1 0 12.6 0a6.3 6.3 0 1 0-12.6 0zM1971.2 1474.8a6.3 6.3 0 1 0 12.6 0a6.3 6.3 0 1 0-12.6 0zM1972 1475.1a6.3 6.3 0 1 0 12.6 0a6.3 6.3 0 1 0-12.6 0zM1972.7 1475.5a6.3 6.3 0 1 0 12.6 0a6.3 6.3 0 1 0-12.6 0zM1973.5 1475.8a6.3 6.3 0 1 0 12.6 0a6.3 6.3 0 1 0-12.6 0zM1974.2 1476.2a6.3 6.3 0 1 0 12.6 0a6.3 6.3 0 1 0-12.6 0zM1975 1476.5a6.3 6.3 0 1 0 12.6 0a6.3 6.3 0 1 0-12.6 0zM1975.7 1476.8a6.3 6.3 0 1 0 12.6 0a6.3 6.3 0 1 0-12.6 0zM1976.5 1477.1a6.3 6.3 0 1 0 12.6 0a6.3 6.3 0 1 0-12.6 0zM1977.2 1477.4a6.3 6.3 0 1 0 12.6 0a6.3 6.3 0 1 0-12.6 0zM1978 1477.7a6.3 6.3 0 1 0 12.6 0a6.3 6.3 0 1 0-12.6 0zM1978.7 1477.9a6.3 6.3 0 1 0 12.6 0a6.3 6.3 0 1 0-12.6 0zM1979.5 1478.2a6.3 6.3 0 1 0 12.6 0a6.3 6.3 0 1 0-12.6 0zM1980.2 1478.4a6.3 6.3 0 1 0 12.6 0a6.3 6.3 0 1 0-12.6 0zM1981 1478.6a6.3 6.3 0 1 0 12.6 0a6.3 6.3 0 1 0-12.6 0zM1981.7 1478.7a6.3 6.3 0 1 0 12.6 0a6.3 6.3 0 1 0-12.6 0zM1982.5 1478.8a6.3 6.3 0 1 0 12.6 0a6.3 6.3 0 1 0-12.6 0zM1983.2 1478.9a6.3 6.3 0 1 0 12.6 0a6.3 6.3 0 1 0-12.6 0zM1984 1479a6.3 6.3 0 1 0 12.6 0a6.3 6.3 0 1 0-12.6 0zM1984.7 1479.1a6.3 6.3 0 1 0 12.6 0a6.3 6.3 0 1 0-12.6 0zM1985.5 1479.2a6.3 6.3 0 1 0 12.6 0a6.3 6.3 0 1 0-12.6 0zM1986.2 1479.2a6.3 6.3 0 1 0 12.6 0a6.3 6.3 0 1 0-12.6 0zM1987 1479.3a6.3 6.3 0 1 0 12.6 0a6.3 6.3 0 1 0-12.6 0zM1987.7 1479.3a6.3 6.3 0 1 0 12.6 0a6.3 6.3 0 1 0-12.6 0zM1988.5 1479.4a6.3 6.3 0 1 0 12.6 0a6.3 6.3 0 1 0-12.6 0zM1989.2 1479.5a6.3 6.3 0 1 0 12.6 0a6.3 6.3 0 1 0-12.6 0zM1990 1479.5a6.3 6.3 0 1 0 12.6 0a6.3 6.3 0 1 0-12.6 0zM1990.7 1479.6a6.3 6.3 0 1 0 12.6 0a6.3 6.3 0 1 0-12.6 0zM1991.5 1479.6a6.3 6.3 0 1 0 12.6 0a6.3 6.3 0 1 0-12.6 0zM1992.2 1479.6a6.3 6.3 0 1 0 12.6 0a6.3 6.3 0 1 0-12.6 0zM1993 1479.7a6.3 6.3 0 1 0 12.6 0a6.3 6.3 0 1 0-12.6 0zM1993.7 1479.7a6.3 6.3 0 1 0 12.6 0a6.3 6.3 0 1 0-12.6 0zM1994.5 1479.8a6.3 6.3 0 1 0 12.6 0a6.3 6.3 0 1 0-12.6 0zM1995.2 1479.8a6.3 6.3 0 1 0 12.6 0a6.3 6.3 0 1 0-12.6 0zM1996 1479.8a6.3 6.3 0 1 0 12.6 0a6.3 6.3 0 1 0-12.6 0zM1996.7 1479.9a6.3 6.3 0 1 0 12.6 0a6.3 6.3 0 1 0-12.6 0zM1997.5 1479.9a6.3 6.3 0 1 0 12.6 0a6.3 6.3 0 1 0-12.6 0zM1998.2 1479.9a6.3 6.3 0 1 0 12.6 0a6.3 6.3 0 1 0-12.6 0zM1999 1479.9a6.3 6.3 0 1 0 12.6 0a6.3 6.3 0 1 0-12.6 0zM1999.7 1480a6.3 6.3 0 1 0 12.6 0a6.3 6.3 0 1 0-12.6 0zM2000.5 1480a6.3 6.3 0 1 0 12.6 0a6.3 6.3 0 1 0-12.6 0zM2001.2 1480a6.3 6.3 0 1 0 12.6 0a6.3 6.3 0 1 0-12.6 0z" fill="#ff3b3b" shape-rendering="crispEdges"/><path d="M237 1480 1400 1480 1400.8 1480 1401.5 1480 1402.2 1480 1403 1480 1403.8 1480 1404.5 1480 1405.2 1480 1406 1480 1406.8 1480 1407.5 1479.9 1408.2 1479.9 1409 1479.9 1409.8 1479.9 1410.5 1479.9 1411.2 1479.9 1412 1479.9 1412.8 1479.9 1413.5 1479.8 1414.2 1479.8 1415 1479.8 1415.8 1479.8 1416.5 1479.8 1417.2 1479.7 1418 1479.7 1418.8 1479.7 1419.5 1479.7 1420.2 1479.7 1421 1479.6 1421.8 1479.6 1422.5 1479.6 1423.2 1479.6 1424 1479.5 1424.8 1479.5 1425.5 1479.5 1426.2 1479.5 1427 1479.4 1427.8 1479.4 1428.5 1479.4 1429.2 1479.4 1430 1479.3 1430.8 1479.3 1431.5 1479.3 1432.2 1479.2 1433 1479.2 1433.8 1479.2 1434.5 1479.1 1435.2 1479.1 1436 1479.1 1436.8 1479.1 1437.5 1479 1438.2 1479 1439 1479 1439.8 1478.9 1440.5 1478.9 1441.2 1478.9 1442 1478.8 1442.8 1478.8 1443.5 1478.8 1444.2 1478.7 1445 1478.7 1445.8 1478.7 1446.5 1478.6 1447.2 1478.6 1448 1478.6 1448.8 1478.6 1449.5 1478.5 1450.2 1478.5 1451 1478.5 1451.8 1478.4 1452.5 1478.4 1453.2 1478.4 1454 1478.3 1454.8 1478.3 1455.5 1478.3 1456.2 1478.2 1457 1478.2 1457.8 1478.1 1458.5 1478.1 1459.2 1478.1 1460 1478 1460.8 1478 1461.5 1477.9 1462.2 1477.9 1463 1477.9 1463.8 1477.8 1464.5 1477.8 1465.2 1477.7 1466 1477.7 1466.8 1477.6 1467.5 1477.6 1468.2 1477.5 1469 1477.5 1469.8 1477.4 1470.5 1477.4 1471.2 1477.3 1472 1477.3 1472.8 1477.2 1473.5 1477.2 1474.2 1477.1 1475 1477.1 1475.8 1477 1476.5 1477 1477.2 1476.9 1478 1476.8 1478.8 1476.8 1479.5 1476.7 1480.2 1476.7 1481 1476.6 1481.8 1476.5 1482.5 1476.5 1483.2 1476.4 1484 1476.3 1484.8 1476.3 1485.5 1476.2 1486.2 1476.1 1487 1476 1487.8 1476 1488.5 1475.9 1489.2 1475.8 1490 1475.7 1490.8 1475.6 1491.5 1475.5 1492.2 1475.4 1493 1475.3 1493.8 1475.2 1494.5 1475.1 1495.2 1475.1 1496 1474.9 1496.8 1474.8 1497.5 1474.7 1498.2 1474.6 1499 1474.5 1499.8 1474.4 1500.5 1474.3 1501.2 1474.2 1502 1474.1 1502.8 1474 1503.5 1473.9 1504.2 1473.7 1505 1473.6 1505.8 1473.5 1506.5 1473.4 1507.2 1473.3 1508 1473.1 1508.8 1473 1509.5 1472.9 1510.2 1472.7 1511 1472.6 1511.8 1472.5 1512.5 1472.3 1513.2 1472.2 1514 1472.1 1514.8 1471.9 1515.5 1471.8 1516.2 1471.6 1517 1471.5 1517.8 1471.3 1518.5 1471.1 1519.2 1471 1520 1470.8 1520.8 1470.7 1521.5 1470.5 1522.2 1470.3 1523 1470.1 1523.8 1470 1524.5 1469.8 1525.2 1469.6 1526 1469.4 1526.8 1469.2 1527.5 1469 1528.2 1468.8 1529 1468.6 1529.8 1468.4 1530.5 1468.2 1531.2 1468 1532 1467.8 1532.8 1467.6 1533.5 1467.4 1534.2 1467.1 1535 1466.9 1535.8 1466.7 1536.5 1466.4 1537.2 1466.2 1538 1465.9 1538.8 1465.7 1539.5 1465.4 1540.2 1465.1 1541 1464.9 1541.8 1464.5 1542.5 1464.2 1543.2 1463.9 1544 1463.5 1544.8 1463.1 1545.5 1462.7 1546.2 1462.3 1547 1461.9 1547.8 1461.5 1548.5 1461.1 1549.2 1460.6 1550 1460.2 1550.8 1459.8 1551.5 1459.3 1552.2 1458.8 1553 1458.4 1553.8 1457.9 1554.5 1457.4 1555.2 1457 1556 1456.5 1556.8 1456 1557.5 1455.5 1558.2 1455.1 1559 1454.6 1559.8 1454.2 1560.5 1453.7 1561.2 1453.2 1562 1452.8 1562.8 1452.3 1563.5 1451.9 1564.2 1451.4 1565 1450.9 1565.8 1450.5 1566.5 1450 1567.2 1449.5 1568 1449 1568.8 1448.5 1569.5 1448 1570.2 1447.5 1571 1447 1571.8 1446.5 1572.5 1445.9 1573.2 1445.4 1574 1444.8 1574.8 1444.2 1575.5 1443.6 1576.2 1443 1577 1442.4 1577.8 1441.7 1578.5 1441 1579.2 1440.4 1580 1439.7 1580.8 1439 1581.5 1438.3 1582.2 1437.5 1583 1436.8 1583.8 1436 1584.5 1435.2 1585.2 1434.4 1586 1433.6 1586.8 1432.8 1587.5 1431.9 1588.2 1431.1 1589 1430.2 1589.8 1429.3 1590.5 1428.4 1591.2 1427.4 1592 1426.4 1592.8 1425.3 1593.5 1424.2 1594.2 1423 1595 1421.9 1595.8 1420.7 1596.5 1419.5 1597.2 1418.3 1598 1417.1 1598.8 1415.9 1599.5 1414.8 1600.2 1413.6 1601 1412.5 1601.8 1411.4 1602.5 1410.3 1603.2 1409.2 1604 1408.1 1604.8 1406.9 1605.5 1405.7 1606.2 1404.5 1607 1403.2 1607.8 1401.9 1608.5 1400.5 1609.2 1399 1610 1397.5 1610.8 1396 1611.5 1394.5 1612.2 1392.9 1613 1391.2 1613.8 1389.6 1614.5 1387.9 1615.2 1386.2 1616 1384.5 1616.8 1382.7 1617.5 1381 1618.2 1379.2 1619 1377.4 1619.8 1375.5 1620.5 1373.6 1621.2 1371.7 1622 1369.7 1622.8 1367.7 1623.5 1365.6 1624.2 1363.5 1625 1361.4 1625.8 1359.2 1626.5 1357 1627.2 1354.7 1628 1352.2 1628.8 1349.7 1629.5 1347.2 1630.2 1344.6 1631 1342 1631.8 1339.4 1632.5 1336.9 1633.2 1334.5 1634 1332.2 1634.8 1329.9 1635.5 1327.6 1636.2 1325.4 1637 1323.2 1637.8 1320.9 1638.5 1318.6 1639.2 1316.2 1640 1313.6 1640.8 1311 1641.5 1308.3 1642.2 1305.4 1643 1302.5 1643.8 1299.5 1644.5 1296.4 1645.2 1293.2 1646 1290 1646.8 1286.7 1647.5 1283.3 1648.2 1279.8 1649 1276.2 1649.8 1272.5 1650.5 1268.8 1651.2 1265.1 1652 1261.4 1652.8 1257.6 1653.5 1253.9 1654.2 1250.2 1655 1246.6 1655.8 1243 1656.5 1239.5 1657.2 1236.1 1658 1232.7 1658.8 1229.3 1659.5 1226 1660.2 1222.6 1661 1219.3 1661.8 1215.9 1662.5 1212.5 1663.2 1209.1 1664 1205.6 1664.8 1202 1665.5 1198.3 1666.2 1194.5 1667 1190.6 1667.8 1186.5 1668.5 1182.3 1669.2 1178 1670 1173.7 1670.8 1169.2 1671.5 1164.7 1672.2 1160.2 1673 1155.6 1673.8 1151 1674.5 1146.5 1675.2 1142 1676 1137.5 1676.8 1133 1677.5 1128.4 1678.2 1123.7 1679 1119.1 1679.8 1114.4 1680.5 1109.7 1681.2 1105.2 1682 1100.6 1682.8 1096.2 1683.5 1091.9 1684.2 1087.8 1685 1083.9 1685.8 1080.1 1686.5 1076.5 1687.2 1073 1688 1069.6 1688.8 1066.2 1689.5 1062.7 1690.2 1059.2 1691 1055.5 1691.8 1051.7 1692.5 1047.6 1693.2 1043.4 1694 1039 1694.8 1034.5 1695.5 1029.8 1696.2 1025 1697 1020.1 1697.8 1015 1698.5 1009.8 1699.2 1004.4 1700 998.6 1700.8 992.4 1701.5 985.9 1702.2 979.3 1703 972.7 1703.8 966.3 1704.5 960.2 1705.2 954.5 1706 949.3 1706.8 944.5 1707.5 940 1708.2 935.7 1709 931.6 1709.8 927.5 1710.5 923.4 1711.2 919.2 1712 915 1712.8 910.5 1713.5 905.7 1714.2 900.8 1715 895.8 1715.8 890.7 1716.5 885.4 1717.2 880 1718 874.5 1718.8 868.7 1719.5 862.8 1720.2 856.5 1721 849.8 1721.8 842.7 1722.5 835.5 1723.2 828.4 1724 821.4 1724.8 814.8 1725.5 808.4 1726.2 802 1727 795.7 1727.8 789.5 1728.5 783.5 1729.2 777.7 1730 772 1730.8 766.5 1731.5 761.2 1732.2 756 1733 750.9 1733.8 746 1734.5 741.1 1735.2 736.3 1736 731.7 1736.8 727.2 1737.5 722.9 1738.2 718.5 1739 714.2 1739.8 709.7 1740.5 705 1741.2 700 1742 694.9 1742.8 689.6 1743.5 684.3 1744.2 679 1745 673.7 1745.8 668.3 1746.5 662.8 1747.2 657 1748 650.7 1748.8 643.6 1749.5 636.2 1750.2 629.3 1751 623.6 1751.8 619.1 1752.5 615.1 1753.2 611.4 1754 607.9 1754.8 604.7 1755.5 601.7 1756.2 598.9 1757 596.3 1757.8 593.8 1758.5 591.3 1759.2 589 1760 586.7 1760.8 584.6 1761.5 582.5 1762.2 580.5 1763 578.6 1763.8 576.8 1764.5 575 1765.2 573.2 1766 571.5 1766.8 569.9 1767.5 568.2 1768.2 566.5 1769 564.9 1769.8 563.2 1770.5 561.5 1771.2 559.9 1772 558.2 1772.8 556.5 1773.5 554.9 1774.2 553.3 1775 551.7 1775.8 550.1 1776.5 548.6 1777.2 547.2 1778 545.9 1778.8 544.6 1779.5 543.4 1780.2 542.2 1781 541.2 1781.8 540.3 1782.5 539.5 1783.2 538.7 1784 537.9 1784.8 537.2 1785.5 536.6 1786.2 535.9 1787 535.3 1787.8 534.7 1788.5 534.2 1789.2 533.7 1790 533.2 1790.8 532.7 1791.5 532.3 1792.2 531.9 1793 531.4 1793.8 531 1794.5 530.5 1795.2 530.1 1796 529.7 1796.8 529.3 1797.5 529 1798.2 528.8 1799 528.6 1799.8 528.5 1800.5 528.5 1801.2 528.7 1802 528.9 1802.8 529.2 1803.5 529.6 1804.2 530 1805 530.4 1805.8 530.9 1806.5 531.3 1807.2 531.8 1808 532.4 1808.8 533.1 1809.5 533.8 1810.2 534.5 1811 535.1 1811.8 535.7 1812.5 536.2 1813.2 536.6 1814 536.9 1814.8 537.2 1815.5 537.5 1816.2 537.7 1817 537.9 1817.8 538.1 1818.5 538.4 1819.2 538.7 1820 539 1820.8 539.4 1821.5 539.8 1822.2 540.2 1823 540.6 1823.8 541.1 1824.5 541.7 1825.2 542.3 1826 543 1826.8 543.8 1827.5 544.8 1828.2 546 1829 547.3 1829.8 548.6 1830.5 550.1 1831.2 551.5 1832 553 1832.8 554.5 1833.5 556.2 1834.2 557.9 1835 559.8 1835.8 561.7 1836.5 563.6 1837.2 565.7 1838 568 1838.8 570.5 1839.5 573.1 1840.2 575.6 1841 578 1841.8 580.2 1842.5 582.3 1843.2 584.3 1844 586.3 1844.8 588.4 1845.5 590.6 1846.2 592.8 1847 595.1 1847.8 597.5 1848.5 599.9 1849.2 602.4 1850 605 1850.8 607.7 1851.5 610.4 1852.2 613.3 1853 616.3 1853.8 619.5 1854.5 622.9 1855.2 626.6 1856 630.4 1856.8 634.4 1857.5 638.6 1858.2 643 1859 647.6 1859.8 652.4 1860.5 657.3 1861.2 662.6 1862 668.5 1862.8 674.6 1863.5 681 1864.2 687.2 1865 693.2 1865.8 698.9 1866.5 704.3 1867.2 709.7 1868 715 1868.8 720.4 1869.5 726.1 1870.2 732 1871 738.2 1871.8 744.7 1872.5 751.3 1873.2 758.1 1874 765.1 1874.8 772.1 1875.5 779.3 1876.2 786.7 1877 794.4 1877.8 802.6 1878.5 811.4 1879.2 820.9 1880 830.7 1880.8 840.2 1881.5 849.1 1882.2 857.3 1883 865.2 1883.8 872.9 1884.5 880.6 1885.2 888.7 1886 896.9 1886.8 905.2 1887.5 913.8 1888.2 922.6 1889 931.9 1889.8 941.5 1890.5 951.3 1891.2 961.4 1892 972 1892.8 982.7 1893.5 992.7 1894.2 1001.9 1895 1010.5 1895.8 1018.8 1896.5 1026.8 1897.2 1034.7 1898 1042.1 1898.8 1049.4 1899.5 1056.7 1900.2 1064.4 1901 1072.6 1901.8 1081.1 1902.5 1089.9 1903.2 1098.9 1904 1108.3 1904.8 1118.3 1905.5 1128.4 1906.2 1138.5 1907 1148 1907.8 1156.8 1908.5 1165.2 1909.2 1173.4 1910 1182 1910.8 1191.2 1911.5 1201.4 1912.2 1212 1913 1222.1 1913.8 1230.9 1914.5 1238.9 1915.2 1246.3 1916 1253.4 1916.8 1260.6 1917.5 1268 1918.2 1275.7 1919 1283.5 1919.8 1291.1 1920.5 1298.4 1921.2 1305.2 1922 1311.6 1922.8 1317.7 1923.5 1323.6 1924.2 1329.4 1925 1335.2 1925.8 1341.1 1926.5 1347.3 1927.2 1353.7 1928 1360.1 1928.8 1366.4 1929.5 1372.4 1930.2 1377.7 1931 1382.4 1931.8 1386.3 1932.5 1389.8 1933.2 1393.3 1934 1397.1 1934.8 1401.6 1935.5 1406.9 1936.2 1412.7 1937 1418 1937.8 1423 1938.5 1427.9 1939.2 1432.4 1940 1436 1940.8 1438.8 1941.5 1441.3 1942.2 1443.5 1943 1445.5 1943.8 1447.4 1944.5 1449.2 1945.2 1450.9 1946 1452.6 1946.8 1454.2 1947.5 1455.6 1948.2 1457 1949 1458.4 1949.8 1459.6 1950.5 1460.8 1951.2 1461.9 1952 1463 1952.8 1464.1 1953.5 1465.1 1954.2 1466.1 1955 1467 1955.8 1467.8 1956.5 1468.6 1957.2 1469.3 1958 1470 1958.8 1470.6 1959.5 1471.2 1960.2 1471.8 1961 1472.3 1961.8 1472.8 1962.5 1473.3 1963.2 1473.8 1964 1474.2 1964.8 1474.6 1965.5 1475 1966.2 1475.3 1967 1475.6 1967.8 1475.9 1968.5 1476.2 1969.2 1476.4 1970 1476.6 1970.8 1476.8 1971.5 1477.1 1972.2 1477.3 1973 1477.5 1973.8 1477.7 1974.5 1477.9 1975.2 1478.1 1976 1478.2 1976.8 1478.4 1977.5 1478.6 1978.2 1478.7 1979 1478.8 1979.8 1479 1980.5 1479.1 1981.2 1479.2 1982 1479.3 1982.8 1479.3 1983.5 1479.4 1984.2 1479.5 1985 1479.5 1985.8 1479.5 1986.5 1479.6 1987.2 1479.6 1988 1479.6 1988.8 1479.6 1989.5 1479.7 1990.2 1479.7 1991 1479.7 1991.8 1479.7 1992.5 1479.7 1993.2 1479.8 1994 1479.8 1994.8 1479.8 1995.5 1479.8 1996.2 1479.8 1997 1479.9 1997.8 1479.9 1998.5 1479.9 1999.2 1479.9 2000 1479.9 2000.8 1479.9 2001.5 1479.9 2002.2 1479.9 2003 1480 2003.8 1480 2004.5 1480 2005.2 1480 2006 1480 2006.8 1480 2007.5 1480" stroke="#00ff00" stroke-width="3" fill="none" stroke-linejoin="round"/><path d="M237 1471.4l7.5 13h-15zM243.5 1471.4l7.5 13h-15zM250 1471.4l7.5 13h-15zM256.5 1471.4l7.5 13h-15zM263 1471.4l7.5 13h-15zM269.5 1471.4l7.5 13h-15zM276 1471.4l7.5 13h-15zM282.5 1471.4l7.5 13h-15zM289 1471.4l7.5 13h-15zM295.5 1471.4l7.5 13h-15zM302 1471.4l7.5 13h-15zM308.5 1471.4l7.5 13h-15zM315 1471.4l7.5 13h-15zM321.5 1471.4l7.5 13h-15zM328 1471.4l7.5 13h-15zM334.5 1471.4l7.5 13h-15zM341 1471.4l7.5 13h-15zM347.5 1471.4l7.5 13h-15zM354 1471.4l7.5 13h-15zM360.5 1471.4l7.5 13h-15zM367 1471.4l7.5 13h-15zM373.5 1471.4l7.5 13h-15zM380 1471.4l7.5 13h-15zM386.5 1471.4l7.5 13h-15zM393 1471.4l7.5 13h-15zM399.5 1471.4l7.5 13h-15zM406 1471.4l7.5 13h-15zM412.5 1471.4l7.5 13h-15zM419 1471.4l7.5 13h-15zM425.5 1471.4l7.5 13h-15zM432 1471.4l7.5 13h-15zM438.5 1471.4l7.5 13h-15zM445 1471.4l7.5 13h-15zM451.5 1471.4l7.5 13h-15zM458 1471.4l7.5 13h-15zM464.5 1471.4l7.5 13h-15zM471 1471.4l7.5 13h-15zM477.5 1471.4l7.5 13h-15zM484 1471.4l7.5 13h-15zM490.5 1471.4l7.5 13h-15zM497 1471.4l7.5 13h-15zM503.5 1471.4l7.5 13h-15zM510 1471.4l7.5 13h-15zM516.5 1471.4l7.5 13h-15zM523 1471.4l7.5 13h-15zM529.5 1471.4l7.5 13h-15zM536 1471.4l7.5 13h-15zM542.5 1471.4l7.5 13h-15zM549 1471.4l7.5 13h-15zM555.5 1471.4l7.5 13h-15zM562 1471.4l7.5 13h-15zM565 1471.4l7.5 13h-15zM568 1471.4l7.5 13h-15zM571 1471.4l7.5 13h-15zM574 1471.4l7.5 13h-15zM577 1471.4l7.5 13h-15zM580 1471.4l7.5 13h-15zM583 1471.4l7.5 13h-15zM586 1471.4l7.5 13h-15zM589 1471.4l7.5 13h-15zM592 1471.4l7.5 13h-15zM595 1471.4l7.5 13h-15zM596 1472H1400V1490H596zM1400 1471.4l7.5 13h-15zM1400.8 1471.4l7.5 13h-15zM1401.5 1471.4l7.5 13h-15zM1402.2 1471.4l7.5 13h-15zM1403 1471.4l7.5 13h-15zM1403.8 1471.4l7.5 13h-15zM1404.5 1471.4l7.5 13h-15zM1405.2 1471.4l7.5 13h-15zM1406 1471.4l7.5 13h-15zM1406.8 1471.4l7.5 13h-15zM1407.5 1471.3l7.5 13h-15zM1408.2 1471.3l7.5 13h-15zM1409 1471.3l7.5 13h-15zM1409.8 1471.3l7.5 13h-15zM1410.5 1471.3l7.5 13h-15zM1411.2 1471.3l7.5 13h-15zM1412 1471.3l7.5 13h-15zM1412.8 1471.3l7.5 13h-15zM1413.5 1471.2l7.5 13h-15zM1414.2 1471.2l7.5 13h-15zM1415 1471.2l7.5 13h-15zM1415.8 1471.2l7.5 13h-15zM1416.5 1471.2l7.5 13h-15zM1417.2 1471.1l7.5 13h-15zM1418 1471.1l7.5 13h-15zM1418.8 1471.1l7.5 13h-15zM1419.5 1471.1l7.5 13h-15zM1420.2 1471.1l7.5 13h-15zM1421 1471l7.5 13h-15zM1421.8 1471l7.5 13h-15zM1422.5 1471l7.5 13h-15zM1423.2 1471l7.5 13h-15zM1424 1470.9l7.5 13h-15zM1424.8 1470.9l7.5 13h-15zM1425.5 1470.9l7.5 13h-15zM1426.2 1470.9l7.5 13h-15zM1427 1470.8l7.5 13h-15zM1427.8 1470.8l7.5 13h-15zM1428.5 1470.8l7.5 13h-15zM1429.2 1470.8l7.5 13h-15zM1430 1470.7l7.5 13h-15zM1430.8 1470.7l7.5 13h-15zM1431.5 1470.7l7.5 13h-15zM1432.2 1470.6l7.5 13h-15zM1433 1470.6l7.5 13h-15zM1433.8 1470.6l7.5 13h-15zM1434.5 1470.5l7.5 13h-15zM1435.2 1470.5l7.5 13h-15zM1436 1470.5l7.5 13h-15zM1436.8 1470.5l7.5 13h-15zM1437.5 1470.4l7.5 13h-15zM1438.2 1470.4l7.5 13h-15zM1439 1470.4l7.5 13h-15zM1439.8 1470.3l7.5 13h-15zM1440.5 1470.3l7.5 13h-15zM1441.2 1470.3l7.5 13h-15zM1442 1470.2l7.5 13h-15zM1442.8 1470.2l7.5 13h-15zM1443.5 1470.2l7.5 13h-15zM1444.2 1470.1l7.5 13h-15zM1445 1470.1l7.5 13h-15zM1445.8 1470.1l7.5 13h-15zM1446.5 1470l7.5 13h-15zM1447.2 1470l7.5 13h-15zM1448 1470l7.5 13h-15zM1448.8 1470l7.5 13h-15zM1449.5 1469.9l7.5 13h-15zM1450.2 1469.9l7.5 13h-15zM1451 1469.9l7.5 13h-15zM1451.8 1469.8l7.5 13h-15zM1452.5 1469.8l7.5 13h-15zM1453.2 1469.8l7.5 13h-15zM1454 1469.7l7.5 13h-15zM1454.8 1469.7l7.5 13h-15zM1455.5 1469.7l7.5 13h-15zM1456.2 1469.6l7.5 13h-15zM1457 1469.6l7.5 13h-15zM1457.8 1469.5l7.5 13h-15zM1458.5 1469.5l7.5 13h-15zM1459.2 1469.5l7.5 13h-15zM1460 1469.4l7.5 13h-15zM1460.8 1469.4l7.5 13h-15zM1461.5 1469.3l7.5 13h-15zM1462.2 1469.3l7.5 13h-15zM1463 1469.3l7.5 13h-15zM1463.8 1469.2l7.5 13h-15zM1464.5 1469.2l7.5 13h-15zM1465.2 1469.1l7.5 13h-15zM1466 1469.1l7.5 13h-15zM1466.8 1469l7.5 13h-15zM1467.5 1469l7.5 13h-15zM1468.2 1468.9l7.5 13h-15zM1469 1468.9l7.5 13h-15zM1469.8 1468.8l7.5 13h-15zM1470.5 1468.8l7.5 13h-15zM1471.2 1468.7l7.5 13h-15zM1472 1468.7l7.5 13h-15zM1472.8 1468.6l7.5 13h-15zM1473.5 1468.6l7.5 13h-15zM1474.2 1468.5l7.5 13h-15zM1475 1468.5l7.5 13h-15zM1475.8 1468.4l7.5 13h-15zM1476.5 1468.4l7.5 13h-15zM1477.2 1468.3l7.5 13h-15zM1478 1468.2l7.5 13h-15zM1478.8 1468.2l7.5 13h-15zM1479.5 1468.1l7.5 13h-15zM1480.2 1468.1l7.5 13h-15zM1481 1468l7.5 13h-15zM1481.8 1467.9l7.5 13h-15zM1482.5 1467.9l7.5 13h-15zM1483.2 1467.8l7.5 13h-15zM1484 1467.7l7.5 13h-15zM1484.8 1467.7l7.5 13h-15zM1485.5 1467.6l7.5 13h-15zM1486.2 1467.5l7.5 13h-15zM1487 1467.4l7.5 13h-15zM1487.8 1467.4l7.5 13h-15zM1488.5 1467.3l7.5 13h-15zM1489.2 1467.2l7.5 13h-15zM1490 1467.1l7.5 13h-15zM1490.8 1467l7.5 13h-15zM1491.5 1466.9l7.5 13h-15zM1492.2 1466.8l7.5 13h-15zM1493 1466.7l7.5 13h-15zM1493.8 1466.6l7.5 13h-15zM1494.5 1466.5l7.5 13h-15zM1495.2 1466.5l7.5 13h-15zM1496 1466.3l7.5 13h-15zM1496.8 1466.2l7.5 13h-15zM1497.5 1466.1l7.5 13h-15zM1498.2 1466l7.5 13h-15zM1499 1465.9l7.5 13h-15zM1499.8 1465.8l7.5 13h-15zM1500.5 1465.7l7.5 13h-15zM1501.2 1465.6l7.5 13h-15zM1502 1465.5l7.5 13h-15zM1502.8 1465.4l7.5 13h-15zM1503.5 1465.3l7.5 13h-15zM1504.2 1465.1l7.5 13h-15zM1505 1465l7.5 13h-15zM1505.8 1464.9l7.5 13h-15zM1506.5 1464.8l7.5 13h-15zM1507.2 1464.7l7.5 13h-15zM1508 1464.5l7.5 13h-15zM1508.8 1464.4l7.5 13h-15zM1509.5 1464.3l7.5 13h-15zM1510.2 1464.1l7.5 13h-15zM1511 1464l7.5 13h-15zM1511.8 1463.9l7.5 13h-15zM1512.5 1463.7l7.5 13h-15zM1513.2 1463.6l7.5 13h-15zM1514 1463.5l7.5 13h-15zM1514.8 1463.3l7.5 13h-15zM1515.5 1463.2l7.5 13h-15zM1516.2 1463l7.5 13h-15zM1517 1462.9l7.5 13h-15zM1517.8 1462.7l7.5 13h-15zM1518.5 1462.5l7.5 13h-15zM1519.2 1462.4l7.5 13h-15zM1520 1462.2l7.5 13h-15zM1520.8 1462.1l7.5 13h-15zM1521.5 1461.9l7.5 13h-15zM1522.2 1461.7l7.5 13h-15zM1523 1461.5l7.5 13h-15zM1523.8 1461.4l7.5 13h-15zM1524.5 1461.2l7.5 13h-15zM1525.2 1461l7.5 13h-15zM1526 1460.8l7.5 13h-15zM1526.8 1460.6l7.5 13h-15zM1527.5 1460.4l7.5 13h-15zM1528.2 1460.2l7.5 13h-15zM1529 1460l7.5 13h-15zM1529.8 1459.8l7.5 13h-15zM1530.5 1459.6l7.5 13h-15zM1531.2 1459.4l7.5 13h-15zM1532 1459.2l7.5 13h-15zM1532.8 1459l7.5 13h-15zM1533.5 1458.8l7.5 13h-15zM1534.2 1458.5l7.5 13h-15zM1535 1458.3l7.5 13h-15zM1535.8 1458.1l7.5 13h-15zM1536.5 1457.8l7.5 13h-15zM1537.2 1457.6l7.5 13h-15zM1538 1457.3l7.5 13h-15zM1538.8 1457.1l7.5 13h-15zM1539.5 1456.8l7.5 13h-15zM1540.2 1456.5l7.5 13h-15zM1541 1456.3l7.5 13h-15zM1541.8 1455.9l7.5 13h-15zM1542.5 1455.6l7.5 13h-15zM1543.2 1455.3l7.5 13h-15zM1544 1454.9l7.5 13h-15zM1544.8 1454.5l7.5 13h-15zM1545.5 1454.1l7.5 13h-15zM1546.2 1453.7l7.5 13h-15zM1547 1453.3l7.5 13h-15zM1547.8 1452.9l7.5 13h-15zM1548.5 1452.5l7.5 13h-15zM1549.2 1452l7.5 13h-15zM1550 1451.6l7.5 13h-15zM1550.8 1451.2l7.5 13h-15zM1551.5 1450.7l7.5 13h-15zM1552.2 1450.2l7.5 13h-15zM1553 1449.8l7.5 13h-15zM1553.8 1449.3l7.5 13h-15zM1554.5 1448.8l7.5 13h-15zM1555.2 1448.4l7.5 13h-15zM1556 1447.9l7.5 13h-15zM1556.8 1447.4l7.5 13h-15zM1557.5 1446.9l7.5 13h-15zM1558.2 1446.5l7.5 13h-15zM1559 1446l7.5 13h-15zM1559.8 1445.6l7.5 13h-15zM1560.5 1445.1l7.5 13h-15zM1561.2 1444.6l7.5 13h-15zM1562 1444.2l7.5 13h-15zM1562.8 1443.7l7.5 13h-15zM1563.5 1443.3l7.5 13h-15zM1564.2 1442.8l7.5 13h-15zM1565 1442.3l7.5 13h-15zM1565.8 1441.9l7.5 13h-15zM1566.5 1441.4l7.5 13h-15zM1567.2 1440.9l7.5 13h-15zM1568 1440.4l7.5 13h-15zM1568.8 1439.9l7.5 13h-15zM1569.5 1439.4l7.5 13h-15zM1570.2 1438.9l7.5 13h-15zM1571 1438.4l7.5 13h-15zM1571.8 1437.9l7.5 13h-15zM1572.5 1437.3l7.5 13h-15zM1573.2 1436.8l7.5 13h-15zM1574 1436.2l7.5 13h-15zM1574.8 1435.6l7.5 13h-15zM1575.5 1435l7.5 13h-15zM1576.2 1434.4l7.5 13h-15zM1577 1433.8l7.5 13h-15zM1577.8 1433.1l7.5 13h-15zM1578.5 1432.4l7.5 13h-15zM1579.2 1431.8l7.5 13h-15zM1580 1431.1l7.5 13h-15zM1580.8 1430.4l7.5 13h-15zM1581.5 1429.7l7.5 13h-15zM1582.2 1428.9l7.5 13h-15zM1583 1428.2l7.5 13h-15zM1583.8 1427.4l7.5 13h-15zM1584.5 1426.6l7.5 13h-15zM1585.2 1425.8l7.5 13h-15zM1586 1425l7.5 13h-15zM1586.8 1424.2l7.5 13h-15zM1587.5 1423.3l7.5 13h-15zM1588.2 1422.5l7.5 13h-15zM1589 1421.6l7.5 13h-15zM1589.8 1420.7l7.5 13h-15zM1590.5 1419.8l7.5 13h-15zM1591.2 1418.8l7.5 13h-15zM1592 1417.8l7.5 13h-15zM1592.8 1416.7l7.5 13h-15zM1593.5 1415.6l7.5 13h-15zM1594.2 1414.4l7.5 13h-15zM1595 1413.3l7.5 13h-15zM1595.8 1412.1l7.5 13h-15zM1596.5 1410.9l7.5 13h-15zM1597.2 1409.7l7.5 13h-15zM1598 1408.5l7.5 13h-15zM1598.8 1407.3l7.5 13h-15zM1599.5 1406.2l7.5 13h-15zM1600.2 1405l7.5 13h-15zM1601 1403.9l7.5 13h-15zM1601.8 1402.8l7.5 13h-15zM1602.5 1401.7l7.5 13h-15zM1603.2 1400.6l7.5 13h-15zM1604 1399.5l7.5 13h-15zM1604.8 1398.3l7.5 13h-15zM1605.5 1397.1l7.5 13h-15zM1606.2 1395.9l7.5 13h-15zM1607 1394.6l7.5 13h-15zM1607.8 1393.3l7.5 13h-15zM1608.5 1391.9l7.5 13h-15zM1609.2 1390.4l7.5 13h-15zM1610 1388.9l7.5 13h-15zM1610.8 1387.4l7.5 13h-15zM1611.5 1385.9l7.5 13h-15zM1612.2 1384.3l7.5 13h-15zM1613 1382.6l7.5 13h-15zM1613.8 1381l7.5 13h-15zM1614.5 1379.3l7.5 13h-15zM1615.2 1377.6l7.5 13h-15zM1616 1375.9l7.5 13h-15zM1616.8 1374.1l7.5 13h-15zM1617.5 1372.4l7.5 13h-15zM1618.2 1370.6l7.5 13h-15zM1619 1368.8l7.5 13h-15zM1619.8 1366.9l7.5 13h-15zM1620.5 1365l7.5 13h-15zM1621.2 1363.1l7.5 13h-15zM1622 1361.1l7.5 13h-15zM1622.8 1359.1l7.5 13h-15zM1623.5 1357l7.5 13h-15zM1624.2 1354.9l7.5 13h-15zM1625 1352.8l7.5 13h-15zM1625.8 1350.6l7.5 13h-15zM1626.5 1348.4l7.5 13h-15zM1627.2 1346.1l7.5 13h-15zM1628 1343.6l7.5 13h-15zM1628.8 1341.1l7.5 13h-15zM1629.5 1338.6l7.5 13h-15zM1630.2 1336l7.5 13h-15zM1631 1333.4l7.5 13h-15zM1631.8 1330.8l7.5 13h-15zM1632.5 1328.3l7.5 13h-15zM1633.2 1325.9l7.5 13h-15zM1634 1323.6l7.5 13h-15zM1634.8 1321.3l7.5 13h-15zM1635.5 1319l7.5 13h-15zM1636.2 1316.8l7.5 13h-15zM1637 1314.6l7.5 13h-15zM1637.8 1312.3l7.5 13h-15zM1638.5 1310l7.5 13h-15zM1639.2 1307.6l7.5 13h-15zM1640 1305l7.5 13h-15zM1640.8 1302.4l7.5 13h-15zM1641.5 1299.7l7.5 13h-15zM1642.2 1296.8l7.5 13h-15zM1643 1293.9l7.5 13h-15zM1643.8 1290.9l7.5 13h-15zM1644.5 1287.8l7.5 13h-15zM1645.2 1284.6l7.5 13h-15zM1646 1281.4l7.5 13h-15zM1646.8 1278.1l7.5 13h-15zM1647.5 1274.7l7.5 13h-15zM1648.2 1271.2l7.5 13h-15zM1649 1267.6l7.5 13h-15zM1649.8 1263.9l7.5 13h-15zM1650.5 1260.2l7.5 13h-15zM1651.2 1256.5l7.5 13h-15zM1652 1252.8l7.5 13h-15zM1652.8 1249l7.5 13h-15zM1653.5 1245.3l7.5 13h-15zM1654.2 1241.6l7.5 13h-15zM1655 1238l7.5 13h-15zM1655.8 1234.4l7.5 13h-15zM1656.5 1230.9l7.5 13h-15zM1657.2 1227.5l7.5 13h-15zM1658 1224.1l7.5 13h-15zM1658.8 1220.7l7.5 13h-15zM1659.5 1217.4l7.5 13h-15zM1660.2 1214l7.5 13h-15zM1661 1210.7l7.5 13h-15zM1661.8 1207.3l7.5 13h-15zM1662.5 1203.9l7.5 13h-15zM1663.2 1200.5l7.5 13h-15zM1664 1197l7.5 13h-15zM1664.8 1193.4l7.5 13h-15zM1665.5 1189.7l7.5 13h-15zM1666.2 1185.9l7.5 13h-15zM1667 1182l7.5 13h-15zM1667.8 1177.9l7.5 13h-15zM1668.5 1173.7l7.5 13h-15zM1669.2 1169.4l7.5 13h-15zM1670 1165.1l7.5 13h-15zM1670.8 1160.6l7.5 13h-15zM1671.5 1156.1l7.5 13h-15zM1672.2 1151.6l7.5 13h-15zM1673 1147l7.5 13h-15zM1673.8 1142.4l7.5 13h-15zM1674.5 1137.9l7.5 13h-15zM1675.2 1133.4l7.5 13h-15zM1676 1128.9l7.5 13h-15zM1676.8 1124.4l7.5 13h-15zM1677.5 1119.8l7.5 13h-15zM1678.2 1115.1l7.5 13h-15zM1679 1110.5l7.5 13h-15zM1679.8 1105.8l7.5 13h-15zM1680.5 1101.1l7.5 13h-15zM1681.2 1096.6l7.5 13h-15zM1682 1092l7.5 13h-15zM1682.8 1087.6l7.5 13h-15zM1683.5 1083.3l7.5 13h-15zM1684.2 1079.2l7.5 13h-15zM1685 1075.3l7.5 13h-15zM1685.8 1071.5l7.5 13h-15zM1686.5 1067.9l7.5 13h-15zM1687.2 1064.4l7.5 13h-15zM1688 1061l7.5 13h-15zM1688.8 1057.6l7.5 13h-15zM1689.5 1054.1l7.5 13h-15zM1690.2 1050.6l7.5 13h-15zM1691 1046.9l7.5 13h-15zM1691.8 1043.1l7.5 13h-15zM1692.5 1039l7.5 13h-15zM1693.2 1034.8l7.5 13h-15zM1694 1030.4l7.5 13h-15zM1694.8 1025.9l7.5 13h-15zM1695.5 1021.2l7.5 13h-15zM1696.2 1016.4l7.5 13h-15zM1697 1011.5l7.5 13h-15zM1697.8 1006.4l7.5 13h-15zM1698.5 1001.2l7.5 13h-15zM1699.2 995.8l7.5 13h-15zM1700 990l7.5 13h-15zM1700.8 983.8l7.5 13h-15zM1701.5 977.3l7.5 13h-15zM1702.2 970.7l7.5 13h-15zM1703 964.1l7.5 13h-15zM1703.8 957.7l7.5 13h-15zM1704.5 951.6l7.5 13h-15zM1705.2 945.9l7.5 13h-15zM1706 940.7l7.5 13h-15zM1706.8 935.9l7.5 13h-15zM1707.5 931.4l7.5 13h-15zM1708.2 927.1l7.5 13h-15zM1709 923l7.5 13h-15zM1709.8 918.9l7.5 13h-15zM1710.5 914.8l7.5 13h-15zM1711.2 910.6l7.5 13h-15zM1712 906.4l7.5 13h-15zM1712.8 901.9l7.5 13h-15zM1713.5 897.1l7.5 13h-15zM1714.2 892.2l7.5 13h-15zM1715 887.2l7.5 13h-15zM1715.8 882.1l7.5 13h-15zM1716.5 876.8l7.5 13h-15zM1717.2 871.4l7.5 13h-15zM1718 865.9l7.5 13h-15zM1718.8 860.1l7.5 13h-15zM1719.5 854.2l7.5 13h-15zM1720.2 847.9l7.5 13h-15zM1721 841.2l7.5 13h-15zM1721.8 834.1l7.5 13h-15zM1722.5 826.9l7.5 13h-15zM1723.2 819.8l7.5 13h-15zM1724 812.8l7.5 13h-15zM1724.8 806.2l7.5 13h-15zM1725.5 799.8l7.5 13h-15zM1726.2 793.4l7.5 13h-15zM1727 787.1l7.5 13h-15zM1727.8 780.9l7.5 13h-15zM1728.5 774.9l7.5 13h-15zM1729.2 769.1l7.5 13h-15zM1730 763.4l7.5 13h-15zM1730.8 757.9l7.5 13h-15zM1731.5 752.6l7.5 13h-15zM1732.2 747.4l7.5 13h-15zM1733 742.3l7.5 13h-15zM1733.8 737.4l7.5 13h-15zM1734.5 732.5l7.5 13h-15zM1735.2 727.7l7.5 13h-15zM1736 723.1l7.5 13h-15zM1736.8 718.6l7.5 13h-15zM1737.5 714.3l7.5 13h-15zM1738.2 709.9l7.5 13h-15zM1739 705.6l7.5 13h-15zM1739.8 701.1l7.5 13h-15zM1740.5 696.4l7.5 13h-15zM1741.2 691.4l7.5 13h-15zM1742 686.3l7.5 13h-15zM1742.8 681l7.5 13h-15zM1743.5 675.7l7.5 13h-15zM1744.2 670.4l7.5 13h-15zM1745 665.1l7.5 13h-15zM1745.8 659.7l7.5 13h-15zM1746.5 654.2l7.5 13h-15zM1747.2 648.4l7.5 13h-15zM1748 642.1l7.5 13h-15zM1748.8 635l7.5 13h-15zM1749.5 627.6l7.5 13h-15zM1750.2 620.7l7.5 13h-15zM1751 615l7.5 13h-15zM1751.8 610.5l7.5 13h-15zM1752.5 606.5l7.5 13h-15zM1753.2 602.8l7.5 13h-15zM1754 599.3l7.5 13h-15zM1754.8 596.1l7.5 13h-15zM1755.5 593.1l7.5 13h-15zM1756.2 590.3l7.5 13h-15zM1757 587.7l7.5 13h-15zM1757.8 585.2l7.5 13h-15zM1758.5 582.7l7.5 13h-15zM1759.2 580.4l7.5 13h-15zM1760 578.1l7.5 13h-15zM1760.8 576l7.5 13h-15zM1761.5 573.9l7.5 13h-15zM1762.2 571.9l7.5 13h-15zM1763 570l7.5 13h-15zM1763.8 568.2l7.5 13h-15zM1764.5 566.4l7.5 13h-15zM1765.2 564.6l7.5 13h-15zM1766 562.9l7.5 13h-15zM1766.8 561.3l7.5 13h-15zM1767.5 559.6l7.5 13h-15zM1768.2 557.9l7.5 13h-15zM1769 556.3l7.5 13h-15zM1769.8 554.6l7.5 13h-15zM1770.5 552.9l7.5 13h-15zM1771.2 551.3l7.5 13h-15zM1772 549.6l7.5 13h-15zM1772.8 547.9l7.5 13h-15zM1773.5 546.3l7.5 13h-15zM1774.2 544.7l7.5 13h-15zM1775 543.1l7.5 13h-15zM1775.8 541.5l7.5 13h-15zM1776.5 540l7.5 13h-15zM1777.2 538.6l7.5 13h-15zM1778 537.3l7.5 13h-15zM1778.8 536l7.5 13h-15zM1779.5 534.8l7.5 13h-15zM1780.2 533.6l7.5 13h-15zM1781 532.6l7.5 13h-15zM1781.8 531.7l7.5 13h-15zM1782.5 530.9l7.5 13h-15zM1783.2 530.1l7.5 13h-15zM1784 529.3l7.5 13h-15zM1784.8 528.6l7.5 13h-15zM1785.5 528l7.5 13h-15zM1786.2 527.3l7.5 13h-15zM1787 526.7l7.5 13h-15zM1787.8 526.1l7.5 13h-15zM1788.5 525.6l7.5 13h-15zM1789.2 525.1l7.5 13h-15zM1790 524.6l7.5 13h-15zM1790.8 524.1l7.5 13h-15zM1791.5 523.7l7.5 13h-15zM1792.2 523.3l7.5 13h-15zM1793 522.8l7.5 13h-15zM1793.8 522.4l7.5 13h-15zM1794.5 521.9l7.5 13h-15zM1795.2 521.5l7.5 13h-15zM1796 521.1l7.5 13h-15zM1796.8 520.7l7.5 13h-15zM1797.5 520.4l7.5 13h-15zM1798.2 520.2l7.5 13h-15zM1799 520l7.5 13h-15zM1799.8 519.9l7.5 13h-15zM1800.5 519.9l7.5 13h-15zM1801.2 520.1l7.5 13h-15zM1802 520.3l7.5 13h-15zM1802.8 520.6l7.5 13h-15zM1803.5 521l7.5 13h-15zM1804.2 521.4l7.5 13h-15zM1805 521.8l7.5 13h-15zM1805.8 522.3l7.5 13h-15zM1806.5 522.7l7.5 13h-15zM1807.2 523.2l7.5 13h-15zM1808 523.8l7.5 13h-15zM1808.8 524.5l7.5 13h-15zM1809.5 525.2l7.5 13h-15zM1810.2 525.9l7.5 13h-15zM1811 526.5l7.5 13h-15zM1811.8 527.1l7.5 13h-15zM1812.5 527.6l7.5 13h-15zM1813.2 528l7.5 13h-15zM1814 528.3l7.5 13h-15zM1814.8 528.6l7.5 13h-15zM1815.5 528.9l7.5 13h-15zM1816.2 529.1l7.5 13h-15zM1817 529.3l7.5 13h-15zM1817.8 529.5l7.5 13h-15zM1818.5 529.8l7.5 13h-15zM1819.2 530.1l7.5 13h-15zM1820 530.4l7.5 13h-15zM1820.8 530.8l7.5 13h-15zM1821.5 531.2l7.5 13h-15zM1822.2 531.6l7.5 13h-15zM1823 532l7.5 13h-15zM1823.8 532.5l7.5 13h-15zM1824.5 533.1l7.5 13h-15zM1825.2 533.7l7.5 13h-15zM1826 534.4l7.5 13h-15zM1826.8 535.2l7.5 13h-15zM1827.5 536.2l7.5 13h-15zM1828.2 537.4l7.5 13h-15zM1829 538.7l7.5 13h-15zM1829.8 540l7.5 13h-15zM1830.5 541.5l7.5 13h-15zM1831.2 542.9l7.5 13h-15zM1832 544.4l7.5 13h-15zM1832.8 545.9l7.5 13h-15zM1833.5 547.6l7.5 13h-15zM1834.2 549.3l7.5 13h-15zM1835 551.2l7.5 13h-15zM1835.8 553.1l7.5 13h-15zM1836.5 555l7.5 13h-15zM1837.2 557.1l7.5 13h-15zM1838 559.4l7.5 13h-15zM1838.8 561.9l7.5 13h-15zM1839.5 564.5l7.5 13h-15zM1840.2 567l7.5 13h-15zM1841 569.4l7.5 13h-15zM1841.8 571.6l7.5 13h-15zM1842.5 573.7l7.5 13h-15zM1843.2 575.7l7.5 13h-15zM1844 577.7l7.5 13h-15zM1844.8 579.8l7.5 13h-15zM1845.5 582l7.5 13h-15zM1846.2 584.2l7.5 13h-15zM1847 586.5l7.5 13h-15zM1847.8 588.9l7.5 13h-15zM1848.5 591.3l7.5 13h-15zM1849.2 593.8l7.5 13h-15zM1850 596.4l7.5 13h-15zM1850.8 599.1l7.5 13h-15zM1851.5 601.8l7.5 13h-15zM1852.2 604.7l7.5 13h-15zM1853 607.7l7.5 13h-15zM1853.8 610.9l7.5 13h-15zM1854.5 614.3l7.5 13h-15zM1855.2 618l7.5 13h-15zM1856 621.8l7.5 13h-15zM1856.8 625.8l7.5 13h-15zM1857.5 630l7.5 13h-15zM1858.2 634.4l7.5 13h-15zM1859 639l7.5 13h-15zM1859.8 643.8l7.5 13h-15zM1860.5 648.7l7.5 13h-15zM1861.2 654l7.5 13h-15zM1862 659.9l7.5 13h-15zM1862.8 666l7.5 13h-15zM1863.5 672.4l7.5 13h-15zM1864.2 678.6l7.5 13h-15zM1865 684.6l7.5 13h-15zM1865.8 690.3l7.5 13h-15zM1866.5 695.7l7.5 13h-15zM1867.2 701.1l7.5 13h-15zM1868 706.4l7.5 13h-15zM1868.8 711.8l7.5 13h-15zM1869.5 717.5l7.5 13h-15zM1870.2 723.4l7.5 13h-15zM1871 729.6l7.5 13h-15zM1871.8 736.1l7.5 13h-15zM1872.5 742.7l7.5 13h-15zM1873.2 749.5l7.5 13h-15zM1874 756.5l7.5 13h-15zM1874.8 763.5l7.5 13h-15zM1875.5 770.7l7.5 13h-15zM1876.2 778.1l7.5 13h-15zM1877 785.8l7.5 13h-15zM1877.8 794l7.5 13h-15zM1878.5 802.8l7.5 13h-15zM1879.2 812.3l7.5 13h-15zM1880 822.1l7.5 13h-15zM1880.8 831.6l7.5 13h-15zM1881.5 840.5l7.5 13h-15zM1882.2 848.7l7.5 13h-15zM1883 856.6l7.5 13h-15zM1883.8 864.3l7.5 13h-15zM1884.5 872l7.5 13h-15zM1885.2 880.1l7.5 13h-15zM1886 888.3l7.5 13h-15zM1886.8 896.6l7.5 13h-15zM1887.5 905.2l7.5 13h-15zM1888.2 914l7.5 13h-15zM1889 923.3l7.5 13h-15zM1889.8 932.9l7.5 13h-15zM1890.5 942.7l7.5 13h-15zM1891.2 952.8l7.5 13h-15zM1892 963.4l7.5 13h-15zM1892.8 974.1l7.5 13h-15zM1893.5 984.1l7.5 13h-15zM1894.2 993.3l7.5 13h-15zM1895 1001.9l7.5 13h-15zM1895.8 1010.2l7.5 13h-15zM1896.5 1018.2l7.5 13h-15zM1897.2 1026.1l7.5 13h-15zM1898 1033.5l7.5 13h-15zM1898.8 1040.8l7.5 13h-15zM1899.5 1048.1l7.5 13h-15zM1900.2 1055.8l7.5 13h-15zM1901 1064l7.5 13h-15zM1901.8 1072.5l7.5 13h-15zM1902.5 1081.3l7.5 13h-15zM1903.2 1090.3l7.5 13h-15zM1904 1099.7l7.5 13h-15zM1904.8 1109.7l7.5 13h-15zM1905.5 1119.8l7.5 13h-15zM1906.2 1129.9l7.5 13h-15zM1907 1139.4l7.5 13h-15zM1907.8 1148.2l7.5 13h-15zM1908.5 1156.6l7.5 13h-15zM1909.2 1164.8l7.5 13h-15zM1910 1173.4l7.5 13h-15zM1910.8 1182.6l7.5 13h-15zM1911.5 1192.8l7.5 13h-15zM1912.2 1203.4l7.5 13h-15zM1913 1213.5l7.5 13h-15zM1913.8 1222.3l7.5 13h-15zM1914.5 1230.3l7.5 13h-15zM1915.2 1237.7l7.5 13h-15zM1916 1244.8l7.5 13h-15zM1916.8 1252l7.5 13h-15zM1917.5 1259.4l7.5 13h-15zM1918.2 1267.1l7.5 13h-15zM1919 1274.9l7.5 13h-15zM1919.8 1282.5l7.5 13h-15zM1920.5 1289.8l7.5 13h-15zM1921.2 1296.6l7.5 13h-15zM1922 1303l7.5 13h-15zM1922.8 1309.1l7.5 13h-15zM1923.5 1315l7.5 13h-15zM1924.2 1320.8l7.5 13h-15zM1925 1326.6l7.5 13h-15zM1925.8 1332.5l7.5 13h-15zM1926.5 1338.7l7.5 13h-15zM1927.2 1345.1l7.5 13h-15zM1928 1351.5l7.5 13h-15zM1928.8 1357.8l7.5 13h-15zM1929.5 1363.8l7.5 13h-15zM1930.2 1369.1l7.5 13h-15zM1931 1373.8l7.5 13h-15zM1931.8 1377.7l7.5 13h-15zM1932.5 1381.2l7.5 13h-15zM1933.2 1384.7l7.5 13h-15zM1934 1388.5l7.5 13h-15zM1934.8 1393l7.5 13h-15zM1935.5 1398.3l7.5 13h-15zM1936.2 1404.1l7.5 13h-15zM1937 1409.4l7.5 13h-15zM1937.8 1414.4l7.5 13h-15zM1938.5 1419.3l7.5 13h-15zM1939.2 1423.8l7.5 13h-15zM1940 1427.4l7.5 13h-15zM1940.8 1430.2l7.5 13h-15zM1941.5 1432.7l7.5 13h-15zM1942.2 1434.9l7.5 13h-15zM1943 1436.9l7.5 13h-15zM1943.8 1438.8l7.5 13h-15zM1944.5 1440.6l7.5 13h-15zM1945.2 1442.3l7.5 13h-15zM1946 1444l7.5 13h-15zM1946.8 1445.6l7.5 13h-15zM1947.5 1447l7.5 13h-15zM1948.2 1448.4l7.5 13h-15zM1949 1449.8l7.5 13h-15zM1949.8 1451l7.5 13h-15zM1950.5 1452.2l7.5 13h-15zM1951.2 1453.3l7.5 13h-15zM1952 1454.4l7.5 13h-15zM1952.8 1455.5l7.5 13h-15zM1953.5 1456.5l7.5 13h-15zM1954.2 1457.5l7.5 13h-15zM1955 1458.4l7.5 13h-15zM1955.8 1459.2l7.5 13h-15zM1956.5 1460l7.5 13h-15zM1957.2 1460.7l7.5 13h-15zM1958 1461.4l7.5 13h-15zM1958.8 1462l7.5 13h-15zM1959.5 1462.6l7.5 13h-15zM1960.2 1463.2l7.5 13h-15zM1961 1463.7l7.5 13h-15zM1961.8 1464.2l7.5 13h-15zM1962.5 1464.7l7.5 13h-15zM1963.2 1465.2l7.5 13h-15zM1964 1465.6l7.5 13h-15zM1964.8 1466l7.5 13h-15zM1965.5 1466.4l7.5 13h-15zM1966.2 1466.7l7.5 13h-15zM1967 1467l7.5 13h-15zM1967.8 1467.3l7.5 13h-15zM1968.5 1467.6l7.5 13h-15zM1969.2 1467.8l7.5 13h-15zM1970 1468l7.5 13h-15zM1970.8 1468.2l7.5 13h-15zM1971.5 1468.5l7.5 13h-15zM1972.2 1468.7l7.5 13h-15zM1973 1468.9l7.5 13h-15zM1973.8 1469.1l7.5 13h-15zM1974.5 1469.3l7.5 13h-15zM1975.2 1469.5l7.5 13h-15zM1976 1469.6l7.5 13h-15zM1976.8 1469.8l7.5 13h-15zM1977.5 1470l7.5 13h-15zM1978.2 1470.1l7.5 13h-15zM1979 1470.2l7.5 13h-15zM1979.8 1470.4l7.5 13h-15zM1980.5 1470.5l7.5 13h-15zM1981.2 1470.6l7.5 13h-15zM1982 1470.7l7.5 13h-15zM1982.8 1470.7l7.5 13h-15zM1983.5 1470.8l7.5 13h-15zM1984.2 1470.9l7.5 13h-15zM1985 1470.9l7.5 13h-15zM1985.8 1470.9l7.5 13h-15zM1986.5 1471l7.5 13h-15zM1987.2 1471l7.5 13h-15zM1988 1471l7.5 13h-15zM1988.8 1471l7.5 13h-15zM1989.5 1471.1l7.5 13h-15zM1990.2 1471.1l7.5 13h-15zM1991 1471.1l7.5 13h-15zM1991.8 1471.1l7.5 13h-15zM1992.5 1471.1l7.5 13h-15zM1993.2 1471.2l7.5 13h-15zM1994 1471.2l7.5 13h-15zM1994.8 1471.2l7.5 13h-15zM1995.5 1471.2l7.5 13h-15zM1996.2 1471.2l7.5 13h-15zM1997 1471.3l7.5 13h-15zM1997.8 1471.3l7.5 13h-15zM1998.5 1471.3l7.5 13h-15zM1999.2 1471.3l7.5 13h-15zM2000 1471.3l7.5 13h-15zM2000.8 1471.3l7.5 13h-15zM2001.5 1471.3l7.5 13h-15zM2002.2 1471.3l7.5 13h-15zM2003 1471.4l7.5 13h-15zM2003.8 1471.4l7.5 13h-15zM2004.5 1471.4l7.5 13h-15zM2005.2 1471.4l7.5 13h-15zM2006 1471.4l7.5 13h-15zM2006.8 1471.4l7.5 13h-15zM2007.5 1471.4l7.5 13h-15z" fill="#006be3" shape-rendering="crispEdges"/><path d="M237 1480 1400 1480 1401.5 1480 1403 1480 1404.5 1479.9 1406 1479.9 1407.5 1479.8 1409 1479.7 1410.5 1479.6 1412 1479.5 1413.5 1479.4 1415 1479.3 1416.5 1479.2 1418 1479.1 1419.5 1479 1421 1478.9 1422.5 1478.8 1424 1478.7 1425.5 1478.6 1427 1478.5 1428.5 1478.4 1430 1478.2 1431.5 1478.1 1433 1477.9 1434.5 1477.7 1436 1477.4 1437.5 1477.2 1439 1476.9 1440.5 1476.5 1442 1476.1 1443.5 1475.7 1445 1475 1446.5 1474.2 1448 1473.4 1449.5 1472.5 1451 1471.7 1452.5 1471.1 1454 1470.4 1455.5 1469.8 1457 1469.2 1458.5 1468.6 1460 1468 1461.5 1467.4 1463 1466.8 1464.5 1466.2 1466 1465.7 1467.5 1465.2 1469 1464.7 1470.5 1464.2 1472 1463.8 1473.5 1463.4 1475 1463 1476.5 1462.6 1478 1462.2 1479.5 1461.7 1481 1461.1 1482.5 1460.5 1484 1459.9 1485.5 1459.2 1487 1458.5 1488.5 1457.8 1490 1457 1491.5 1455.9 1493 1454.6 1494.5 1453.1 1496 1451.5 1497.5 1450 1499 1448.3 1500.5 1446.6 1502 1444.8 1503.5 1443.1 1505 1441.3 1506.5 1439.4 1508 1437.3 1509.5 1434.9 1511 1432.4 1512.5 1429.8 1514 1427.4 1515.5 1424.9 1517 1422.5 1518.5 1420.3 1520 1418.1 1521.5 1416 1523 1414 1524.5 1412.2 1526 1410.6 1527.5 1408.7 1529 1406.3 1530.5 1403.1 1532 1399.5 1533.5 1395.7 1535 1391.6 1536.5 1387.3 1538 1383 1539.5 1379.1 1541 1375.4 1542.5 1371.5 1544 1367 1545.5 1361.5 1547 1355.2 1548.5 1348.5 1550 1342 1551.5 1336.1 1553 1330.6 1554.5 1325.2 1556 1319.8 1557.5 1314.1 1559 1307.9 1560.5 1301.1 1562 1294 1563.5 1286.7 1565 1279.7 1566.5 1272.9 1568 1266.3 1569.5 1259.5 1571 1252.4 1572.5 1244.8 1574 1236.1 1575.5 1226.4 1577 1216.2 1578.5 1206.1 1580 1196.6 1581.5 1188.3 1583 1180.5 1584.5 1173.1 1586 1165.9 1587.5 1159 1589 1152.1 1590.5 1145.3 1592 1138.4 1593.5 1131.6 1595 1124.9 1596.5 1118.4 1598 1111.9 1599.5 1105.3 1601 1098.6 1602.5 1091.7 1604 1084.6 1605.5 1077.3 1607 1069.8 1608.5 1062.1 1610 1054.1 1611.5 1045.9 1613 1037.3 1614.5 1028.4 1616 1019.2 1617.5 1010 1619 1001 1620.5 992 1622 982.6 1623.5 972.2 1625 959.8 1626.5 945.5 1628 932.4 1629.5 921.2 1631 910.7 1632.5 900.2 1634 889.3 1635.5 878.4 1637 867.3 1638.5 855.6 1640 843.1 1641.5 831 1643 820.8 1644.5 812 1646 803.9 1647.5 795.7 1649 787 1650.5 777.8 1652 768.4 1653.5 759 1655 749.7 1656.5 740.3 1658 731.1 1659.5 722.1 1661 713.6 1662.5 705.7 1664 696.9 1665.5 686.7 1667 676.1 1668.5 666 1670 655.7 1671.5 645.9 1673 637.5 1674.5 630.5 1676 624.3 1677.5 618.6 1679 613.5 1680.5 608.8 1682 604.6 1683.5 600.6 1685 596.8 1686.5 593.4 1688 590.2 1689.5 586.9 1691 583.2 1692.5 579.1 1694 574.7 1695.5 570.1 1697 565.3 1698.5 560.4 1700 555.3 1701.5 549.9 1703 544.4 1704.5 538.9 1705.9 533.4 1707.4 528 1708.8 522.7 1710.2 517.3 1711.7 512 1713.1 506.8 1714.4 501.9 1715.8 497.1 1717.2 492.2 1718.6 487.8 1719.9 484.2 1721.2 481.4 1722.6 479 1723.9 477.1 1725.2 475.9 1726.5 475.1 1727.7 474.4 1729 473.8 1730.3 473.5 1731.5 473.5 1732.8 473.5 1734 473.6 1735.2 473.7 1736.4 473.9 1737.6 474.2 1738.8 475.3 1740 477.1 1741.1 479.3 1742.3 482.7 1743.4 487.4 1744.6 493 1745.7 500.3 1746.8 508.3 1747.9 515.9 1749 523.4 1750.1 530.9 1751.2 538.4 1752.3 546 1753.3 553.4 1754.4 560.9 1755.4 568.5 1756.5 576.4 1757.5 584.5 1758.5 592.8 1759.5 601.7 1760.5 611.7 1761.5 623.2 1762.5 635 1763.5 645.6 1764.5 655.2 1765.5 665.1 1766.5 676.5 1767.5 689.6 1768.5 703.6 1769.5 719.2 1770.5 735.6 1771.5 750.6 1772.5 763 1773.5 773.9 1774.5 784.7 1775.5 797 1776.5 810.9 1777.5 825.1 1778.5 838.5 1779.5 850.2 1780.5 860.6 1781.5 870.3 1782.5 879.7 1783.5 889.4 1784.5 899.6 1785.5 910.3 1786.5 921.4 1787.5 932.6 1788.5 943.7 1789.5 954.7 1790.5 965.4 1791.5 976.1 1792.5 986.7 1793.5 997.5 1794.5 1008.1 1795.5 1019.6 1796.5 1034.3 1797.5 1048.1 1798.5 1058 1799.5 1066.4 1800.5 1074 1801.5 1081.3 1802.5 1088.9 1803.5 1096.8 1804.5 1104.6 1805.5 1111.9 1806.5 1118.6 1807.5 1124.8 1808.5 1130.7 1809.5 1136.5 1810.5 1142.3 1811.5 1148.4 1812.5 1154.5 1813.5 1160.5 1814.5 1165.8 1815.5 1170.4 1816.5 1174.6 1817.5 1178.4 1818.5 1182 1819.5 1185.3 1820.5 1188.4 1821.5 1191.4 1822.5 1194.3 1823.5 1197.1 1824.5 1199.8 1825.5 1202.3 1826.5 1204.7 1827.5 1207 1828.5 1209.1 1829.5 1211.1 1830.5 1212.9 1831.5 1214.7 1832.5 1216.4 1833.5 1218 1834.5 1219.5 1835.5 1221 1836.5 1222.5 1837.5 1224 1838.5 1225.5 1839.5 1227.1 1840.5 1228.6 1841.5 1230.1 1842.5 1231.6 1843.5 1233.1 1844.5 1234.6 1845.5 1236.1 1846.5 1237.6 1847.5 1239 1848.5 1240.5 1849.5 1242.1 1850.5 1243.6 1851.5 1245.1 1852.5 1246.6 1853.5 1248.2 1854.5 1249.7 1855.5 1251.3 1856.5 1252.9 1857.5 1254.5 1858.5 1256.2 1859.5 1258 1860.5 1259.7 1861.5 1261.5 1862.5 1263.3 1863.5 1265.1 1864.5 1267 1865.5 1268.9 1866.5 1270.8 1867.5 1272.8 1868.5 1274.9 1869.5 1277 1870.5 1279.1 1871.5 1281.4 1872.5 1283.7 1873.5 1286.1 1874.5 1288.7 1875.5 1291.4 1876.5 1294.4 1877.5 1297.4 1878.5 1300.6 1879.5 1303.9 1880.5 1307.1 1881.5 1310.4 1882.5 1313.7 1883.5 1316.9 1884.5 1320 1885.5 1323 1886.5 1326 1887.5 1328.9 1888.5 1331.7 1889.5 1334.5 1890.5 1337.4 1891.5 1340.2 1892.5 1343 1893.5 1345.8 1894.5 1348.6 1895.5 1351.4 1896.5 1354.3 1897.5 1357.2 1898.5 1360.1 1899.5 1363.2 1900.5 1366.2 1901.5 1369.3 1902.5 1372.5 1903.5 1375.6 1904.5 1378.8 1905.5 1382 1906.5 1385.2 1907.5 1388.3 1908.5 1391.5 1909.5 1394.5 1910.5 1397.6 1911.5 1400.5 1912.5 1403.6 1913.5 1406.6 1914.5 1409.7 1915.5 1412.8 1916.5 1415.8 1917.5 1418.8 1918.5 1421.8 1919.5 1424.7 1920.5 1427.4 1921.5 1430.1 1922.5 1432.6 1923.5 1434.9 1924.5 1437.1 1925.5 1439.1 1926.5 1440.9 1927.5 1442.6 1928.5 1444.2 1929.5 1445.8 1930.5 1447.3 1931.5 1448.9 1932.5 1450.4 1933.5 1452.1 1934.5 1453.8 1935.5 1455.6 1936.5 1457.5 1937.5 1459.3 1938.5 1461.1 1939.5 1462.9 1940.5 1464.6 1941.5 1466.1 1942.5 1467.5 1943.5 1468.6 1944.5 1469.7 1945.5 1470.8 1946.5 1471.8 1947.5 1472.8 1948.5 1473.7 1949.5 1474.4 1950.5 1475.2 1951.5 1475.8 1952.5 1476.3 1953.5 1476.8 1954.5 1477.2 1955.5 1477.7 1956.5 1478.1 1957.5 1478.5 1958.5 1478.8 1959.5 1479.1 1960.5 1479.3 1961.5 1479.5 1962.5 1479.5 1963.5 1479.6 1964.5 1479.7 1965.5 1479.7 1966.5 1479.8 1967.5 1479.8 1968.5 1479.9 1969.5 1479.9 1970.5 1479.9 1971.5 1480 1972.5 1480 1973.5 1480 1974.5 1480 1975.5 1480 1976.5 1480 1977.5 1480 1978.5 1480 1979.5 1480 1980.5 1480 1981.5 1480 1982.5 1480 1983.5 1480 1984.5 1480 1985.5 1480 1986.5 1480 1987.5 1480 1988.5 1480 1989.5 1480 1990.5 1480 1991.5 1480 1992.5 1480 1993.5 1480 1994.5 1480 1995.5 1480 1996.5 1480 1997.5 1480 1998.5 1480 1999.5 1480 2000.5 1480 2001.5 1480 2002.5 1480 2003.5 1480 2004.5 1480 2005.5 1480 2006.5 1480 2007.5 1480" stroke="#0000ff" stroke-width="3" fill="none" stroke-linejoin="round"/><path d="M1392.5 1474.6h15l-7.5 12.9zM1394 1474.6h15l-7.5 12.9zM1395.5 1474.6h15l-7.5 12.9zM1397 1474.5h15l-7.5 12.9zM1398.5 1474.5h15l-7.5 12.9zM1400 1474.4h15l-7.5 12.9zM1401.5 1474.3h15l-7.5 12.9zM1403 1474.2h15l-7.5 12.9zM1404.5 1474.1h15l-7.5 12.9zM1406 1474h15l-7.5 12.9zM1407.5 1473.9h15l-7.5 12.9zM1409 1473.8h15l-7.5 12.9zM1410.5 1473.7h15l-7.5 12.9zM1412 1473.6h15l-7.5 12.9zM1413.5 1473.5h15l-7.5 12.9zM1415 1473.4h15l-7.5 12.9zM1416.5 1473.3h15l-7.5 12.9zM1418 1473.2h15l-7.5 12.9zM1419.5 1473.1h15l-7.5 12.9zM1421 1473h15l-7.5 12.9zM1422.5 1472.8h15l-7.5 12.9zM1424 1472.7h15l-7.5 12.9zM1425.5 1472.5h15l-7.5 12.9zM1427 1472.3h15l-7.5 12.9zM1428.5 1472h15l-7.5 12.9zM1430 1471.8h15l-7.5 12.9zM1431.5 1471.5h15l-7.5 12.9zM1433 1471.1h15l-7.5 12.9zM1434.5 1470.7h15l-7.5 12.9zM1436 1470.3h15l-7.5 12.9zM1437.5 1469.6h15l-7.5 12.9zM1439 1468.8h15l-7.5 12.9zM1440.5 1468h15l-7.5 12.9zM1442 1467.1h15l-7.5 12.9zM1443.5 1466.3h15l-7.5 12.9zM1445 1465.7h15l-7.5 12.9zM1446.5 1465h15l-7.5 12.9zM1448 1464.4h15l-7.5 12.9zM1449.5 1463.8h15l-7.5 12.9zM1451 1463.2h15l-7.5 12.9zM1452.5 1462.6h15l-7.5 12.9zM1454 1462h15l-7.5 12.9zM1455.5 1461.4h15l-7.5 12.9zM1457 1460.8h15l-7.5 12.9zM1458.5 1460.3h15l-7.5 12.9zM1460 1459.8h15l-7.5 12.9zM1461.5 1459.3h15l-7.5 12.9zM1463 1458.8h15l-7.5 12.9zM1464.5 1458.4h15l-7.5 12.9zM1466 1458h15l-7.5 12.9zM1467.5 1457.6h15l-7.5 12.9zM1469 1457.2h15l-7.5 12.9zM1470.5 1456.8h15l-7.5 12.9zM1472 1456.3h15l-7.5 12.9zM1473.5 1455.7h15l-7.5 12.9zM1475 1455.1h15l-7.5 12.9zM1476.5 1454.5h15l-7.5 12.9zM1478 1453.8h15l-7.5 12.9zM1479.5 1453.1h15l-7.5 12.9zM1481 1452.4h15l-7.5 12.9zM1482.5 1451.6h15l-7.5 12.9zM1484 1450.5h15l-7.5 12.9zM1485.5 1449.2h15l-7.5 12.9zM1487 1447.7h15l-7.5 12.9zM1488.5 1446.1h15l-7.5 12.9zM1490 1444.6h15l-7.5 12.9zM1491.5 1442.9h15l-7.5 12.9zM1493 1441.2h15l-7.5 12.9zM1494.5 1439.4h15l-7.5 12.9zM1496 1437.7h15l-7.5 12.9zM1497.5 1435.9h15l-7.5 12.9zM1499 1434h15l-7.5 12.9zM1500.5 1431.9h15l-7.5 12.9zM1502 1429.5h15l-7.5 12.9zM1503.5 1427h15l-7.5 12.9zM1505 1424.4h15l-7.5 12.9zM1506.5 1422h15l-7.5 12.9zM1508 1419.5h15l-7.5 12.9zM1509.5 1417.1h15l-7.5 12.9zM1511 1414.9h15l-7.5 12.9zM1512.5 1412.7h15l-7.5 12.9zM1514 1410.6h15l-7.5 12.9zM1515.5 1408.6h15l-7.5 12.9zM1517 1406.8h15l-7.5 12.9zM1518.5 1405.2h15l-7.5 12.9zM1520 1403.3h15l-7.5 12.9zM1521.5 1400.9h15l-7.5 12.9zM1523 1397.7h15l-7.5 12.9zM1524.5 1394.1h15l-7.5 12.9zM1526 1390.3h15l-7.5 12.9zM1527.5 1386.2h15l-7.5 12.9zM1529 1381.9h15l-7.5 12.9zM1530.5 1377.6h15l-7.5 12.9zM1532 1373.7h15l-7.5 12.9zM1533.5 1370h15l-7.5 12.9zM1535 1366.1h15l-7.5 12.9zM1536.5 1361.6h15l-7.5 12.9zM1538 1356.1h15l-7.5 12.9zM1539.5 1349.8h15l-7.5 12.9zM1541 1343.1h15l-7.5 12.9zM1542.5 1336.6h15l-7.5 12.9zM1544 1330.7h15l-7.5 12.9zM1545.5 1325.2h15l-7.5 12.9zM1547 1319.8h15l-7.5 12.9zM1548.5 1314.4h15l-7.5 12.9zM1550 1308.7h15l-7.5 12.9zM1551.5 1302.5h15l-7.5 12.9zM1553 1295.7h15l-7.5 12.9zM1554.5 1288.6h15l-7.5 12.9zM1556 1281.3h15l-7.5 12.9zM1557.5 1274.3h15l-7.5 12.9zM1559 1267.5h15l-7.5 12.9zM1560.5 1260.9h15l-7.5 12.9zM1562 1254.1h15l-7.5 12.9zM1563.5 1247h15l-7.5 12.9zM1565 1239.4h15l-7.5 12.9zM1566.5 1230.7h15l-7.5 12.9zM1568 1221h15l-7.5 12.9zM1569.5 1210.8h15l-7.5 12.9zM1571 1200.7h15l-7.5 12.9zM1572.5 1191.2h15l-7.5 12.9zM1574 1182.9h15l-7.5 12.9zM1575.5 1175.1h15l-7.5 12.9zM1577 1167.7h15l-7.5 12.9zM1578.5 1160.5h15l-7.5 12.9zM1580 1153.6h15l-7.5 12.9zM1581.5 1146.7h15l-7.5 12.9zM1583 1139.9h15l-7.5 12.9zM1584.5 1133h15l-7.5 12.9zM1586 1126.2h15l-7.5 12.9zM1587.5 1119.5h15l-7.5 12.9zM1589 1113h15l-7.5 12.9zM1590.5 1106.5h15l-7.5 12.9zM1592 1099.9h15l-7.5 12.9zM1593.5 1093.2h15l-7.5 12.9zM1595 1086.3h15l-7.5 12.9zM1596.5 1079.2h15l-7.5 12.9zM1598 1071.9h15l-7.5 12.9zM1599.5 1064.4h15l-7.5 12.9zM1601 1056.7h15l-7.5 12.9zM1602.5 1048.7h15l-7.5 12.9zM1604 1040.5h15l-7.5 12.9zM1605.5 1031.9h15l-7.5 12.9zM1607 1023h15l-7.5 12.9zM1608.5 1013.8h15l-7.5 12.9zM1610 1004.6h15l-7.5 12.9zM1611.5 995.6h15l-7.5 12.9zM1613 986.6h15l-7.5 12.9zM1614.5 977.2h15l-7.5 12.9zM1616 966.8h15l-7.5 12.9zM1617.5 954.4h15l-7.5 12.9zM1619 940.1h15l-7.5 12.9zM1620.5 927h15l-7.5 12.9zM1622 915.8h15l-7.5 12.9zM1623.5 905.3h15l-7.5 12.9zM1625 894.8h15l-7.5 12.9zM1626.5 883.9h15l-7.5 12.9zM1628 873h15l-7.5 12.9zM1629.5 861.9h15l-7.5 12.9zM1631 850.2h15l-7.5 12.9zM1632.5 837.7h15l-7.5 12.9zM1634 825.6h15l-7.5 12.9zM1635.5 815.4h15l-7.5 12.9zM1637 806.6h15l-7.5 12.9zM1638.5 798.5h15l-7.5 12.9zM1640 790.3h15l-7.5 12.9zM1641.5 781.6h15l-7.5 12.9zM1643 772.4h15l-7.5 12.9zM1644.5 763h15l-7.5 12.9zM1646 753.6h15l-7.5 12.9zM1647.5 744.3h15l-7.5 12.9zM1649 734.9h15l-7.5 12.9zM1650.5 725.7h15l-7.5 12.9zM1652 716.7h15l-7.5 12.9zM1653.5 708.2h15l-7.5 12.9zM1655 700.3h15l-7.5 12.9zM1656.5 691.5h15l-7.5 12.9zM1658 681.3h15l-7.5 12.9zM1659.5 670.7h15l-7.5 12.9zM1661 660.6h15l-7.5 12.9zM1662.5 650.3h15l-7.5 12.9zM1664 640.5h15l-7.5 12.9zM1665.5 632.1h15l-7.5 12.9zM1667 625.1h15l-7.5 12.9zM1668.5 618.9h15l-7.5 12.9zM1670 613.2h15l-7.5 12.9zM1671.5 608.1h15l-7.5 12.9zM1673 603.4h15l-7.5 12.9zM1674.5 599.2h15l-7.5 12.9zM1676 595.2h15l-7.5 12.9zM1677.5 591.4h15l-7.5 12.9zM1679 588h15l-7.5 12.9zM1680.5 584.8h15l-7.5 12.9zM1682 581.5h15l-7.5 12.9zM1683.5 577.8h15l-7.5 12.9zM1685 573.7h15l-7.5 12.9zM1686.5 569.3h15l-7.5 12.9zM1688 564.7h15l-7.5 12.9zM1689.5 559.9h15l-7.5 12.9zM1691 555h15l-7.5 12.9zM1692.5 549.9h15l-7.5 12.9zM1694 544.5h15l-7.5 12.9zM1695.5 539h15l-7.5 12.9zM1697 533.5h15l-7.5 12.9zM1698.4 528h15l-7.5 12.9zM1699.9 522.6h15l-7.5 12.9zM1701.3 517.3h15l-7.5 12.9zM1702.7 511.9h15l-7.5 12.9zM1704.2 506.6h15l-7.5 12.9zM1705.6 501.4h15l-7.5 12.9zM1706.9 496.5h15l-7.5 12.9zM1708.3 491.7h15l-7.5 12.9zM1709.7 486.8h15l-7.5 12.9zM1711.1 482.4h15l-7.5 12.9zM1712.4 478.8h15l-7.5 12.9zM1713.7 476h15l-7.5 12.9zM1715.1 473.6h15l-7.5 12.9zM1716.4 471.7h15l-7.5 12.9zM1717.7 470.5h15l-7.5 12.9zM1719 469.7h15l-7.5 12.9zM1720.2 469h15l-7.5 12.9zM1721.5 468.4h15l-7.5 12.9zM1722.8 468.1h15l-7.5 12.9zM1724 468.1h15l-7.5 12.9zM1725.3 468.1h15l-7.5 12.9zM1726.5 468.2h15l-7.5 12.9zM1727.7 468.3h15l-7.5 12.9zM1728.9 468.5h15l-7.5 12.9zM1730.1 468.8h15l-7.5 12.9zM1731.3 469.9h15l-7.5 12.9zM1732.5 471.7h15l-7.5 12.9zM1733.6 473.9h15l-7.5 12.9zM1734.8 477.3h15l-7.5 12.9zM1735.9 482h15l-7.5 12.9zM1737.1 487.6h15l-7.5 12.9zM1738.2 494.9h15l-7.5 12.9zM1739.3 502.9h15l-7.5 12.9zM1740.4 510.5h15l-7.5 12.9zM1741.5 518h15l-7.5 12.9zM1742.6 525.5h15l-7.5 12.9zM1743.7 533h15l-7.5 12.9zM1744.8 540.6h15l-7.5 12.9zM1745.8 548h15l-7.5 12.9zM1746.9 555.5h15l-7.5 12.9zM1747.9 563.1h15l-7.5 12.9zM1749 571h15l-7.5 12.9zM1750 579.1h15l-7.5 12.9zM1751 587.4h15l-7.5 12.9zM1752 596.3h15l-7.5 12.9zM1753 606.3h15l-7.5 12.9zM1754 617.8h15l-7.5 12.9zM1755 629.6h15l-7.5 12.9zM1756 640.2h15l-7.5 12.9zM1757 649.8h15l-7.5 12.9zM1758 659.7h15l-7.5 12.9zM1759 671.1h15l-7.5 12.9zM1760 684.2h15l-7.5 12.9zM1761 698.2h15l-7.5 12.9zM1762 713.8h15l-7.5 12.9zM1763 730.2h15l-7.5 12.9zM1764 745.2h15l-7.5 12.9zM1765 757.6h15l-7.5 12.9zM1766 768.5h15l-7.5 12.9zM1767 779.3h15l-7.5 12.9zM1768 791.6h15l-7.5 12.9zM1769 805.5h15l-7.5 12.9zM1770 819.7h15l-7.5 12.9zM1771 833.1h15l-7.5 12.9zM1772 844.8h15l-7.5 12.9zM1773 855.2h15l-7.5 12.9zM1774 864.9h15l-7.5 12.9zM1775 874.3h15l-7.5 12.9zM1776 884h15l-7.5 12.9zM1777 894.2h15l-7.5 12.9zM1778 904.9h15l-7.5 12.9zM1779 916h15l-7.5 12.9zM1780 927.2h15l-7.5 12.9zM1781 938.3h15l-7.5 12.9zM1782 949.3h15l-7.5 12.9zM1783 960h15l-7.5 12.9zM1784 970.7h15l-7.5 12.9zM1785 981.3h15l-7.5 12.9zM1786 992.1h15l-7.5 12.9zM1787 1002.7h15l-7.5 12.9zM1788 1014.2h15l-7.5 12.9zM1789 1028.9h15l-7.5 12.9zM1790 1042.7h15l-7.5 12.9zM1791 1052.6h15l-7.5 12.9zM1792 1061h15l-7.5 12.9zM1793 1068.6h15l-7.5 12.9zM1794 1075.9h15l-7.5 12.9zM1795 1083.5h15l-7.5 12.9zM1796 1091.4h15l-7.5 12.9zM1797 1099.2h15l-7.5 12.9zM1798 1106.5h15l-7.5 12.9zM1799 1113.2h15l-7.5 12.9zM1800 1119.4h15l-7.5 12.9zM1801 1125.3h15l-7.5 12.9zM1802 1131.1h15l-7.5 12.9zM1803 1136.9h15l-7.5 12.9zM1804 1143h15l-7.5 12.9zM1805 1149.1h15l-7.5 12.9zM1806 1155.1h15l-7.5 12.9zM1807 1160.4h15l-7.5 12.9zM1808 1165h15l-7.5 12.9zM1809 1169.2h15l-7.5 12.9zM1810 1173h15l-7.5 12.9zM1811 1176.6h15l-7.5 12.9zM1812 1179.9h15l-7.5 12.9zM1813 1183h15l-7.5 12.9zM1814 1186h15l-7.5 12.9zM1815 1188.9h15l-7.5 12.9zM1816 1191.7h15l-7.5 12.9zM1817 1194.4h15l-7.5 12.9zM1818 1196.9h15l-7.5 12.9zM1819 1199.3h15l-7.5 12.9zM1820 1201.6h15l-7.5 12.9zM1821 1203.7h15l-7.5 12.9zM1822 1205.7h15l-7.5 12.9zM1823 1207.5h15l-7.5 12.9zM1824 1209.3h15l-7.5 12.9zM1825 1211h15l-7.5 12.9zM1826 1212.6h15l-7.5 12.9zM1827 1214.1h15l-7.5 12.9zM1828 1215.6h15l-7.5 12.9zM1829 1217.1h15l-7.5 12.9zM1830 1218.6h15l-7.5 12.9zM1831 1220.1h15l-7.5 12.9zM1832 1221.7h15l-7.5 12.9zM1833 1223.2h15l-7.5 12.9zM1834 1224.7h15l-7.5 12.9zM1835 1226.2h15l-7.5 12.9zM1836 1227.7h15l-7.5 12.9zM1837 1229.2h15l-7.5 12.9zM1838 1230.7h15l-7.5 12.9zM1839 1232.2h15l-7.5 12.9zM1840 1233.6h15l-7.5 12.9zM1841 1235.1h15l-7.5 12.9zM1842 1236.7h15l-7.5 12.9zM1843 1238.2h15l-7.5 12.9zM1844 1239.7h15l-7.5 12.9zM1845 1241.2h15l-7.5 12.9zM1846 1242.8h15l-7.5 12.9zM1847 1244.3h15l-7.5 12.9zM1848 1245.9h15l-7.5 12.9zM1849 1247.5h15l-7.5 12.9zM1850 1249.1h15l-7.5 12.9zM1851 1250.8h15l-7.5 12.9zM1852 1252.6h15l-7.5 12.9zM1853 1254.3h15l-7.5 12.9zM1854 1256.1h15l-7.5 12.9zM1855 1257.9h15l-7.5 12.9zM1856 1259.7h15l-7.5 12.9zM1857 1261.6h15l-7.5 12.9zM1858 1263.5h15l-7.5 12.9zM1859 1265.4h15l-7.5 12.9zM1860 1267.4h15l-7.5 12.9zM1861 1269.5h15l-7.5 12.9zM1862 1271.6h15l-7.5 12.9zM1863 1273.7h15l-7.5 12.9zM1864 1276h15l-7.5 12.9zM1865 1278.3h15l-7.5 12.9zM1866 1280.7h15l-7.5 12.9zM1867 1283.3h15l-7.5 12.9zM1868 1286h15l-7.5 12.9zM1869 1289h15l-7.5 12.9zM1870 1292h15l-7.5 12.9zM1871 1295.2h15l-7.5 12.9zM1872 1298.5h15l-7.5 12.9zM1873 1301.7h15l-7.5 12.9zM1874 1305h15l-7.5 12.9zM1875 1308.3h15l-7.5 12.9zM1876 1311.5h15l-7.5 12.9zM1877 1314.6h15l-7.5 12.9zM1878 1317.6h15l-7.5 12.9zM1879 1320.6h15l-7.5 12.9zM1880 1323.5h15l-7.5 12.9zM1881 1326.3h15l-7.5 12.9zM1882 1329.1h15l-7.5 12.9zM1883 1332h15l-7.5 12.9zM1884 1334.8h15l-7.5 12.9zM1885 1337.6h15l-7.5 12.9zM1886 1340.4h15l-7.5 12.9zM1887 1343.2h15l-7.5 12.9zM1888 1346h15l-7.5 12.9zM1889 1348.9h15l-7.5 12.9zM1890 1351.8h15l-7.5 12.9zM1891 1354.7h15l-7.5 12.9zM1892 1357.8h15l-7.5 12.9zM1893 1360.8h15l-7.5 12.9zM1894 1363.9h15l-7.5 12.9zM1895 1367.1h15l-7.5 12.9zM1896 1370.2h15l-7.5 12.9zM1897 1373.4h15l-7.5 12.9zM1898 1376.6h15l-7.5 12.9zM1899 1379.8h15l-7.5 12.9zM1900 1382.9h15l-7.5 12.9zM1901 1386.1h15l-7.5 12.9zM1902 1389.1h15l-7.5 12.9zM1903 1392.2h15l-7.5 12.9zM1904 1395.1h15l-7.5 12.9zM1905 1398.2h15l-7.5 12.9zM1906 1401.2h15l-7.5 12.9zM1907 1404.3h15l-7.5 12.9zM1908 1407.4h15l-7.5 12.9zM1909 1410.4h15l-7.5 12.9zM1910 1413.4h15l-7.5 12.9zM1911 1416.4h15l-7.5 12.9zM1912 1419.3h15l-7.5 12.9zM1913 1422h15l-7.5 12.9zM1914 1424.7h15l-7.5 12.9zM1915 1427.2h15l-7.5 12.9zM1916 1429.5h15l-7.5 12.9zM1917 1431.7h15l-7.5 12.9zM1918 1433.7h15l-7.5 12.9zM1919 1435.5h15l-7.5 12.9zM1920 1437.2h15l-7.5 12.9zM1921 1438.8h15l-7.5 12.9zM1922 1440.4h15l-7.5 12.9zM1923 1441.9h15l-7.5 12.9zM1924 1443.5h15l-7.5 12.9zM1925 1445h15l-7.5 12.9zM1926 1446.7h15l-7.5 12.9zM1927 1448.4h15l-7.5 12.9zM1928 1450.2h15l-7.5 12.9zM1929 1452.1h15l-7.5 12.9zM1930 1453.9h15l-7.5 12.9zM1931 1455.7h15l-7.5 12.9zM1932 1457.5h15l-7.5 12.9zM1933 1459.2h15l-7.5 12.9zM1934 1460.7h15l-7.5 12.9zM1935 1462.1h15l-7.5 12.9zM1936 1463.2h15l-7.5 12.9zM1937 1464.3h15l-7.5 12.9zM1938 1465.4h15l-7.5 12.9zM1939 1466.4h15l-7.5 12.9zM1940 1467.4h15l-7.5 12.9zM1941 1468.3h15l-7.5 12.9zM1942 1469h15l-7.5 12.9zM1943 1469.8h15l-7.5 12.9zM1944 1470.4h15l-7.5 12.9zM1945 1470.9h15l-7.5 12.9zM1946 1471.4h15l-7.5 12.9zM1947 1471.8h15l-7.5 12.9zM1948 1472.3h15l-7.5 12.9zM1949 1472.7h15l-7.5 12.9zM1950 1473.1h15l-7.5 12.9zM1951 1473.4h15l-7.5 12.9zM1952 1473.7h15l-7.5 12.9zM1953 1473.9h15l-7.5 12.9zM1954 1474.1h15l-7.5 12.9zM1955 1474.1h15l-7.5 12.9zM1956 1474.2h15l-7.5 12.9zM1957 1474.3h15l-7.5 12.9zM1958 1474.3h15l-7.5 12.9zM1959 1474.4h15l-7.5 12.9zM1960 1474.4h15l-7.5 12.9zM1961 1474.5h15l-7.5 12.9zM1962 1474.5h15l-7.5 12.9zM1963 1474.5h15l-7.5 12.9zM1964 1474.6h15l-7.5 12.9zM1965 1474.6h15l-7.5 12.9zM1966 1474.6h15l-7.5 12.9zM1967 1474.6h15l-7.5 12.9zM1968 1474.6h15l-7.5 12.9zM1969 1474.6h15l-7.5 12.9zM1970 1474.6h15l-7.5 12.9zM1971 1474.6h15l-7.5 12.9zM1972 1474.6h15l-7.5 12.9zM1973 1474.6h15l-7.5 12.9zM1974 1474.6h15l-7.5 12.9zM1975 1474.6h15l-7.5 12.9zM1976 1474.6h15l-7.5 12.9zM1977 1474.6h15l-7.5 12.9zM1978 1474.6h15l-7.5 12.9zM1979 1474.6h15l-7.5 12.9zM1980 1474.6h15l-7.5 12.9zM1981 1474.6h15l-7.5 12.9zM1982 1474.6h15l-7.5 12.9zM1983 1474.6h15l-7.5 12.9zM1984 1474.6h15l-7.5 12.9zM1985 1474.6h15l-7.5 12.9zM1986 1474.6h15l-7.5 12.9zM1987 1474.6h15l-7.5 12.9zM1988 1474.6h15l-7.5 12.9zM1989 1474.6h15l-7.5 12.9zM1990 1474.6h15l-7.5 12.9zM1991 1474.6h15l-7.5 12.9zM1992 1474.6h15l-7.5 12.9zM1993 1474.6h15l-7.5 12.9zM1994 1474.6h15l-7.5 12.9zM1995 1474.6h15l-7.5 12.9zM1996 1474.6h15l-7.5 12.9zM1997 1474.6h15l-7.5 12.9zM1998 1474.6h15l-7.5 12.9zM1999 1474.6h15l-7.5 12.9zM2000 1474.6h15l-7.5 12.9z" fill="#00ad63" shape-rendering="crispEdges"/><path d="M237 1480 1400 1480 1400.8 1480 1401.5 1480 1402.2 1480 1403 1480 1403.8 1480 1404.5 1480 1405.2 1480 1406 1480 1406.8 1480 1407.5 1480 1408.2 1480 1409 1480 1409.8 1480 1410.5 1480 1411.2 1479.9 1412 1479.9 1412.8 1479.9 1413.5 1479.9 1414.2 1479.9 1415 1479.9 1415.8 1479.9 1416.5 1479.9 1417.2 1479.9 1418 1479.9 1418.8 1479.9 1419.5 1479.8 1420.2 1479.8 1421 1479.8 1421.8 1479.8 1422.5 1479.8 1423.2 1479.8 1424 1479.8 1424.8 1479.8 1425.5 1479.8 1426.2 1479.7 1427 1479.7 1427.8 1479.7 1428.5 1479.7 1429.2 1479.7 1430 1479.7 1430.8 1479.7 1431.5 1479.7 1432.2 1479.6 1433 1479.6 1433.8 1479.6 1434.5 1479.6 1435.2 1479.6 1436 1479.6 1436.8 1479.6 1437.5 1479.5 1438.2 1479.5 1439 1479.5 1439.8 1479.5 1440.5 1479.5 1441.2 1479.5 1442 1479.5 1442.8 1479.4 1443.5 1479.4 1444.2 1479.4 1445 1479.4 1445.8 1479.4 1446.5 1479.4 1447.2 1479.3 1448 1479.3 1448.8 1479.3 1449.5 1479.3 1450.2 1479.3 1451 1479.2 1451.8 1479.2 1452.5 1479.2 1453.2 1479.2 1454 1479.1 1454.8 1479.1 1455.5 1479.1 1456.2 1479.1 1457 1479 1457.8 1479 1458.5 1479 1459.2 1478.9 1460 1478.9 1460.8 1478.9 1461.5 1478.9 1462.2 1478.8 1463 1478.8 1463.8 1478.8 1464.5 1478.7 1465.2 1478.7 1466 1478.7 1466.8 1478.6 1467.5 1478.6 1468.2 1478.6 1469 1478.5 1469.8 1478.5 1470.5 1478.5 1471.2 1478.4 1472 1478.4 1472.8 1478.4 1473.5 1478.3 1474.2 1478.3 1475 1478.2 1475.8 1478.2 1476.5 1478.2 1477.2 1478.1 1478 1478.1 1478.8 1478 1479.5 1478 1480.2 1477.9 1481 1477.9 1481.8 1477.8 1482.5 1477.8 1483.2 1477.7 1484 1477.7 1484.8 1477.6 1485.5 1477.6 1486.2 1477.5 1487 1477.4 1487.8 1477.4 1488.5 1477.3 1489.2 1477.3 1490 1477.2 1490.8 1477.2 1491.5 1477.1 1492.2 1477 1493 1477 1493.8 1476.9 1494.5 1476.8 1495.2 1476.8 1496 1476.7 1496.8 1476.7 1497.5 1476.6 1498.2 1476.5 1499 1476.5 1499.8 1476.4 1500.5 1476.3 1501.2 1476.3 1502 1476.2 1502.8 1476.1 1503.5 1476 1504.2 1476 1505 1475.9 1505.8 1475.8 1506.5 1475.8 1507.2 1475.7 1508 1475.6 1508.8 1475.5 1509.5 1475.5 1510.2 1475.4 1511 1475.3 1511.8 1475.2 1512.5 1475.2 1513.2 1475.1 1514 1475 1514.8 1474.9 1515.5 1474.8 1516.2 1474.8 1517 1474.7 1517.8 1474.6 1518.5 1474.5 1519.2 1474.4 1520 1474.3 1520.8 1474.2 1521.5 1474.1 1522.2 1474 1523 1473.9 1523.8 1473.8 1524.5 1473.7 1525.2 1473.6 1526 1473.5 1526.8 1473.4 1527.5 1473.2 1528.2 1473.1 1529 1473 1529.8 1472.9 1530.5 1472.7 1531.2 1472.6 1532 1472.4 1532.8 1472.2 1533.5 1472.1 1534.2 1471.9 1535 1471.7 1535.8 1471.5 1536.5 1471.3 1537.2 1471.1 1538 1471 1538.8 1470.8 1539.5 1470.6 1540.2 1470.4 1541 1470.3 1541.8 1470.1 1542.5 1470 1543.2 1469.9 1544 1469.7 1544.8 1469.6 1545.5 1469.4 1546.2 1469.3 1547 1469.2 1547.8 1469.1 1548.5 1468.9 1549.2 1468.8 1550 1468.7 1550.8 1468.5 1551.5 1468.4 1552.2 1468.2 1553 1468.1 1553.8 1468 1554.5 1467.8 1555.2 1467.7 1556 1467.5 1556.8 1467.3 1557.5 1467.1 1558.2 1467 1559 1466.8 1559.8 1466.6 1560.5 1466.4 1561.2 1466.1 1562 1465.9 1562.8 1465.7 1563.5 1465.4 1564.2 1465.1 1565 1464.9 1565.8 1464.6 1566.5 1464.3 1567.2 1464 1568 1463.6 1568.8 1463.3 1569.5 1463 1570.2 1462.6 1571 1462.3 1571.8 1461.9 1572.5 1461.6 1573.2 1461.2 1574 1460.8 1574.8 1460.4 1575.5 1460 1576.2 1459.6 1577 1459.2 1577.8 1458.8 1578.5 1458.4 1579.2 1457.9 1580 1457.5 1580.8 1457 1581.5 1456.6 1582.2 1456 1583 1455.5 1583.8 1454.9 1584.5 1454.3 1585.2 1453.7 1586 1453.1 1586.8 1452.5 1587.5 1451.9 1588.2 1451.3 1589 1450.6 1589.8 1450.1 1590.5 1449.5 1591.2 1448.9 1592 1448.4 1592.8 1447.9 1593.5 1447.4 1594.2 1447 1595 1446.6 1595.8 1446.1 1596.5 1445.7 1597.2 1445.2 1598 1444.8 1598.8 1444.3 1599.5 1443.8 1600.2 1443.2 1601 1442.6 1601.8 1442 1602.5 1441.4 1603.2 1440.7 1604 1440 1604.8 1439.3 1605.5 1438.6 1606.2 1437.9 1607 1437.1 1607.8 1436.4 1608.5 1435.6 1609.2 1434.8 1610 1434 1610.8 1433.1 1611.5 1432.3 1612.2 1431.4 1613 1430.6 1613.8 1429.7 1614.5 1428.8 1615.2 1427.9 1616 1427 1616.8 1426.1 1617.5 1425.2 1618.2 1424.3 1619 1423.3 1619.8 1422.4 1620.5 1421.4 1621.2 1420.4 1622 1419.4 1622.8 1418.4 1623.5 1417.3 1624.2 1416.3 1625 1415.2 1625.8 1414.1 1626.5 1412.9 1627.2 1411.8 1628 1410.6 1628.8 1409.4 1629.5 1408.2 1630.2 1406.9 1631 1405.7 1631.8 1404.4 1632.5 1403 1633.2 1401.6 1634 1400.2 1634.8 1398.7 1635.5 1397.1 1636.2 1395.5 1637 1393.9 1637.8 1392.2 1638.5 1390.5 1639.2 1388.7 1640 1386.9 1640.8 1385.1 1641.5 1383.2 1642.2 1381.4 1643 1379.5 1643.8 1377.4 1644.5 1375.3 1645.2 1373.1 1646 1370.8 1646.8 1368.5 1647.5 1366.3 1648.2 1364 1649 1361.9 1649.8 1359.8 1650.5 1357.9 1651.2 1356.1 1652 1354.4 1652.8 1352.7 1653.5 1351.1 1654.2 1349.5 1655 1348 1655.8 1346.5 1656.5 1345 1657.2 1343.5 1658 1341.9 1658.8 1340.4 1659.5 1338.7 1660.2 1337.1 1661 1335.3 1661.8 1333.5 1662.5 1331.6 1663.2 1329.8 1664 1327.9 1664.8 1325.9 1665.5 1323.9 1666.2 1321.9 1667 1319.8 1667.8 1317.7 1668.5 1315.6 1669.2 1313.3 1670 1311.1 1670.8 1308.8 1671.5 1306.4 1672.2 1303.9 1673 1301.4 1673.8 1298.8 1674.5 1296.2 1675.2 1293.5 1676 1290.7 1676.8 1287.9 1677.5 1285 1678.2 1282 1679 1278.9 1679.8 1275.8 1680.5 1272.6 1681.2 1269.3 1682 1266 1682.8 1262.7 1683.5 1259.4 1684.2 1256 1685 1252.6 1685.8 1249.3 1686.5 1245.9 1687.2 1242.6 1688 1239.3 1688.8 1236.1 1689.5 1232.9 1690.2 1229.7 1691 1226.5 1691.8 1223.3 1692.5 1220 1693.2 1216.7 1694 1213.3 1694.8 1209.8 1695.5 1206.2 1696.2 1202.5 1697 1198.6 1697.8 1194.6 1698.5 1190.3 1699.2 1185.7 1700 1180.7 1700.8 1175.4 1701.5 1170 1702.2 1164.5 1703 1159 1703.8 1153.5 1704.5 1148.1 1705.2 1142.9 1706 1138 1706.8 1133.2 1707.5 1128.4 1708.2 1123.7 1709 1119.1 1709.8 1114.4 1710.5 1109.9 1711.2 1105.4 1712 1101 1712.8 1096.7 1713.5 1092.5 1714.2 1088.4 1715 1084.3 1715.8 1080.5 1716.5 1076.8 1717.2 1073.1 1718 1069.6 1718.8 1066 1719.5 1062.5 1720.2 1058.9 1721 1055.3 1721.8 1051.5 1722.5 1047.7 1723.2 1043.9 1724 1040.2 1724.8 1036.6 1725.5 1032.9 1726.2 1029.2 1727 1025.3 1727.8 1021.1 1728.5 1016.6 1729.2 1011.8 1730 1006.5 1730.8 1000.3 1731.5 992.4 1732.2 983.4 1733 974.1 1733.8 964.9 1734.5 956.7 1735.2 949.9 1736 944.1 1736.8 938.8 1737.5 933.9 1738.2 929.2 1739 924.6 1739.8 919.9 1740.5 915 1741.2 909.7 1742 903.8 1742.8 897.5 1743.5 890.8 1744.2 883.8 1745 876.8 1745.8 869.8 1746.5 862.9 1747.2 856.1 1748 849.2 1748.8 842.3 1749.5 835.4 1750.2 828.7 1751 822.1 1751.8 815.7 1752.5 809.6 1753.2 803.5 1754 797.5 1754.8 791.7 1755.5 786 1756.2 780.4 1757 774.9 1757.8 769.5 1758.5 764.4 1759.2 759.3 1760 754.4 1760.8 749.6 1761.5 744.7 1762.2 739.7 1763 734.6 1763.8 729.6 1764.5 724.5 1765.2 719.3 1766 713.9 1766.8 708 1767.5 701.4 1768.2 694.4 1769 687.2 1769.8 680.1 1770.5 673.2 1771.2 666.5 1772 659.9 1772.8 653.4 1773.5 647 1774.2 640.8 1775 634.8 1775.8 628.8 1776.5 622.5 1777.2 615.7 1778 608.4 1778.8 600.7 1779.5 593 1780.2 585.5 1781 578.1 1781.8 570.8 1782.5 563.6 1783.2 556.5 1784 549.6 1784.8 542.8 1785.5 536.5 1786.2 530.8 1787 525.5 1787.8 520.5 1788.5 515.4 1789.2 510 1790 503.8 1790.8 496.8 1791.5 489.6 1792.2 482.9 1793 476.9 1793.8 471.4 1794.5 466.1 1795.2 461.1 1796 456.2 1796.8 451.5 1797.5 447 1798.2 442.7 1799 438.6 1799.8 434.5 1800.5 430.5 1801.2 426.4 1802 422.2 1802.8 417.8 1803.5 413.5 1804.2 409.2 1805 405 1805.8 401 1806.5 397.2 1807.2 393.7 1808 390.2 1808.8 386.9 1809.5 383.7 1810.2 380.4 1811 377.2 1811.8 374 1812.5 370.7 1813.2 367.2 1814 363.6 1814.8 359.8 1815.5 355.9 1816.2 352.1 1817 348.4 1817.8 344.9 1818.5 341.7 1819.2 338.8 1820 336.4 1820.8 334.2 1821.5 332.1 1822.2 330.1 1823 328.3 1823.8 326.6 1824.5 325 1825.2 323.4 1826 322 1826.8 320.6 1827.5 319.3 1828.2 318 1829 316.9 1829.8 315.8 1830.5 315 1831.2 314.2 1832 313.5 1832.8 312.8 1833.5 312.3 1834.2 312 1835 312.1 1835.8 312.4 1836.5 313 1837.2 313.7 1838 314.5 1838.8 315.2 1839.5 316 1840.2 316.9 1841 317.8 1841.8 318.9 1842.5 320.1 1843.2 321.5 1844 323.2 1844.8 325.3 1845.5 327.9 1846.2 330.8 1847 333.9 1847.8 337 1848.5 340 1849.2 343.2 1850 346.5 1850.8 349.9 1851.5 353.5 1852.2 357.1 1853 360.8 1853.8 364.6 1854.5 368.4 1855.2 372.3 1856 376.4 1856.8 380.5 1857.5 384.7 1858.2 389.1 1859 393.6 1859.8 398.2 1860.5 402.9 1861.2 407.8 1862 412.9 1862.8 418 1863.5 423.3 1864.2 428.6 1865 433.8 1865.8 438.9 1866.5 444.1 1867.2 449.3 1868 454.7 1868.8 460.4 1869.5 466.5 1870.2 472.9 1871 479.6 1871.8 486.6 1872.5 493.8 1873.2 501.4 1874 509.3 1874.8 517.3 1875.5 525 1876.2 531.8 1877 538 1877.8 544.9 1878.5 553.3 1879.2 565.3 1880 579.1 1880.8 591.7 1881.5 604 1882.2 615.6 1883 625.8 1883.8 634.2 1884.5 642 1885.2 650.5 1886 661.3 1886.8 676.8 1887.5 692.3 1888.2 703.9 1889 713.9 1889.8 723.7 1890.5 734.5 1891.2 746.1 1892 758.1 1892.8 769.9 1893.5 781.3 1894.2 793 1895 805.5 1895.8 819.5 1896.5 833.9 1897.2 847.2 1898 857.9 1898.8 867.1 1899.5 877.3 1900.2 891.8 1901 914.5 1901.8 930.4 1902.5 942 1903.2 952.7 1904 964.3 1904.8 976.2 1905.5 988.7 1906.2 1002.9 1907 1019.1 1907.8 1032.2 1908.5 1041.7 1909.2 1049.7 1910 1057.5 1910.8 1066.7 1911.5 1077.5 1912.2 1089.5 1913 1102 1913.8 1115.8 1914.5 1130.5 1915.2 1144.1 1916 1154.9 1916.8 1163.8 1917.5 1172.1 1918.2 1180.9 1919 1191.3 1919.8 1204.5 1920.5 1218.4 1921.2 1230.3 1922 1240.5 1922.8 1250 1923.5 1259 1924.2 1268 1925 1277 1925.8 1285.9 1926.5 1294.2 1927.2 1301.6 1928 1308.1 1928.8 1313.7 1929.5 1318.9 1930.2 1323.8 1931 1328.8 1931.8 1334 1932.5 1339.8 1933.2 1346.6 1934 1354.4 1934.8 1362.7 1935.5 1370.7 1936.2 1377.9 1937 1383.8 1937.8 1389.1 1938.5 1394 1939.2 1398.5 1940 1402.9 1940.8 1407.3 1941.5 1411.5 1942.2 1415.5 1943 1419.3 1943.8 1422.8 1944.5 1426 1945.2 1428.8 1946 1431.3 1946.8 1433.7 1947.5 1436 1948.2 1438.3 1949 1440.5 1949.8 1442.6 1950.5 1444.7 1951.2 1446.9 1952 1449.1 1952.8 1451.4 1953.5 1453.7 1954.2 1455.8 1955 1457.5 1955.8 1458.9 1956.5 1460.2 1957.2 1461.4 1958 1462.4 1958.8 1463.4 1959.5 1464.4 1960.2 1465.3 1961 1466.2 1961.8 1467 1962.5 1467.8 1963.2 1468.6 1964 1469.3 1964.8 1470 1965.5 1470.6 1966.2 1471.2 1967 1471.7 1967.8 1472.2 1968.5 1472.7 1969.2 1473.2 1970 1473.6 1970.8 1474.1 1971.5 1474.5 1972.2 1474.9 1973 1475.2 1973.8 1475.5 1974.5 1475.8 1975.2 1476.1 1976 1476.3 1976.8 1476.6 1977.5 1476.8 1978.2 1477.1 1979 1477.3 1979.8 1477.5 1980.5 1477.8 1981.2 1478 1982 1478.2 1982.8 1478.4 1983.5 1478.5 1984.2 1478.7 1985 1478.9 1985.8 1479 1986.5 1479.1 1987.2 1479.2 1988 1479.3 1988.8 1479.4 1989.5 1479.5 1990.2 1479.5 1991 1479.5 1991.8 1479.6 1992.5 1479.6 1993.2 1479.6 1994 1479.7 1994.8 1479.7 1995.5 1479.7 1996.2 1479.8 1997 1479.8 1997.8 1479.8 1998.5 1479.8 1999.2 1479.8 2000 1479.9 2000.8 1479.9 2001.5 1479.9 2002.2 1479.9 2003 1479.9 2003.8 1479.9 2004.5 1480 2005.2 1480 2006 1480 2006.8 1480 2007.5 1480" stroke="#00ffff" stroke-width="3" fill="none" stroke-linejoin="round"/><path d="M237 1472l8 8-8 8-8-8zM243.5 1472l8 8-8 8-8-8zM250 1472l8 8-8 8-8-8zM256.5 1472l8 8-8 8-8-8zM263 1472l8 8-8 8-8-8zM269.5 1472l8 8-8 8-8-8zM276 1472l8 8-8 8-8-8zM282.5 1472l8 8-8 8-8-8zM289 1472l8 8-8 8-8-8zM295.5 1472l8 8-8 8-8-8zM302 1472l8 8-8 8-8-8zM308.5 1472l8 8-8 8-8-8zM315 1472l8 8-8 8-8-8zM321.5 1472l8 8-8 8-8-8zM328 1472l8 8-8 8-8-8zM334.5 1472l8 8-8 8-8-8zM341 1472l8 8-8 8-8-8zM347.5 1472l8 8-8 8-8-8zM354 1472l8 8-8 8-8-8zM360.5 1472l8 8-8 8-8-8zM367 1472l8 8-8 8-8-8zM373.5 1472l8 8-8 8-8-8zM380 1472l8 8-8 8-8-8zM386.5 1472l8 8-8 8-8-8zM393 1472l8 8-8 8-8-8zM399.5 1472l8 8-8 8-8-8zM406 1472l8 8-8 8-8-8zM412.5 1472l8 8-8 8-8-8zM419 1472l8 8-8 8-8-8zM425.5 1472l8 8-8 8-8-8zM432 1472l8 8-8 8-8-8zM438.5 1472l8 8-8 8-8-8zM445 1472l8 8-8 8-8-8zM451.5 1472l8 8-8 8-8-8zM458 1472l8 8-8 8-8-8zM464.5 1472l8 8-8 8-8-8zM471 1472l8 8-8 8-8-8zM477.5 1472l8 8-8 8-8-8zM484 1472l8 8-8 8-8-8zM490.5 1472l8 8-8 8-8-8zM497 1472l8 8-8 8-8-8zM503.5 1472l8 8-8 8-8-8zM510 1472l8 8-8 8-8-8zM516.5 1472l8 8-8 8-8-8zM523 1472l8 8-8 8-8-8zM529.5 1472l8 8-8 8-8-8zM536 1472l8 8-8 8-8-8zM542.5 1472l8 8-8 8-8-8zM549 1472l8 8-8 8-8-8zM555.5 1472l8 8-8 8-8-8zM562 1472l8 8-8 8-8-8zM565 1472l8 8-8 8-8-8zM568 1472l8 8-8 8-8-8zM571 1472l8 8-8 8-8-8zM574 1472l8 8-8 8-8-8zM577 1472l8 8-8 8-8-8zM580 1472l8 8-8 8-8-8zM583 1472l8 8-8 8-8-8zM586 1472l8 8-8 8-8-8zM589 1472l8 8-8 8-8-8zM592 1472l8 8-8 8-8-8zM595 1472l8 8-8 8-8-8zM596 1472.5H1400V1490H596zM1400 1472l8 8-8 8-8-8zM1400.8 1472l8 8-8 8-8-8zM1401.5 1472l8 8-8 8-8-8zM1402.2 1472l8 8-8 8-8-8zM1403 1472l8 8-8 8-8-8zM1403.8 1472l8 8-8 8-8-8zM1404.5 1472l8 8-8 8-8-8zM1405.2 1472l8 8-8 8-8-8zM1406 1472l8 8-8 8-8-8zM1406.8 1472l8 8-8 8-8-8zM1407.5 1472l8 8-8 8-8-8zM1408.2 1472l8 8-8 8-8-8zM1409 1472l8 8-8 8-8-8zM1409.8 1472l8 8-8 8-8-8zM1410.5 1472l8 8-8 8-8-8zM1411.2 1471.9l8 8-8 8-8-8zM1412 1471.9l8 8-8 8-8-8zM1412.8 1471.9l8 8-8 8-8-8zM1413.5 1471.9l8 8-8 8-8-8zM1414.2 1471.9l8 8-8 8-8-8zM1415 1471.9l8 8-8 8-8-8zM1415.8 1471.9l8 8-8 8-8-8zM1416.5 1471.9l8 8-8 8-8-8zM1417.2 1471.9l8 8-8 8-8-8zM1418 1471.9l8 8-8 8-8-8zM1418.8 1471.9l8 8-8 8-8-8zM1419.5 1471.8l8 8-8 8-8-8zM1420.2 1471.8l8 8-8 8-8-8zM1421 1471.8l8 8-8 8-8-8zM1421.8 1471.8l8 8-8 8-8-8zM1422.5 1471.8l8 8-8 8-8-8zM1423.2 1471.8l8 8-8 8-8-8zM1424 1471.8l8 8-8 8-8-8zM1424.8 1471.8l8 8-8 8-8-8zM1425.5 1471.8l8 8-8 8-8-8zM1426.2 1471.7l8 8-8 8-8-8zM1427 1471.7l8 8-8 8-8-8zM1427.8 1471.7l8 8-8 8-8-8zM1428.5 1471.7l8 8-8 8-8-8zM1429.2 1471.7l8 8-8 8-8-8zM1430 1471.7l8 8-8 8-8-8zM1430.8 1471.7l8 8-8 8-8-8zM1431.5 1471.7l8 8-8 8-8-8zM1432.2 1471.6l8 8-8 8-8-8zM1433 1471.6l8 8-8 8-8-8zM1433.8 1471.6l8 8-8 8-8-8zM1434.5 1471.6l8 8-8 8-8-8zM1435.2 1471.6l8 8-8 8-8-8zM1436 1471.6l8 8-8 8-8-8zM1436.8 1471.6l8 8-8 8-8-8zM1437.5 1471.5l8 8-8 8-8-8zM1438.2 1471.5l8 8-8 8-8-8zM1439 1471.5l8 8-8 8-8-8zM1439.8 1471.5l8 8-8 8-8-8zM1440.5 1471.5l8 8-8 8-8-8zM1441.2 1471.5l8 8-8 8-8-8zM1442 1471.5l8 8-8 8-8-8zM1442.8 1471.4l8 8-8 8-8-8zM1443.5 1471.4l8 8-8 8-8-8zM1444.2 1471.4l8 8-8 8-8-8zM1445 1471.4l8 8-8 8-8-8zM1445.8 1471.4l8 8-8 8-8-8zM1446.5 1471.4l8 8-8 8-8-8zM1447.2 1471.3l8 8-8 8-8-8zM1448 1471.3l8 8-8 8-8-8zM1448.8 1471.3l8 8-8 8-8-8zM1449.5 1471.3l8 8-8 8-8-8zM1450.2 1471.3l8 8-8 8-8-8zM1451 1471.2l8 8-8 8-8-8zM1451.8 1471.2l8 8-8 8-8-8zM1452.5 1471.2l8 8-8 8-8-8zM1453.2 1471.2l8 8-8 8-8-8zM1454 1471.1l8 8-8 8-8-8zM1454.8 1471.1l8 8-8 8-8-8zM1455.5 1471.1l8 8-8 8-8-8zM1456.2 1471.1l8 8-8 8-8-8zM1457 1471l8 8-8 8-8-8zM1457.8 1471l8 8-8 8-8-8zM1458.5 1471l8 8-8 8-8-8zM1459.2 1470.9l8 8-8 8-8-8zM1460 1470.9l8 8-8 8-8-8zM1460.8 1470.9l8 8-8 8-8-8zM1461.5 1470.9l8 8-8 8-8-8zM1462.2 1470.8l8 8-8 8-8-8zM1463 1470.8l8 8-8 8-8-8zM1463.8 1470.8l8 8-8 8-8-8zM1464.5 1470.7l8 8-8 8-8-8zM1465.2 1470.7l8 8-8 8-8-8zM1466 1470.7l8 8-8 8-8-8zM1466.8 1470.6l8 8-8 8-8-8zM1467.5 1470.6l8 8-8 8-8-8zM1468.2 1470.6l8 8-8 8-8-8zM1469 1470.5l8 8-8 8-8-8zM1469.8 1470.5l8 8-8 8-8-8zM1470.5 1470.5l8 8-8 8-8-8zM1471.2 1470.4l8 8-8 8-8-8zM1472 1470.4l8 8-8 8-8-8zM1472.8 1470.4l8 8-8 8-8-8zM1473.5 1470.3l8 8-8 8-8-8zM1474.2 1470.3l8 8-8 8-8-8zM1475 1470.2l8 8-8 8-8-8zM1475.8 1470.2l8 8-8 8-8-8zM1476.5 1470.2l8 8-8 8-8-8zM1477.2 1470.1l8 8-8 8-8-8zM1478 1470.1l8 8-8 8-8-8zM1478.8 1470l8 8-8 8-8-8zM1479.5 1470l8 8-8 8-8-8zM1480.2 1469.9l8 8-8 8-8-8zM1481 1469.9l8 8-8 8-8-8zM1481.8 1469.8l8 8-8 8-8-8zM1482.5 1469.8l8 8-8 8-8-8zM1483.2 1469.7l8 8-8 8-8-8zM1484 1469.7l8 8-8 8-8-8zM1484.8 1469.6l8 8-8 8-8-8zM1485.5 1469.6l8 8-8 8-8-8zM1486.2 1469.5l8 8-8 8-8-8zM1487 1469.4l8 8-8 8-8-8zM1487.8 1469.4l8 8-8 8-8-8zM1488.5 1469.3l8 8-8 8-8-8zM1489.2 1469.3l8 8-8 8-8-8zM1490 1469.2l8 8-8 8-8-8zM1490.8 1469.2l8 8-8 8-8-8zM1491.5 1469.1l8 8-8 8-8-8zM1492.2 1469l8 8-8 8-8-8zM1493 1469l8 8-8 8-8-8zM1493.8 1468.9l8 8-8 8-8-8zM1494.5 1468.8l8 8-8 8-8-8zM1495.2 1468.8l8 8-8 8-8-8zM1496 1468.7l8 8-8 8-8-8zM1496.8 1468.7l8 8-8 8-8-8zM1497.5 1468.6l8 8-8 8-8-8zM1498.2 1468.5l8 8-8 8-8-8zM1499 1468.5l8 8-8 8-8-8zM1499.8 1468.4l8 8-8 8-8-8zM1500.5 1468.3l8 8-8 8-8-8zM1501.2 1468.3l8 8-8 8-8-8zM1502 1468.2l8 8-8 8-8-8zM1502.8 1468.1l8 8-8 8-8-8zM1503.5 1468l8 8-8 8-8-8zM1504.2 1468l8 8-8 8-8-8zM1505 1467.9l8 8-8 8-8-8zM1505.8 1467.8l8 8-8 8-8-8zM1506.5 1467.8l8 8-8 8-8-8zM1507.2 1467.7l8 8-8 8-8-8zM1508 1467.6l8 8-8 8-8-8zM1508.8 1467.5l8 8-8 8-8-8zM1509.5 1467.5l8 8-8 8-8-8zM1510.2 1467.4l8 8-8 8-8-8zM1511 1467.3l8 8-8 8-8-8zM1511.8 1467.2l8 8-8 8-8-8zM1512.5 1467.2l8 8-8 8-8-8zM1513.2 1467.1l8 8-8 8-8-8zM1514 1467l8 8-8 8-8-8zM1514.8 1466.9l8 8-8 8-8-8zM1515.5 1466.8l8 8-8 8-8-8zM1516.2 1466.8l8 8-8 8-8-8zM1517 1466.7l8 8-8 8-8-8zM1517.8 1466.6l8 8-8 8-8-8zM1518.5 1466.5l8 8-8 8-8-8zM1519.2 1466.4l8 8-8 8-8-8zM1520 1466.3l8 8-8 8-8-8zM1520.8 1466.2l8 8-8 8-8-8zM1521.5 1466.1l8 8-8 8-8-8zM1522.2 1466l8 8-8 8-8-8zM1523 1465.9l8 8-8 8-8-8zM1523.8 1465.8l8 8-8 8-8-8zM1524.5 1465.7l8 8-8 8-8-8zM1525.2 1465.6l8 8-8 8-8-8zM1526 1465.5l8 8-8 8-8-8zM1526.8 1465.4l8 8-8 8-8-8zM1527.5 1465.2l8 8-8 8-8-8zM1528.2 1465.1l8 8-8 8-8-8zM1529 1465l8 8-8 8-8-8zM1529.8 1464.9l8 8-8 8-8-8zM1530.5 1464.7l8 8-8 8-8-8zM1531.2 1464.6l8 8-8 8-8-8zM1532 1464.4l8 8-8 8-8-8zM1532.8 1464.2l8 8-8 8-8-8zM1533.5 1464.1l8 8-8 8-8-8zM1534.2 1463.9l8 8-8 8-8-8zM1535 1463.7l8 8-8 8-8-8zM1535.8 1463.5l8 8-8 8-8-8zM1536.5 1463.3l8 8-8 8-8-8zM1537.2 1463.1l8 8-8 8-8-8zM1538 1463l8 8-8 8-8-8zM1538.8 1462.8l8 8-8 8-8-8zM1539.5 1462.6l8 8-8 8-8-8zM1540.2 1462.4l8 8-8 8-8-8zM1541 1462.3l8 8-8 8-8-8zM1541.8 1462.1l8 8-8 8-8-8zM1542.5 1462l8 8-8 8-8-8zM1543.2 1461.9l8 8-8 8-8-8zM1544 1461.7l8 8-8 8-8-8zM1544.8 1461.6l8 8-8 8-8-8zM1545.5 1461.4l8 8-8 8-8-8zM1546.2 1461.3l8 8-8 8-8-8zM1547 1461.2l8 8-8 8-8-8zM1547.8 1461.1l8 8-8 8-8-8zM1548.5 1460.9l8 8-8 8-8-8zM1549.2 1460.8l8 8-8 8-8-8zM1550 1460.7l8 8-8 8-8-8zM1550.8 1460.5l8 8-8 8-8-8zM1551.5 1460.4l8 8-8 8-8-8zM1552.2 1460.2l8 8-8 8-8-8zM1553 1460.1l8 8-8 8-8-8zM1553.8 1460l8 8-8 8-8-8zM1554.5 1459.8l8 8-8 8-8-8zM1555.2 1459.7l8 8-8 8-8-8zM1556 1459.5l8 8-8 8-8-8zM1556.8 1459.3l8 8-8 8-8-8zM1557.5 1459.1l8 8-8 8-8-8zM1558.2 1459l8 8-8 8-8-8zM1559 1458.8l8 8-8 8-8-8zM1559.8 1458.6l8 8-8 8-8-8zM1560.5 1458.4l8 8-8 8-8-8zM1561.2 1458.1l8 8-8 8-8-8zM1562 1457.9l8 8-8 8-8-8zM1562.8 1457.7l8 8-8 8-8-8zM1563.5 1457.4l8 8-8 8-8-8zM1564.2 1457.1l8 8-8 8-8-8zM1565 1456.9l8 8-8 8-8-8zM1565.8 1456.6l8 8-8 8-8-8zM1566.5 1456.3l8 8-8 8-8-8zM1567.2 1456l8 8-8 8-8-8zM1568 1455.6l8 8-8 8-8-8zM1568.8 1455.3l8 8-8 8-8-8zM1569.5 1455l8 8-8 8-8-8zM1570.2 1454.6l8 8-8 8-8-8zM1571 1454.3l8 8-8 8-8-8zM1571.8 1453.9l8 8-8 8-8-8zM1572.5 1453.6l8 8-8 8-8-8zM1573.2 1453.2l8 8-8 8-8-8zM1574 1452.8l8 8-8 8-8-8zM1574.8 1452.4l8 8-8 8-8-8zM1575.5 1452l8 8-8 8-8-8zM1576.2 1451.6l8 8-8 8-8-8zM1577 1451.2l8 8-8 8-8-8zM1577.8 1450.8l8 8-8 8-8-8zM1578.5 1450.4l8 8-8 8-8-8zM1579.2 1449.9l8 8-8 8-8-8zM1580 1449.5l8 8-8 8-8-8zM1580.8 1449l8 8-8 8-8-8zM1581.5 1448.6l8 8-8 8-8-8zM1582.2 1448l8 8-8 8-8-8zM1583 1447.5l8 8-8 8-8-8zM1583.8 1446.9l8 8-8 8-8-8zM1584.5 1446.3l8 8-8 8-8-8zM1585.2 1445.7l8 8-8 8-8-8zM1586 1445.1l8 8-8 8-8-8zM1586.8 1444.5l8 8-8 8-8-8zM1587.5 1443.9l8 8-8 8-8-8zM1588.2 1443.3l8 8-8 8-8-8zM1589 1442.6l8 8-8 8-8-8zM1589.8 1442.1l8 8-8 8-8-8zM1590.5 1441.5l8 8-8 8-8-8zM1591.2 1440.9l8 8-8 8-8-8zM1592 1440.4l8 8-8 8-8-8zM1592.8 1439.9l8 8-8 8-8-8zM1593.5 1439.4l8 8-8 8-8-8zM1594.2 1439l8 8-8 8-8-8zM1595 1438.6l8 8-8 8-8-8zM1595.8 1438.1l8 8-8 8-8-8zM1596.5 1437.7l8 8-8 8-8-8zM1597.2 1437.2l8 8-8 8-8-8zM1598 1436.8l8 8-8 8-8-8zM1598.8 1436.3l8 8-8 8-8-8zM1599.5 1435.8l8 8-8 8-8-8zM1600.2 1435.2l8 8-8 8-8-8zM1601 1434.6l8 8-8 8-8-8zM1601.8 1434l8 8-8 8-8-8zM1602.5 1433.4l8 8-8 8-8-8zM1603.2 1432.7l8 8-8 8-8-8zM1604 1432l8 8-8 8-8-8zM1604.8 1431.3l8 8-8 8-8-8zM1605.5 1430.6l8 8-8 8-8-8zM1606.2 1429.9l8 8-8 8-8-8zM1607 1429.1l8 8-8 8-8-8zM1607.8 1428.4l8 8-8 8-8-8zM1608.5 1427.6l8 8-8 8-8-8zM1609.2 1426.8l8 8-8 8-8-8zM1610 1426l8 8-8 8-8-8zM1610.8 1425.1l8 8-8 8-8-8zM1611.5 1424.3l8 8-8 8-8-8zM1612.2 1423.4l8 8-8 8-8-8zM1613 1422.6l8 8-8 8-8-8zM1613.8 1421.7l8 8-8 8-8-8zM1614.5 1420.8l8 8-8 8-8-8zM1615.2 1419.9l8 8-8 8-8-8zM1616 1419l8 8-8 8-8-8zM1616.8 1418.1l8 8-8 8-8-8zM1617.5 1417.2l8 8-8 8-8-8zM1618.2 1416.3l8 8-8 8-8-8zM1619 1415.3l8 8-8 8-8-8zM1619.8 1414.4l8 8-8 8-8-8zM1620.5 1413.4l8 8-8 8-8-8zM1621.2 1412.4l8 8-8 8-8-8zM1622 1411.4l8 8-8 8-8-8zM1622.8 1410.4l8 8-8 8-8-8zM1623.5 1409.3l8 8-8 8-8-8zM1624.2 1408.3l8 8-8 8-8-8zM1625 1407.2l8 8-8 8-8-8zM1625.8 1406.1l8 8-8 8-8-8zM1626.5 1404.9l8 8-8 8-8-8zM1627.2 1403.8l8 8-8 8-8-8zM1628 1402.6l8 8-8 8-8-8zM1628.8 1401.4l8 8-8 8-8-8zM1629.5 1400.2l8 8-8 8-8-8zM1630.2 1398.9l8 8-8 8-8-8zM1631 1397.7l8 8-8 8-8-8zM1631.8 1396.4l8 8-8 8-8-8zM1632.5 1395l8 8-8 8-8-8zM1633.2 1393.6l8 8-8 8-8-8zM1634 1392.2l8 8-8 8-8-8zM1634.8 1390.7l8 8-8 8-8-8zM1635.5 1389.1l8 8-8 8-8-8zM1636.2 1387.5l8 8-8 8-8-8zM1637 1385.9l8 8-8 8-8-8zM1637.8 1384.2l8 8-8 8-8-8zM1638.5 1382.5l8 8-8 8-8-8zM1639.2 1380.7l8 8-8 8-8-8zM1640 1378.9l8 8-8 8-8-8zM1640.8 1377.1l8 8-8 8-8-8zM1641.5 1375.2l8 8-8 8-8-8zM1642.2 1373.4l8 8-8 8-8-8zM1643 1371.5l8 8-8 8-8-8zM1643.8 1369.4l8 8-8 8-8-8zM1644.5 1367.3l8 8-8 8-8-8zM1645.2 1365.1l8 8-8 8-8-8zM1646 1362.8l8 8-8 8-8-8zM1646.8 1360.5l8 8-8 8-8-8zM1647.5 1358.3l8 8-8 8-8-8zM1648.2 1356l8 8-8 8-8-8zM1649 1353.9l8 8-8 8-8-8zM1649.8 1351.8l8 8-8 8-8-8zM1650.5 1349.9l8 8-8 8-8-8zM1651.2 1348.1l8 8-8 8-8-8zM1652 1346.4l8 8-8 8-8-8zM1652.8 1344.7l8 8-8 8-8-8zM1653.5 1343.1l8 8-8 8-8-8zM1654.2 1341.5l8 8-8 8-8-8zM1655 1340l8 8-8 8-8-8zM1655.8 1338.5l8 8-8 8-8-8zM1656.5 1337l8 8-8 8-8-8zM1657.2 1335.5l8 8-8 8-8-8zM1658 1333.9l8 8-8 8-8-8zM1658.8 1332.4l8 8-8 8-8-8zM1659.5 1330.7l8 8-8 8-8-8zM1660.2 1329.1l8 8-8 8-8-8zM1661 1327.3l8 8-8 8-8-8zM1661.8 1325.5l8 8-8 8-8-8zM1662.5 1323.6l8 8-8 8-8-8zM1663.2 1321.8l8 8-8 8-8-8zM1664 1319.9l8 8-8 8-8-8zM1664.8 1317.9l8 8-8 8-8-8zM1665.5 1315.9l8 8-8 8-8-8zM1666.2 1313.9l8 8-8 8-8-8zM1667 1311.8l8 8-8 8-8-8zM1667.8 1309.7l8 8-8 8-8-8zM1668.5 1307.6l8 8-8 8-8-8zM1669.2 1305.3l8 8-8 8-8-8zM1670 1303.1l8 8-8 8-8-8zM1670.8 1300.8l8 8-8 8-8-8zM1671.5 1298.4l8 8-8 8-8-8zM1672.2 1295.9l8 8-8 8-8-8zM1673 1293.4l8 8-8 8-8-8zM1673.8 1290.8l8 8-8 8-8-8zM1674.5 1288.2l8 8-8 8-8-8zM1675.2 1285.5l8 8-8 8-8-8zM1676 1282.7l8 8-8 8-8-8zM1676.8 1279.9l8 8-8 8-8-8zM1677.5 1277l8 8-8 8-8-8zM1678.2 1274l8 8-8 8-8-8zM1679 1270.9l8 8-8 8-8-8zM1679.8 1267.8l8 8-8 8-8-8zM1680.5 1264.6l8 8-8 8-8-8zM1681.2 1261.3l8 8-8 8-8-8zM1682 1258l8 8-8 8-8-8zM1682.8 1254.7l8 8-8 8-8-8zM1683.5 1251.4l8 8-8 8-8-8zM1684.2 1248l8 8-8 8-8-8zM1685 1244.6l8 8-8 8-8-8zM1685.8 1241.3l8 8-8 8-8-8zM1686.5 1237.9l8 8-8 8-8-8zM1687.2 1234.6l8 8-8 8-8-8zM1688 1231.3l8 8-8 8-8-8zM1688.8 1228.1l8 8-8 8-8-8zM1689.5 1224.9l8 8-8 8-8-8zM1690.2 1221.7l8 8-8 8-8-8zM1691 1218.5l8 8-8 8-8-8zM1691.8 1215.3l8 8-8 8-8-8zM1692.5 1212l8 8-8 8-8-8zM1693.2 1208.7l8 8-8 8-8-8zM1694 1205.3l8 8-8 8-8-8zM1694.8 1201.8l8 8-8 8-8-8zM1695.5 1198.2l8 8-8 8-8-8zM1696.2 1194.5l8 8-8 8-8-8zM1697 1190.6l8 8-8 8-8-8zM1697.8 1186.6l8 8-8 8-8-8zM1698.5 1182.3l8 8-8 8-8-8zM1699.2 1177.7l8 8-8 8-8-8zM1700 1172.7l8 8-8 8-8-8zM1700.8 1167.4l8 8-8 8-8-8zM1701.5 1162l8 8-8 8-8-8zM1702.2 1156.5l8 8-8 8-8-8zM1703 1151l8 8-8 8-8-8zM1703.8 1145.5l8 8-8 8-8-8zM1704.5 1140.1l8 8-8 8-8-8zM1705.2 1134.9l8 8-8 8-8-8zM1706 1130l8 8-8 8-8-8zM1706.8 1125.2l8 8-8 8-8-8zM1707.5 1120.4l8 8-8 8-8-8zM1708.2 1115.7l8 8-8 8-8-8zM1709 1111.1l8 8-8 8-8-8zM1709.8 1106.4l8 8-8 8-8-8zM1710.5 1101.9l8 8-8 8-8-8zM1711.2 1097.4l8 8-8 8-8-8zM1712 1093l8 8-8 8-8-8zM1712.8 1088.7l8 8-8 8-8-8zM1713.5 1084.5l8 8-8 8-8-8zM1714.2 1080.4l8 8-8 8-8-8zM1715 1076.3l8 8-8 8-8-8zM1715.8 1072.5l8 8-8 8-8-8zM1716.5 1068.8l8 8-8 8-8-8zM1717.2 1065.1l8 8-8 8-8-8zM1718 1061.6l8 8-8 8-8-8zM1718.8 1058l8 8-8 8-8-8zM1719.5 1054.5l8 8-8 8-8-8zM1720.2 1050.9l8 8-8 8-8-8zM1721 1047.3l8 8-8 8-8-8zM1721.8 1043.5l8 8-8 8-8-8zM1722.5 1039.7l8 8-8 8-8-8zM1723.2 1035.9l8 8-8 8-8-8zM1724 1032.2l8 8-8 8-8-8zM1724.8 1028.6l8 8-8 8-8-8zM1725.5 1024.9l8 8-8 8-8-8zM1726.2 1021.2l8 8-8 8-8-8zM1727 1017.3l8 8-8 8-8-8zM1727.8 1013.1l8 8-8 8-8-8zM1728.5 1008.6l8 8-8 8-8-8zM1729.2 1003.8l8 8-8 8-8-8zM1730 998.5l8 8-8 8-8-8zM1730.8 992.3l8 8-8 8-8-8zM1731.5 984.4l8 8-8 8-8-8zM1732.2 975.4l8 8-8 8-8-8zM1733 966.1l8 8-8 8-8-8zM1733.8 956.9l8 8-8 8-8-8zM1734.5 948.7l8 8-8 8-8-8zM1735.2 941.9l8 8-8 8-8-8zM1736 936.1l8 8-8 8-8-8zM1736.8 930.8l8 8-8 8-8-8zM1737.5 925.9l8 8-8 8-8-8zM1738.2 921.2l8 8-8 8-8-8zM1739 916.6l8 8-8 8-8-8zM1739.8 911.9l8 8-8 8-8-8zM1740.5 907l8 8-8 8-8-8zM1741.2 901.7l8 8-8 8-8-8zM1742 895.8l8 8-8 8-8-8zM1742.8 889.5l8 8-8 8-8-8zM1743.5 882.8l8 8-8 8-8-8zM1744.2 875.8l8 8-8 8-8-8zM1745 868.8l8 8-8 8-8-8zM1745.8 861.8l8 8-8 8-8-8zM1746.5 854.9l8 8-8 8-8-8zM1747.2 848.1l8 8-8 8-8-8zM1748 841.2l8 8-8 8-8-8zM1748.8 834.3l8 8-8 8-8-8zM1749.5 827.4l8 8-8 8-8-8zM1750.2 820.7l8 8-8 8-8-8zM1751 814.1l8 8-8 8-8-8zM1751.8 807.7l8 8-8 8-8-8zM1752.5 801.6l8 8-8 8-8-8zM1753.2 795.5l8 8-8 8-8-8zM1754 789.5l8 8-8 8-8-8zM1754.8 783.7l8 8-8 8-8-8zM1755.5 778l8 8-8 8-8-8zM1756.2 772.4l8 8-8 8-8-8zM1757 766.9l8 8-8 8-8-8zM1757.8 761.5l8 8-8 8-8-8zM1758.5 756.4l8 8-8 8-8-8zM1759.2 751.3l8 8-8 8-8-8zM1760 746.4l8 8-8 8-8-8zM1760.8 741.6l8 8-8 8-8-8zM1761.5 736.7l8 8-8 8-8-8zM1762.2 731.7l8 8-8 8-8-8zM1763 726.6l8 8-8 8-8-8zM1763.8 721.6l8 8-8 8-8-8zM1764.5 716.5l8 8-8 8-8-8zM1765.2 711.3l8 8-8 8-8-8zM1766 705.9l8 8-8 8-8-8zM1766.8 700l8 8-8 8-8-8zM1767.5 693.4l8 8-8 8-8-8zM1768.2 686.4l8 8-8 8-8-8zM1769 679.2l8 8-8 8-8-8zM1769.8 672.1l8 8-8 8-8-8zM1770.5 665.2l8 8-8 8-8-8zM1771.2 658.5l8 8-8 8-8-8zM1772 651.9l8 8-8 8-8-8zM1772.8 645.4l8 8-8 8-8-8zM1773.5 639l8 8-8 8-8-8zM1774.2 632.8l8 8-8 8-8-8zM1775 626.8l8 8-8 8-8-8zM1775.8 620.8l8 8-8 8-8-8zM1776.5 614.5l8 8-8 8-8-8zM1777.2 607.7l8 8-8 8-8-8zM1778 600.4l8 8-8 8-8-8zM1778.8 592.7l8 8-8 8-8-8zM1779.5 585l8 8-8 8-8-8zM1780.2 577.5l8 8-8 8-8-8zM1781 570.1l8 8-8 8-8-8zM1781.8 562.8l8 8-8 8-8-8zM1782.5 555.6l8 8-8 8-8-8zM1783.2 548.5l8 8-8 8-8-8zM1784 541.6l8 8-8 8-8-8zM1784.8 534.8l8 8-8 8-8-8zM1785.5 528.5l8 8-8 8-8-8zM1786.2 522.8l8 8-8 8-8-8zM1787 517.5l8 8-8 8-8-8zM1787.8 512.5l8 8-8 8-8-8zM1788.5 507.4l8 8-8 8-8-8zM1789.2 502l8 8-8 8-8-8zM1790 495.8l8 8-8 8-8-8zM1790.8 488.8l8 8-8 8-8-8zM1791.5 481.6l8 8-8 8-8-8zM1792.2 474.9l8 8-8 8-8-8zM1793 468.9l8 8-8 8-8-8zM1793.8 463.4l8 8-8 8-8-8zM1794.5 458.1l8 8-8 8-8-8zM1795.2 453.1l8 8-8 8-8-8zM1796 448.2l8 8-8 8-8-8zM1796.8 443.5l8 8-8 8-8-8zM1797.5 439l8 8-8 8-8-8zM1798.2 434.7l8 8-8 8-8-8zM1799 430.6l8 8-8 8-8-8zM1799.8 426.5l8 8-8 8-8-8zM1800.5 422.5l8 8-8 8-8-8zM1801.2 418.4l8 8-8 8-8-8zM1802 414.2l8 8-8 8-8-8zM1802.8 409.8l8 8-8 8-8-8zM1803.5 405.5l8 8-8 8-8-8zM1804.2 401.2l8 8-8 8-8-8zM1805 397l8 8-8 8-8-8zM1805.8 393l8 8-8 8-8-8zM1806.5 389.2l8 8-8 8-8-8zM1807.2 385.7l8 8-8 8-8-8zM1808 382.2l8 8-8 8-8-8zM1808.8 378.9l8 8-8 8-8-8zM1809.5 375.7l8 8-8 8-8-8zM1810.2 372.4l8 8-8 8-8-8zM1811 369.2l8 8-8 8-8-8zM1811.8 366l8 8-8 8-8-8zM1812.5 362.7l8 8-8 8-8-8zM1813.2 359.2l8 8-8 8-8-8zM1814 355.6l8 8-8 8-8-8zM1814.8 351.8l8 8-8 8-8-8zM1815.5 347.9l8 8-8 8-8-8zM1816.2 344.1l8 8-8 8-8-8zM1817 340.4l8 8-8 8-8-8zM1817.8 336.9l8 8-8 8-8-8zM1818.5 333.7l8 8-8 8-8-8zM1819.2 330.8l8 8-8 8-8-8zM1820 328.4l8 8-8 8-8-8zM1820.8 326.2l8 8-8 8-8-8zM1821.5 324.1l8 8-8 8-8-8zM1822.2 322.1l8 8-8 8-8-8zM1823 320.3l8 8-8 8-8-8zM1823.8 318.6l8 8-8 8-8-8zM1824.5 317l8 8-8 8-8-8zM1825.2 315.4l8 8-8 8-8-8zM1826 314l8 8-8 8-8-8zM1826.8 312.6l8 8-8 8-8-8zM1827.5 311.3l8 8-8 8-8-8zM1828.2 310l8 8-8 8-8-8zM1829 308.9l8 8-8 8-8-8zM1829.8 307.8l8 8-8 8-8-8zM1830.5 307l8 8-8 8-8-8zM1831.2 306.2l8 8-8 8-8-8zM1832 305.5l8 8-8 8-8-8zM1832.8 304.8l8 8-8 8-8-8zM1833.5 304.3l8 8-8 8-8-8zM1834.2 304l8 8-8 8-8-8zM1835 304.1l8 8-8 8-8-8zM1835.8 304.4l8 8-8 8-8-8zM1836.5 305l8 8-8 8-8-8zM1837.2 305.7l8 8-8 8-8-8zM1838 306.5l8 8-8 8-8-8zM1838.8 307.2l8 8-8 8-8-8zM1839.5 308l8 8-8 8-8-8zM1840.2 308.9l8 8-8 8-8-8zM1841 309.8l8 8-8 8-8-8zM1841.8 310.9l8 8-8 8-8-8zM1842.5 312.1l8 8-8 8-8-8zM1843.2 313.5l8 8-8 8-8-8zM1844 315.2l8 8-8 8-8-8zM1844.8 317.3l8 8-8 8-8-8zM1845.5 319.9l8 8-8 8-8-8zM1846.2 322.8l8 8-8 8-8-8zM1847 325.9l8 8-8 8-8-8zM1847.8 329l8 8-8 8-8-8zM1848.5 332l8 8-8 8-8-8zM1849.2 335.2l8 8-8 8-8-8zM1850 338.5l8 8-8 8-8-8zM1850.8 341.9l8 8-8 8-8-8zM1851.5 345.5l8 8-8 8-8-8zM1852.2 349.1l8 8-8 8-8-8zM1853 352.8l8 8-8 8-8-8zM1853.8 356.6l8 8-8 8-8-8zM1854.5 360.4l8 8-8 8-8-8zM1855.2 364.3l8 8-8 8-8-8zM1856 368.4l8 8-8 8-8-8zM1856.8 372.5l8 8-8 8-8-8zM1857.5 376.7l8 8-8 8-8-8zM1858.2 381.1l8 8-8 8-8-8zM1859 385.6l8 8-8 8-8-8zM1859.8 390.2l8 8-8 8-8-8zM1860.5 394.9l8 8-8 8-8-8zM1861.2 399.8l8 8-8 8-8-8zM1862 404.9l8 8-8 8-8-8zM1862.8 410l8 8-8 8-8-8zM1863.5 415.3l8 8-8 8-8-8zM1864.2 420.6l8 8-8 8-8-8zM1865 425.8l8 8-8 8-8-8zM1865.8 430.9l8 8-8 8-8-8zM1866.5 436.1l8 8-8 8-8-8zM1867.2 441.3l8 8-8 8-8-8zM1868 446.7l8 8-8 8-8-8zM1868.8 452.4l8 8-8 8-8-8zM1869.5 458.5l8 8-8 8-8-8zM1870.2 464.9l8 8-8 8-8-8zM1871 471.6l8 8-8 8-8-8zM1871.8 478.6l8 8-8 8-8-8zM1872.5 485.8l8 8-8 8-8-8zM1873.2 493.4l8 8-8 8-8-8zM1874 501.3l8 8-8 8-8-8zM1874.8 509.3l8 8-8 8-8-8zM1875.5 517l8 8-8 8-8-8zM1876.2 523.8l8 8-8 8-8-8zM1877 530l8 8-8 8-8-8zM1877.8 536.9l8 8-8 8-8-8zM1878.5 545.3l8 8-8 8-8-8zM1879.2 557.3l8 8-8 8-8-8zM1880 571.1l8 8-8 8-8-8zM1880.8 583.7l8 8-8 8-8-8zM1881.5 596l8 8-8 8-8-8zM1882.2 607.6l8 8-8 8-8-8zM1883 617.8l8 8-8 8-8-8zM1883.8 626.2l8 8-8 8-8-8zM1884.5 634l8 8-8 8-8-8zM1885.2 642.5l8 8-8 8-8-8zM1886 653.3l8 8-8 8-8-8zM1886.8 668.8l8 8-8 8-8-8zM1887.5 684.3l8 8-8 8-8-8zM1888.2 695.9l8 8-8 8-8-8zM1889 705.9l8 8-8 8-8-8zM1889.8 715.7l8 8-8 8-8-8zM1890.5 726.5l8 8-8 8-8-8zM1891.2 738.1l8 8-8 8-8-8zM1892 750.1l8 8-8 8-8-8zM1892.8 761.9l8 8-8 8-8-8zM1893.5 773.3l8 8-8 8-8-8zM1894.2 785l8 8-8 8-8-8zM1895 797.5l8 8-8 8-8-8zM1895.8 811.5l8 8-8 8-8-8zM1896.5 825.9l8 8-8 8-8-8zM1897.2 839.2l8 8-8 8-8-8zM1898 849.9l8 8-8 8-8-8zM1898.8 859.1l8 8-8 8-8-8zM1899.5 869.3l8 8-8 8-8-8zM1900.2 883.8l8 8-8 8-8-8zM1901 906.5l8 8-8 8-8-8zM1901.8 922.4l8 8-8 8-8-8zM1902.5 934l8 8-8 8-8-8zM1903.2 944.7l8 8-8 8-8-8zM1904 956.3l8 8-8 8-8-8zM1904.8 968.2l8 8-8 8-8-8zM1905.5 980.7l8 8-8 8-8-8zM1906.2 994.9l8 8-8 8-8-8zM1907 1011.1l8 8-8 8-8-8zM1907.8 1024.2l8 8-8 8-8-8zM1908.5 1033.7l8 8-8 8-8-8zM1909.2 1041.7l8 8-8 8-8-8zM1910 1049.5l8 8-8 8-8-8zM1910.8 1058.7l8 8-8 8-8-8zM1911.5 1069.5l8 8-8 8-8-8zM1912.2 1081.5l8 8-8 8-8-8zM1913 1094l8 8-8 8-8-8zM1913.8 1107.8l8 8-8 8-8-8zM1914.5 1122.5l8 8-8 8-8-8zM1915.2 1136.1l8 8-8 8-8-8zM1916 1146.9l8 8-8 8-8-8zM1916.8 1155.8l8 8-8 8-8-8zM1917.5 1164.1l8 8-8 8-8-8zM1918.2 1172.9l8 8-8 8-8-8zM1919 1183.3l8 8-8 8-8-8zM1919.8 1196.5l8 8-8 8-8-8zM1920.5 1210.4l8 8-8 8-8-8zM1921.2 1222.3l8 8-8 8-8-8zM1922 1232.5l8 8-8 8-8-8zM1922.8 1242l8 8-8 8-8-8zM1923.5 1251l8 8-8 8-8-8zM1924.2 1260l8 8-8 8-8-8zM1925 1269l8 8-8 8-8-8zM1925.8 1277.9l8 8-8 8-8-8zM1926.5 1286.2l8 8-8 8-8-8zM1927.2 1293.6l8 8-8 8-8-8zM1928 1300.1l8 8-8 8-8-8zM1928.8 1305.7l8 8-8 8-8-8zM1929.5 1310.9l8 8-8 8-8-8zM1930.2 1315.8l8 8-8 8-8-8zM1931 1320.8l8 8-8 8-8-8zM1931.8 1326l8 8-8 8-8-8zM1932.5 1331.8l8 8-8 8-8-8zM1933.2 1338.6l8 8-8 8-8-8zM1934 1346.4l8 8-8 8-8-8zM1934.8 1354.7l8 8-8 8-8-8zM1935.5 1362.7l8 8-8 8-8-8zM1936.2 1369.9l8 8-8 8-8-8zM1937 1375.8l8 8-8 8-8-8zM1937.8 1381.1l8 8-8 8-8-8zM1938.5 1386l8 8-8 8-8-8zM1939.2 1390.5l8 8-8 8-8-8zM1940 1394.9l8 8-8 8-8-8zM1940.8 1399.3l8 8-8 8-8-8zM1941.5 1403.5l8 8-8 8-8-8zM1942.2 1407.5l8 8-8 8-8-8zM1943 1411.3l8 8-8 8-8-8zM1943.8 1414.8l8 8-8 8-8-8zM1944.5 1418l8 8-8 8-8-8zM1945.2 1420.8l8 8-8 8-8-8zM1946 1423.3l8 8-8 8-8-8zM1946.8 1425.7l8 8-8 8-8-8zM1947.5 1428l8 8-8 8-8-8zM1948.2 1430.3l8 8-8 8-8-8zM1949 1432.5l8 8-8 8-8-8zM1949.8 1434.6l8 8-8 8-8-8zM1950.5 1436.7l8 8-8 8-8-8zM1951.2 1438.9l8 8-8 8-8-8zM1952 1441.1l8 8-8 8-8-8zM1952.8 1443.4l8 8-8 8-8-8zM1953.5 1445.7l8 8-8 8-8-8zM1954.2 1447.8l8 8-8 8-8-8zM1955 1449.5l8 8-8 8-8-8zM1955.8 1450.9l8 8-8 8-8-8zM1956.5 1452.2l8 8-8 8-8-8zM1957.2 1453.4l8 8-8 8-8-8zM1958 1454.4l8 8-8 8-8-8zM1958.8 1455.4l8 8-8 8-8-8zM1959.5 1456.4l8 8-8 8-8-8zM1960.2 1457.3l8 8-8 8-8-8zM1961 1458.2l8 8-8 8-8-8zM1961.8 1459l8 8-8 8-8-8zM1962.5 1459.8l8 8-8 8-8-8zM1963.2 1460.6l8 8-8 8-8-8zM1964 1461.3l8 8-8 8-8-8zM1964.8 1462l8 8-8 8-8-8zM1965.5 1462.6l8 8-8 8-8-8zM1966.2 1463.2l8 8-8 8-8-8zM1967 1463.7l8 8-8 8-8-8zM1967.8 1464.2l8 8-8 8-8-8zM1968.5 1464.7l8 8-8 8-8-8zM1969.2 1465.2l8 8-8 8-8-8zM1970 1465.6l8 8-8 8-8-8zM1970.8 1466.1l8 8-8 8-8-8zM1971.5 1466.5l8 8-8 8-8-8zM1972.2 1466.9l8 8-8 8-8-8zM1973 1467.2l8 8-8 8-8-8zM1973.8 1467.5l8 8-8 8-8-8zM1974.5 1467.8l8 8-8 8-8-8zM1975.2 1468.1l8 8-8 8-8-8zM1976 1468.3l8 8-8 8-8-8zM1976.8 1468.6l8 8-8 8-8-8zM1977.5 1468.8l8 8-8 8-8-8zM1978.2 1469.1l8 8-8 8-8-8zM1979 1469.3l8 8-8 8-8-8zM1979.8 1469.5l8 8-8 8-8-8zM1980.5 1469.8l8 8-8 8-8-8zM1981.2 1470l8 8-8 8-8-8zM1982 1470.2l8 8-8 8-8-8zM1982.8 1470.4l8 8-8 8-8-8zM1983.5 1470.5l8 8-8 8-8-8zM1984.2 1470.7l8 8-8 8-8-8zM1985 1470.9l8 8-8 8-8-8zM1985.8 1471l8 8-8 8-8-8zM1986.5 1471.1l8 8-8 8-8-8zM1987.2 1471.2l8 8-8 8-8-8zM1988 1471.3l8 8-8 8-8-8zM1988.8 1471.4l8 8-8 8-8-8zM1989.5 1471.5l8 8-8 8-8-8zM1990.2 1471.5l8 8-8 8-8-8zM1991 1471.5l8 8-8 8-8-8zM1991.8 1471.6l8 8-8 8-8-8zM1992.5 1471.6l8 8-8 8-8-8zM1993.2 1471.6l8 8-8 8-8-8zM1994 1471.7l8 8-8 8-8-8zM1994.8 1471.7l8 8-8 8-8-8zM1995.5 1471.7l8 8-8 8-8-8zM1996.2 1471.8l8 8-8 8-8-8zM1997 1471.8l8 8-8 8-8-8zM1997.8 1471.8l8 8-8 8-8-8zM1998.5 1471.8l8 8-8 8-8-8zM1999.2 1471.8l8 8-8 8-8-8zM2000 1471.9l8 8-8 8-8-8zM2000.8 1471.9l8 8-8 8-8-8zM2001.5 1471.9l8 8-8 8-8-8zM2002.2 1471.9l8 8-8 8-8-8zM2003 1471.9l8 8-8 8-8-8zM2003.8 1471.9l8 8-8 8-8-8zM2004.5 1472l8 8-8 8-8-8zM2005.2 1472l8 8-8 8-8-8zM2006 1472l8 8-8 8-8-8zM2006.8 1472l8 8-8 8-8-8zM2007.5 1472l8 8-8 8-8-8z" fill="#c278e2" shape-rendering="crispEdges"/></g><rect x="301" y="129" width="941" height="360" fill="#000"/><rect x="280.5" y="108.5" width="940" height="359" fill="#fff" stroke="#000" stroke-width="3"/><text transform="translate(287 159.2) scale(1 1.06)" font-family="'Liberation Sans', Arial, sans-serif" font-size="47.1">Fast Spectrum Benchmark</text><path d="M338 200.5H446" stroke="#000000" stroke-width="3"/><path d="M386 195h12v11h-12z" fill="#777777" shape-rendering="crispEdges"/><text transform="translate(458.5 217) scale(1 1.05)" font-family="'Liberation Sans', Arial, sans-serif" font-size="47.65">Jezebel (PU-MET-FAST-001)</text><path d="M338 259.3H446" stroke="#ff0000" stroke-width="3"/><path d="M385.7 259.3a6.3 6.3 0 1 0 12.6 0a6.3 6.3 0 1 0-12.6 0z" fill="#ff3b3b" shape-rendering="crispEdges"/><text transform="translate(458.5 275.8) scale(1 1.05)" font-family="'Liberation Sans', Arial, sans-serif" font-size="47.65">Jezebel-240 (PU-MET-FAST-002)</text><path d="M338 317.6H446" stroke="#00ff00" stroke-width="3"/><path d="M392 309l7.5 13h-15z" fill="#006be3" shape-rendering="crispEdges"/><text transform="translate(458.5 334.1) scale(1 1.05)" font-family="'Liberation Sans', Arial, sans-serif" font-size="47.65">Godiva (HEU-MET-FAST-001)</text><path d="M338 376.4H446" stroke="#0000ff" stroke-width="3"/><path d="M384.5 371h15l-7.5 12.9z" fill="#00ad63" shape-rendering="crispEdges"/><text transform="translate(458.5 392.9) scale(1 1.05)" font-family="'Liberation Sans', Arial, sans-serif" font-size="47.65">Flattop-25 (HEU-MET-FAST-028)</text><path d="M338 434.6H446" stroke="#00ffff" stroke-width="3"/><path d="M392 426.6l8 8-8 8-8-8z" fill="#c278e2" shape-rendering="crispEdges"/><text transform="translate(458.5 451.1) scale(1 1.05)" font-family="'Liberation Sans', Arial, sans-serif" font-size="47.65">Jezebel-233 (U233-MET-FAST-001)</text><text transform="translate(191 1498.8) scale(1 1.06)" font-family="'Liberation Sans', Arial, sans-serif" font-size="60" text-anchor="end">0.0</text><text transform="translate(191 1212) scale(1 1.06)" font-family="'Liberation Sans', Arial, sans-serif" font-size="60" text-anchor="end">0.1</text><text transform="translate(191 925.2) scale(1 1.06)" font-family="'Liberation Sans', Arial, sans-serif" font-size="60" text-anchor="end">0.2</text><text transform="translate(191 638.4) scale(1 1.06)" font-family="'Liberation Sans', Arial, sans-serif" font-size="60" text-anchor="end">0.3</text><text transform="translate(191 351.6) scale(1 1.06)" font-family="'Liberation Sans', Arial, sans-serif" font-size="60" text-anchor="end">0.4</text><text transform="translate(191 64.8) scale(1 1.06)" font-family="'Liberation Sans', Arial, sans-serif" font-size="60" text-anchor="end">0.5</text><text transform="translate(239 1586) scale(1 1.06)" font-family="'Liberation Sans', Arial, sans-serif" font-size="60" text-anchor="middle">10<tspan font-size="40" dx="-2" dy="-25">-4</tspan></text><text transform="translate(395 1586) scale(1 1.06)" font-family="'Liberation Sans', Arial, sans-serif" font-size="60" text-anchor="middle">10<tspan font-size="40" dx="-2" dy="-25">-3</tspan></text><text transform="translate(551 1586) scale(1 1.06)" font-family="'Liberation Sans', Arial, sans-serif" font-size="60" text-anchor="middle">10<tspan font-size="40" dx="-2" dy="-25">-2</tspan></text><text transform="translate(707 1586) scale(1 1.06)" font-family="'Liberation Sans', Arial, sans-serif" font-size="60" text-anchor="middle">10<tspan font-size="40" dx="-2" dy="-25">-1</tspan></text><text transform="translate(863 1586) scale(1 1.06)" font-family="'Liberation Sans', Arial, sans-serif" font-size="60" text-anchor="middle">10<tspan font-size="40" dx="-2" dy="-25">0</tspan></text><text transform="translate(1019 1586) scale(1 1.06)" font-family="'Liberation Sans', Arial, sans-serif" font-size="60" text-anchor="middle">10<tspan font-size="40" dx="-2" dy="-25">1</tspan></text><text transform="translate(1175 1586) scale(1 1.06)" font-family="'Liberation Sans', Arial, sans-serif" font-size="60" text-anchor="middle">10<tspan font-size="40" dx="-2" dy="-25">2</tspan></text><text transform="translate(1331 1586) scale(1 1.06)" font-family="'Liberation Sans', Arial, sans-serif" font-size="60" text-anchor="middle">10<tspan font-size="40" dx="-2" dy="-25">3</tspan></text><text transform="translate(1487 1586) scale(1 1.06)" font-family="'Liberation Sans', Arial, sans-serif" font-size="60" text-anchor="middle">10<tspan font-size="40" dx="-2" dy="-25">4</tspan></text><text transform="translate(1643 1586) scale(1 1.06)" font-family="'Liberation Sans', Arial, sans-serif" font-size="60" text-anchor="middle">10<tspan font-size="40" dx="-2" dy="-25">5</tspan></text><text transform="translate(1799 1586) scale(1 1.06)" font-family="'Liberation Sans', Arial, sans-serif" font-size="60" text-anchor="middle">10<tspan font-size="40" dx="-2" dy="-25">6</tspan></text><text transform="translate(1955 1586) scale(1 1.06)" font-family="'Liberation Sans', Arial, sans-serif" font-size="60" text-anchor="middle">10<tspan font-size="40" dx="-2" dy="-25">7</tspan></text><text transform="translate(1118 1694.8) scale(1 1.06)" font-family="'Liberation Sans', Arial, sans-serif" font-size="73.9" text-anchor="middle">Energy (eV)</text><text transform="translate(76.1 762) rotate(-90) scale(1 1.053)" font-family="'Liberation Sans', Arial, sans-serif" font-size="74.7" text-anchor="middle">Flux per Lethargy (a.u.)</text></svg></body></html>
